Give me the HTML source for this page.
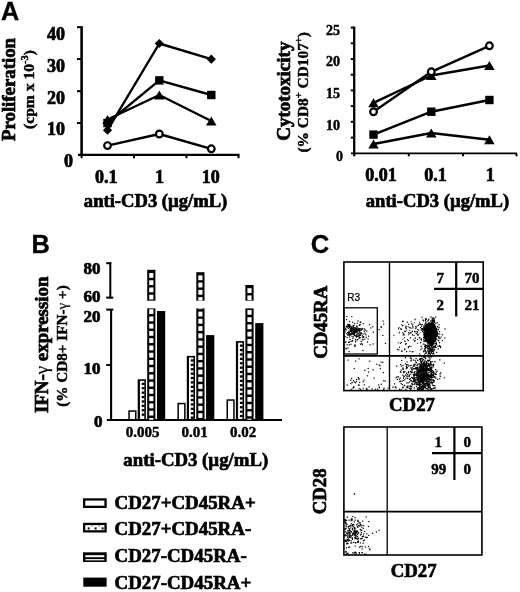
<!DOCTYPE html>
<html><head><meta charset="utf-8"><style>
html,body{margin:0;padding:0;background:#fff;}
body{width:520px;height:592px;overflow:hidden;}
svg{display:block;filter:grayscale(1);}
</style></head><body>
<svg width="520" height="592" viewBox="0 0 520 592">
<rect width="520" height="592" fill="#fff"/>
<text x="1.0" y="19.6" font-size="25.2" text-anchor="start" font-family="Liberation Sans" font-weight="bold" stroke="#000" stroke-width="0.3">A</text>
<text x="31.4" y="252.6" font-size="25.4" text-anchor="start" font-family="Liberation Sans" font-weight="bold" stroke="#000" stroke-width="0.3">B</text>
<text x="310.8" y="253.0" font-size="25.6" text-anchor="start" font-family="Liberation Sans" font-weight="bold" stroke="#000" stroke-width="0.3">C</text>
<line x1="81.6" y1="26.2" x2="81.6" y2="156" stroke="#000" stroke-width="2.6"/>
<line x1="78" y1="154.9" x2="239.5" y2="154.9" stroke="#000" stroke-width="2.1"/>
<line x1="77" y1="27.2" x2="81.6" y2="27.2" stroke="#000" stroke-width="2"/>
<line x1="77" y1="59.0" x2="81.6" y2="59.0" stroke="#000" stroke-width="2"/>
<line x1="77" y1="91.2" x2="81.6" y2="91.2" stroke="#000" stroke-width="2"/>
<line x1="77" y1="123.0" x2="81.6" y2="123.0" stroke="#000" stroke-width="2"/>
<line x1="81.6" y1="155" x2="81.6" y2="158.2" stroke="#000" stroke-width="2"/>
<line x1="134" y1="155" x2="134" y2="158.2" stroke="#000" stroke-width="2"/>
<line x1="186.5" y1="155" x2="186.5" y2="158.2" stroke="#000" stroke-width="2"/>
<line x1="238.5" y1="155" x2="238.5" y2="158.2" stroke="#000" stroke-width="2"/>
<text x="65" y="39.8" font-size="18" text-anchor="end" font-family="Liberation Serif" font-weight="bold" stroke="#000" stroke-width="0.7">40</text>
<text x="65" y="71.9" font-size="18" text-anchor="end" font-family="Liberation Serif" font-weight="bold" stroke="#000" stroke-width="0.7">30</text>
<text x="65" y="104.0" font-size="18" text-anchor="end" font-family="Liberation Serif" font-weight="bold" stroke="#000" stroke-width="0.7">20</text>
<text x="65" y="135.2" font-size="18" text-anchor="end" font-family="Liberation Serif" font-weight="bold" stroke="#000" stroke-width="0.7">10</text>
<text x="73" y="167.4" font-size="18" text-anchor="end" font-family="Liberation Serif" font-weight="bold" stroke="#000" stroke-width="0.7">0</text>
<text x="106.2" y="182.7" font-size="18" text-anchor="middle" font-family="Liberation Serif" font-weight="bold" stroke="#000" stroke-width="0.7">0.1</text>
<text x="159.4" y="182.7" font-size="18" text-anchor="middle" font-family="Liberation Serif" font-weight="bold" stroke="#000" stroke-width="0.7">1</text>
<text x="210.8" y="182.7" font-size="18" text-anchor="middle" font-family="Liberation Serif" font-weight="bold" stroke="#000" stroke-width="0.7">10</text>
<text x="155.6" y="206.7" font-size="18.6" text-anchor="middle" font-family="Liberation Serif" font-weight="bold" stroke="#000" stroke-width="0.7">anti-CD3 (µg/mL)</text>
<text transform="translate(15.3,89.5) rotate(-90)" font-size="18.8" text-anchor="middle" font-family="Liberation Serif" font-weight="bold" stroke="#000" stroke-width="0.7">Proliferation</text>
<text transform="translate(33.6,89.5) rotate(-90)" font-size="15.6" text-anchor="middle" font-family="Liberation Serif" font-weight="bold" stroke="#000" stroke-width="0.45">(cpm x 10<tspan font-size="10.5" dy="-6">-3</tspan><tspan dy="6">)</tspan></text>
<polyline points="107.5,130.2 159.3,43.5 211.3,59.2" fill="none" stroke="#000" stroke-width="2.4" stroke-linejoin="round"/>
<polyline points="107.5,123.0 159.3,80.4 211.3,95.0" fill="none" stroke="#000" stroke-width="2.4" stroke-linejoin="round"/>
<polyline points="107.5,119.5 159.3,95.0 211.3,121.0" fill="none" stroke="#000" stroke-width="2.4" stroke-linejoin="round"/>
<polyline points="107.5,145.6 159.3,134.0 211.3,148.8" fill="none" stroke="#000" stroke-width="2.4" stroke-linejoin="round"/>
<polygon points="107.5,125.6 112.1,130.2 107.5,134.79999999999998 102.9,130.2" fill="#000"/>
<polygon points="159.3,38.9 163.9,43.5 159.3,48.1 154.70000000000002,43.5" fill="#000"/>
<polygon points="211.3,54.6 215.9,59.2 211.3,63.800000000000004 206.70000000000002,59.2" fill="#000"/>
<rect x="103.3" y="118.8" width="8.4" height="8.4" fill="#000"/>
<rect x="155.10000000000002" y="76.2" width="8.4" height="8.4" fill="#000"/>
<rect x="207.10000000000002" y="90.8" width="8.4" height="8.4" fill="#000"/>
<polygon points="107.5,115.0 112.75,124.0 102.25,124.0" fill="#000"/>
<polygon points="159.3,90.5 164.55,99.5 154.05,99.5" fill="#000"/>
<polygon points="211.3,116.5 216.55,125.5 206.05,125.5" fill="#000"/>
<circle cx="107.5" cy="145.6" r="3.35" fill="#fff" stroke="#000" stroke-width="2.2"/>
<circle cx="159.3" cy="134.0" r="3.35" fill="#fff" stroke="#000" stroke-width="2.2"/>
<circle cx="211.3" cy="148.8" r="3.35" fill="#fff" stroke="#000" stroke-width="2.2"/>
<line x1="354.2" y1="26.6" x2="354.2" y2="154.5" stroke="#000" stroke-width="2.3"/>
<line x1="351" y1="153.4" x2="517" y2="153.4" stroke="#000" stroke-width="1.9"/>
<line x1="350.8" y1="27.6" x2="354.2" y2="27.6" stroke="#000" stroke-width="2"/>
<line x1="350.8" y1="43.3" x2="354.2" y2="43.3" stroke="#000" stroke-width="2"/>
<line x1="350.8" y1="59.0" x2="354.2" y2="59.0" stroke="#000" stroke-width="2"/>
<line x1="350.8" y1="74.7" x2="354.2" y2="74.7" stroke="#000" stroke-width="2"/>
<line x1="350.8" y1="90.4" x2="354.2" y2="90.4" stroke="#000" stroke-width="2"/>
<line x1="350.8" y1="106.1" x2="354.2" y2="106.1" stroke="#000" stroke-width="2"/>
<line x1="350.8" y1="121.8" x2="354.2" y2="121.8" stroke="#000" stroke-width="2"/>
<line x1="350.8" y1="137.6" x2="354.2" y2="137.6" stroke="#000" stroke-width="2"/>
<line x1="354.2" y1="153.4" x2="354.2" y2="156.3" stroke="#000" stroke-width="2"/>
<line x1="408.8" y1="153.4" x2="408.8" y2="156.3" stroke="#000" stroke-width="2"/>
<line x1="463" y1="153.4" x2="463" y2="156.3" stroke="#000" stroke-width="2"/>
<line x1="516.5" y1="153.4" x2="516.5" y2="156.3" stroke="#000" stroke-width="2"/>
<text x="340" y="34.6" font-size="14" text-anchor="end" font-family="Liberation Serif" font-weight="bold" stroke="#000" stroke-width="0.45">25</text>
<text x="340" y="66.3" font-size="14" text-anchor="end" font-family="Liberation Serif" font-weight="bold" stroke="#000" stroke-width="0.45">20</text>
<text x="340" y="98.0" font-size="14" text-anchor="end" font-family="Liberation Serif" font-weight="bold" stroke="#000" stroke-width="0.45">15</text>
<text x="340" y="129.8" font-size="14" text-anchor="end" font-family="Liberation Serif" font-weight="bold" stroke="#000" stroke-width="0.45">10</text>
<text x="343" y="160.7" font-size="14" text-anchor="end" font-family="Liberation Serif" font-weight="bold" stroke="#000" stroke-width="0.45">0</text>
<text x="381" y="180.7" font-size="18" text-anchor="middle" font-family="Liberation Serif" font-weight="bold" stroke="#000" stroke-width="0.7">0.01</text>
<text x="435.4" y="180.7" font-size="18" text-anchor="middle" font-family="Liberation Serif" font-weight="bold" stroke="#000" stroke-width="0.7">0.1</text>
<text x="490.2" y="180.7" font-size="18" text-anchor="middle" font-family="Liberation Serif" font-weight="bold" stroke="#000" stroke-width="0.7">1</text>
<text x="437.5" y="206.7" font-size="18.6" text-anchor="middle" font-family="Liberation Serif" font-weight="bold" stroke="#000" stroke-width="0.7">anti-CD3 (µg/mL)</text>
<text transform="translate(289.5,91.2) rotate(-90)" font-size="19" text-anchor="middle" font-family="Liberation Serif" font-weight="bold" stroke="#000" stroke-width="0.7">Cytotoxicity</text>
<text transform="translate(307.8,92.3) rotate(-90)" font-size="15.4" text-anchor="middle" font-family="Liberation Serif" font-weight="bold" stroke="#000" stroke-width="0.45">(% CD8<tspan font-size="10.5" dy="-6">+</tspan><tspan dy="6"> CD107</tspan><tspan font-size="10.5" dy="-6">+</tspan><tspan dy="6">)</tspan></text>
<polyline points="373.5,111.8 431.3,71.8 489.4,45.8" fill="none" stroke="#000" stroke-width="2.4" stroke-linejoin="round"/>
<polyline points="373.5,102.8 431.3,75.5 489.4,65.5" fill="none" stroke="#000" stroke-width="2.4" stroke-linejoin="round"/>
<polyline points="373.5,134.6 431.3,111.7 489.4,100.0" fill="none" stroke="#000" stroke-width="2.4" stroke-linejoin="round"/>
<polyline points="373.5,144.0 431.3,133.0 489.4,139.8" fill="none" stroke="#000" stroke-width="2.4" stroke-linejoin="round"/>
<polygon points="373.5,98.3 378.75,107.3 368.25,107.3" fill="#000"/>
<polygon points="431.3,71.0 436.55,80.0 426.05,80.0" fill="#000"/>
<polygon points="489.4,61.0 494.65,70.0 484.15,70.0" fill="#000"/>
<rect x="369.3" y="130.4" width="8.4" height="8.4" fill="#000"/>
<rect x="427.1" y="107.5" width="8.4" height="8.4" fill="#000"/>
<rect x="485.2" y="95.8" width="8.4" height="8.4" fill="#000"/>
<polygon points="373.5,139.5 378.75,148.5 368.25,148.5" fill="#000"/>
<polygon points="431.3,128.5 436.55,137.5 426.05,137.5" fill="#000"/>
<polygon points="489.4,135.3 494.65,144.3 484.15,144.3" fill="#000"/>
<circle cx="373.5" cy="111.8" r="3.35" fill="#fff" stroke="#000" stroke-width="2.2"/>
<circle cx="431.3" cy="71.8" r="3.35" fill="#fff" stroke="#000" stroke-width="2.2"/>
<circle cx="489.4" cy="45.8" r="3.35" fill="#fff" stroke="#000" stroke-width="2.2"/>
<line x1="110.3" y1="262.3" x2="110.3" y2="298.5" stroke="#000" stroke-width="2"/>
<line x1="106.2" y1="263.2" x2="111.3" y2="263.2" stroke="#000" stroke-width="2"/>
<line x1="106.2" y1="297.6" x2="113.3" y2="297.6" stroke="#000" stroke-width="2"/>
<line x1="106.2" y1="309.6" x2="113.3" y2="309.6" stroke="#000" stroke-width="2"/>
<line x1="111.1" y1="309.6" x2="111.1" y2="420.5" stroke="#000" stroke-width="2.1"/>
<line x1="106.3" y1="365" x2="111.1" y2="365" stroke="#000" stroke-width="2"/>
<line x1="106.8" y1="419.9" x2="282" y2="419.9" stroke="#000" stroke-width="2"/>
<text x="100.5" y="274" font-size="17" text-anchor="end" font-family="Liberation Serif" font-weight="bold" stroke="#000" stroke-width="0.7">80</text>
<text x="100.5" y="301.5" font-size="17" text-anchor="end" font-family="Liberation Serif" font-weight="bold" stroke="#000" stroke-width="0.7">60</text>
<text x="100.5" y="322" font-size="17" text-anchor="end" font-family="Liberation Serif" font-weight="bold" stroke="#000" stroke-width="0.7">20</text>
<text x="100.6" y="373.8" font-size="17" text-anchor="end" font-family="Liberation Serif" font-weight="bold" stroke="#000" stroke-width="0.7">10</text>
<text x="102.5" y="427.1" font-size="17" text-anchor="end" font-family="Liberation Serif" font-weight="bold" stroke="#000" stroke-width="0.7">0</text>
<text x="142.5" y="437.3" font-size="15" text-anchor="middle" font-family="Liberation Serif" font-weight="bold" stroke="#000" stroke-width="0.45">0.005</text>
<text x="194.5" y="437.3" font-size="15" text-anchor="middle" font-family="Liberation Serif" font-weight="bold" stroke="#000" stroke-width="0.45">0.01</text>
<text x="243.2" y="437.3" font-size="15" text-anchor="middle" font-family="Liberation Serif" font-weight="bold" stroke="#000" stroke-width="0.45">0.02</text>
<text x="195.8" y="465.7" font-size="18.8" text-anchor="middle" font-family="Liberation Serif" font-weight="bold" stroke="#000" stroke-width="0.7">anti-CD3 (µg/mL)</text>
<text transform="translate(47.8,344.8) rotate(-90)" font-size="18.9" text-anchor="middle" font-family="Liberation Serif" font-weight="bold" stroke="#000" stroke-width="0.7">IFN-<tspan font-weight="normal" stroke-width="0.2">γ</tspan> expression</text>
<text transform="translate(67.3,346.0) rotate(-90)" font-size="15.2" text-anchor="middle" font-family="Liberation Serif" font-weight="bold" stroke="#000" stroke-width="0.45">(% CD8+ IFN-<tspan font-weight="normal" stroke-width="0.2">γ</tspan> +)</text>
<rect x="129.05" y="411.05" width="6.699999999999999" height="8.75" fill="#fff" stroke="#000" stroke-width="1.5"/>
<rect x="138.50000000000003" y="380.1" width="6.6" height="39.7" fill="#fff" stroke="#000" stroke-width="1.6"/>
<rect x="138.9" y="380.5" width="1.0" height="39.3" fill="#000"/>
<rect x="141.70000000000002" y="382.70" width="2.8" height="2.3" fill="#000"/>
<rect x="141.70000000000002" y="387.10" width="2.8" height="2.3" fill="#000"/>
<rect x="141.70000000000002" y="391.50" width="2.8" height="2.3" fill="#000"/>
<rect x="141.70000000000002" y="395.90" width="2.8" height="2.3" fill="#000"/>
<rect x="141.70000000000002" y="400.30" width="2.8" height="2.3" fill="#000"/>
<rect x="141.70000000000002" y="404.70" width="2.8" height="2.3" fill="#000"/>
<rect x="141.70000000000002" y="409.10" width="2.8" height="2.3" fill="#000"/>
<rect x="141.70000000000002" y="413.50" width="2.8" height="2.3" fill="#000"/>
<rect x="147.20000000000002" y="269.8" width="8.2" height="30.899999999999977" fill="#000"/>
<rect x="149.20000000000002" y="273.00" width="4.199999999999999" height="4.80" fill="#fff"/>
<rect x="149.20000000000002" y="280.25" width="4.199999999999999" height="4.80" fill="#fff"/>
<rect x="149.20000000000002" y="287.50" width="4.199999999999999" height="4.80" fill="#fff"/>
<rect x="149.20000000000002" y="294.75" width="4.199999999999999" height="4.80" fill="#fff"/>
<rect x="147.20000000000002" y="308.4" width="8.2" height="111.40000000000003" fill="#000"/>
<rect x="149.20000000000002" y="309.25" width="4.199999999999999" height="4.80" fill="#fff"/>
<rect x="149.20000000000002" y="316.50" width="4.199999999999999" height="4.80" fill="#fff"/>
<rect x="149.20000000000002" y="323.75" width="4.199999999999999" height="4.80" fill="#fff"/>
<rect x="149.20000000000002" y="331.00" width="4.199999999999999" height="4.80" fill="#fff"/>
<rect x="149.20000000000002" y="338.25" width="4.199999999999999" height="4.80" fill="#fff"/>
<rect x="149.20000000000002" y="345.50" width="4.199999999999999" height="4.80" fill="#fff"/>
<rect x="149.20000000000002" y="352.75" width="4.199999999999999" height="4.80" fill="#fff"/>
<rect x="149.20000000000002" y="360.00" width="4.199999999999999" height="4.80" fill="#fff"/>
<rect x="149.20000000000002" y="367.25" width="4.199999999999999" height="4.80" fill="#fff"/>
<rect x="149.20000000000002" y="374.50" width="4.199999999999999" height="4.80" fill="#fff"/>
<rect x="149.20000000000002" y="381.75" width="4.199999999999999" height="4.80" fill="#fff"/>
<rect x="149.20000000000002" y="389.00" width="4.199999999999999" height="4.80" fill="#fff"/>
<rect x="149.20000000000002" y="396.25" width="4.199999999999999" height="4.80" fill="#fff"/>
<rect x="149.20000000000002" y="403.50" width="4.199999999999999" height="4.80" fill="#fff"/>
<rect x="149.20000000000002" y="410.75" width="4.199999999999999" height="4.80" fill="#fff"/>
<rect x="149.20000000000002" y="418.00" width="4.199999999999999" height="1.80" fill="#fff"/>
<rect x="157.0" y="311.0" width="8.2" height="108.80000000000001" fill="#000"/>
<rect x="178.15" y="403.55" width="6.699999999999999" height="16.25" fill="#fff" stroke="#000" stroke-width="1.5"/>
<rect x="187.60000000000002" y="356.7" width="6.6" height="63.10000000000004" fill="#fff" stroke="#000" stroke-width="1.6"/>
<rect x="188.0" y="357.09999999999997" width="1.0" height="62.70000000000003" fill="#000"/>
<rect x="190.8" y="359.30" width="2.8" height="2.3" fill="#000"/>
<rect x="190.8" y="363.70" width="2.8" height="2.3" fill="#000"/>
<rect x="190.8" y="368.10" width="2.8" height="2.3" fill="#000"/>
<rect x="190.8" y="372.50" width="2.8" height="2.3" fill="#000"/>
<rect x="190.8" y="376.90" width="2.8" height="2.3" fill="#000"/>
<rect x="190.8" y="381.30" width="2.8" height="2.3" fill="#000"/>
<rect x="190.8" y="385.70" width="2.8" height="2.3" fill="#000"/>
<rect x="190.8" y="390.10" width="2.8" height="2.3" fill="#000"/>
<rect x="190.8" y="394.50" width="2.8" height="2.3" fill="#000"/>
<rect x="190.8" y="398.90" width="2.8" height="2.3" fill="#000"/>
<rect x="190.8" y="403.30" width="2.8" height="2.3" fill="#000"/>
<rect x="190.8" y="407.70" width="2.8" height="2.3" fill="#000"/>
<rect x="190.8" y="412.10" width="2.8" height="2.3" fill="#000"/>
<rect x="190.8" y="416.50" width="2.8" height="2.3" fill="#000"/>
<rect x="196.3" y="272.2" width="8.2" height="28.5" fill="#000"/>
<rect x="198.3" y="275.40" width="4.199999999999999" height="4.80" fill="#fff"/>
<rect x="198.3" y="282.65" width="4.199999999999999" height="4.80" fill="#fff"/>
<rect x="198.3" y="289.90" width="4.199999999999999" height="4.80" fill="#fff"/>
<rect x="198.3" y="297.15" width="4.199999999999999" height="3.55" fill="#fff"/>
<rect x="196.3" y="308.4" width="8.2" height="111.40000000000003" fill="#000"/>
<rect x="198.3" y="308.40" width="4.199999999999999" height="0.80" fill="#fff"/>
<rect x="198.3" y="311.65" width="4.199999999999999" height="4.80" fill="#fff"/>
<rect x="198.3" y="318.90" width="4.199999999999999" height="4.80" fill="#fff"/>
<rect x="198.3" y="326.15" width="4.199999999999999" height="4.80" fill="#fff"/>
<rect x="198.3" y="333.40" width="4.199999999999999" height="4.80" fill="#fff"/>
<rect x="198.3" y="340.65" width="4.199999999999999" height="4.80" fill="#fff"/>
<rect x="198.3" y="347.90" width="4.199999999999999" height="4.80" fill="#fff"/>
<rect x="198.3" y="355.15" width="4.199999999999999" height="4.80" fill="#fff"/>
<rect x="198.3" y="362.40" width="4.199999999999999" height="4.80" fill="#fff"/>
<rect x="198.3" y="369.65" width="4.199999999999999" height="4.80" fill="#fff"/>
<rect x="198.3" y="376.90" width="4.199999999999999" height="4.80" fill="#fff"/>
<rect x="198.3" y="384.15" width="4.199999999999999" height="4.80" fill="#fff"/>
<rect x="198.3" y="391.40" width="4.199999999999999" height="4.80" fill="#fff"/>
<rect x="198.3" y="398.65" width="4.199999999999999" height="4.80" fill="#fff"/>
<rect x="198.3" y="405.90" width="4.199999999999999" height="4.80" fill="#fff"/>
<rect x="198.3" y="413.15" width="4.199999999999999" height="4.80" fill="#fff"/>
<rect x="206.1" y="335.1" width="8.2" height="84.69999999999999" fill="#000"/>
<rect x="227.25" y="400.05" width="6.699999999999999" height="19.75" fill="#fff" stroke="#000" stroke-width="1.5"/>
<rect x="236.70000000000002" y="341.90000000000003" width="6.6" height="77.89999999999999" fill="#fff" stroke="#000" stroke-width="1.6"/>
<rect x="237.1" y="342.3" width="1.0" height="77.49999999999999" fill="#000"/>
<rect x="239.9" y="344.50" width="2.8" height="2.3" fill="#000"/>
<rect x="239.9" y="348.90" width="2.8" height="2.3" fill="#000"/>
<rect x="239.9" y="353.30" width="2.8" height="2.3" fill="#000"/>
<rect x="239.9" y="357.70" width="2.8" height="2.3" fill="#000"/>
<rect x="239.9" y="362.10" width="2.8" height="2.3" fill="#000"/>
<rect x="239.9" y="366.50" width="2.8" height="2.3" fill="#000"/>
<rect x="239.9" y="370.90" width="2.8" height="2.3" fill="#000"/>
<rect x="239.9" y="375.30" width="2.8" height="2.3" fill="#000"/>
<rect x="239.9" y="379.70" width="2.8" height="2.3" fill="#000"/>
<rect x="239.9" y="384.10" width="2.8" height="2.3" fill="#000"/>
<rect x="239.9" y="388.50" width="2.8" height="2.3" fill="#000"/>
<rect x="239.9" y="392.90" width="2.8" height="2.3" fill="#000"/>
<rect x="239.9" y="397.30" width="2.8" height="2.3" fill="#000"/>
<rect x="239.9" y="401.70" width="2.8" height="2.3" fill="#000"/>
<rect x="239.9" y="406.10" width="2.8" height="2.3" fill="#000"/>
<rect x="239.9" y="410.50" width="2.8" height="2.3" fill="#000"/>
<rect x="239.9" y="414.90" width="2.8" height="2.3" fill="#000"/>
<rect x="245.4" y="285.0" width="8.2" height="15.699999999999989" fill="#000"/>
<rect x="247.4" y="288.20" width="4.199999999999999" height="4.80" fill="#fff"/>
<rect x="247.4" y="295.45" width="4.199999999999999" height="4.80" fill="#fff"/>
<rect x="245.4" y="308.4" width="8.2" height="111.40000000000003" fill="#000"/>
<rect x="247.4" y="309.95" width="4.199999999999999" height="4.80" fill="#fff"/>
<rect x="247.4" y="317.20" width="4.199999999999999" height="4.80" fill="#fff"/>
<rect x="247.4" y="324.45" width="4.199999999999999" height="4.80" fill="#fff"/>
<rect x="247.4" y="331.70" width="4.199999999999999" height="4.80" fill="#fff"/>
<rect x="247.4" y="338.95" width="4.199999999999999" height="4.80" fill="#fff"/>
<rect x="247.4" y="346.20" width="4.199999999999999" height="4.80" fill="#fff"/>
<rect x="247.4" y="353.45" width="4.199999999999999" height="4.80" fill="#fff"/>
<rect x="247.4" y="360.70" width="4.199999999999999" height="4.80" fill="#fff"/>
<rect x="247.4" y="367.95" width="4.199999999999999" height="4.80" fill="#fff"/>
<rect x="247.4" y="375.20" width="4.199999999999999" height="4.80" fill="#fff"/>
<rect x="247.4" y="382.45" width="4.199999999999999" height="4.80" fill="#fff"/>
<rect x="247.4" y="389.70" width="4.199999999999999" height="4.80" fill="#fff"/>
<rect x="247.4" y="396.95" width="4.199999999999999" height="4.80" fill="#fff"/>
<rect x="247.4" y="404.20" width="4.199999999999999" height="4.80" fill="#fff"/>
<rect x="247.4" y="411.45" width="4.199999999999999" height="4.80" fill="#fff"/>
<rect x="247.4" y="418.70" width="4.199999999999999" height="1.10" fill="#fff"/>
<rect x="255.2" y="323.1" width="8.2" height="96.69999999999999" fill="#000"/>
<rect x="84.15" y="499.45" width="21.4" height="7.3999999999999995" fill="#fff" stroke="#000" stroke-width="2.3"/>
<text x="114.5" y="508.5" font-size="18.9" text-anchor="start" font-family="Liberation Serif" font-weight="bold" stroke="#000" stroke-width="0.7">CD27+CD45RA+</text>
<rect x="84.15" y="523.9499999999999" width="21.4" height="7.3999999999999995" fill="#fff" stroke="#000" stroke-width="2.3"/>
<rect x="87.7" y="527.4" width="2.0" height="2.0" fill="#000"/>
<rect x="94.6" y="527.4" width="2.0" height="2.0" fill="#000"/>
<rect x="101.6" y="527.4" width="2.0" height="2.0" fill="#000"/>
<rect x="91.3" y="525.4" width="1.6" height="1.2" fill="#888"/>
<rect x="98.2" y="525.4" width="1.6" height="1.2" fill="#888"/>
<text x="114.5" y="535.0" font-size="18.9" text-anchor="start" font-family="Liberation Serif" font-weight="bold" stroke="#000" stroke-width="0.7">CD27+CD45RA-</text>
<rect x="83.0" y="552.3" width="23.7" height="9.7" fill="#000"/>
<rect x="85.4" y="555.1999999999999" width="18.9" height="2.0" fill="#fff"/>
<rect x="85.4" y="559.0" width="18.9" height="1.4" fill="#ddd"/>
<text x="114.5" y="562.0" font-size="18.9" text-anchor="start" font-family="Liberation Serif" font-weight="bold" stroke="#000" stroke-width="0.7">CD27-CD45RA-</text>
<rect x="83.3" y="577.6" width="23.3" height="9.1" fill="#000"/>
<text x="114.5" y="589.0" font-size="18.9" text-anchor="start" font-family="Liberation Serif" font-weight="bold" stroke="#000" stroke-width="0.7">CD27-CD45RA+</text>
<rect x="343.9" y="262" width="139.3" height="128.6" fill="none" stroke="#000" stroke-width="1.6"/>
<line x1="389.5" y1="262" x2="389.5" y2="390.6" stroke="#000" stroke-width="1.4"/>
<line x1="343.9" y1="355.9" x2="483.2" y2="355.9" stroke="#000" stroke-width="1.7"/>
<rect x="343.9" y="307.8" width="33.4" height="46.2" fill="none" stroke="#000" stroke-width="1.3"/>
<line x1="456.2" y1="262" x2="456.2" y2="316.5" stroke="#000" stroke-width="2.2"/>
<line x1="434" y1="288.8" x2="483.2" y2="288.8" stroke="#000" stroke-width="2.2"/>
<text x="444" y="282.5" font-size="15" text-anchor="end" font-family="Liberation Serif" font-weight="bold" stroke="#000" stroke-width="0.45">7</text>
<text x="479.5" y="282.5" font-size="15" text-anchor="end" font-family="Liberation Serif" font-weight="bold" stroke="#000" stroke-width="0.45">70</text>
<text x="444" y="309.5" font-size="15" text-anchor="end" font-family="Liberation Serif" font-weight="bold" stroke="#000" stroke-width="0.45">2</text>
<text x="479.5" y="309.5" font-size="15" text-anchor="end" font-family="Liberation Serif" font-weight="bold" stroke="#000" stroke-width="0.45">21</text>
<text x="347.2" y="300.6" font-size="10" text-anchor="start" font-family="Liberation Sans" stroke="#000" stroke-width="0.25">R3</text>
<text x="412.0" y="411.2" font-size="18.8" text-anchor="middle" font-family="Liberation Serif" font-weight="bold" stroke="#000" stroke-width="0.7">CD27</text>
<text transform="translate(326.5,322.3) rotate(-90)" font-size="18.8" text-anchor="middle" font-family="Liberation Serif" font-weight="bold" stroke="#000" stroke-width="0.7">CD45RA</text>
<rect x="343.9" y="427" width="138" height="128" fill="none" stroke="#000" stroke-width="1.6"/>
<line x1="387.2" y1="427" x2="387.2" y2="555" stroke="#000" stroke-width="1.3"/>
<line x1="343.9" y1="511.6" x2="481.9" y2="511.6" stroke="#000" stroke-width="1.6"/>
<line x1="454.4" y1="427" x2="454.4" y2="480" stroke="#000" stroke-width="2.2"/>
<line x1="432" y1="453.2" x2="481.9" y2="453.2" stroke="#000" stroke-width="2.2"/>
<text x="442" y="447.2" font-size="15" text-anchor="end" font-family="Liberation Serif" font-weight="bold" stroke="#000" stroke-width="0.45">1</text>
<text x="471" y="447.2" font-size="15" text-anchor="end" font-family="Liberation Serif" font-weight="bold" stroke="#000" stroke-width="0.45">0</text>
<text x="446.3" y="474.1" font-size="15" text-anchor="end" font-family="Liberation Serif" font-weight="bold" stroke="#000" stroke-width="0.45">99</text>
<text x="471" y="474.1" font-size="15" text-anchor="end" font-family="Liberation Serif" font-weight="bold" stroke="#000" stroke-width="0.45">0</text>
<text x="413.6" y="576.6" font-size="18.8" text-anchor="middle" font-family="Liberation Serif" font-weight="bold" stroke="#000" stroke-width="0.7">CD27</text>
<text transform="translate(326.3,491.4) rotate(-90)" font-size="18.8" text-anchor="middle" font-family="Liberation Serif" font-weight="bold" stroke="#000" stroke-width="0.7">CD28</text>
<rect x="432.0" y="337.4" width="1.3" height="1.3" fill="#000"/>
<rect x="434.6" y="336.3" width="1.3" height="1.3" fill="#000"/>
<rect x="426.6" y="338.3" width="1.3" height="1.3" fill="#000"/>
<rect x="428.3" y="332.4" width="1.3" height="1.3" fill="#000"/>
<rect x="428.7" y="333.4" width="1.3" height="1.3" fill="#000"/>
<rect x="431.3" y="334.1" width="1.3" height="1.3" fill="#000"/>
<rect x="431.8" y="326.4" width="1.3" height="1.3" fill="#000"/>
<rect x="430.2" y="336.2" width="1.3" height="1.3" fill="#000"/>
<rect x="434.8" y="329.8" width="1.3" height="1.3" fill="#000"/>
<rect x="425.9" y="337.4" width="1.3" height="1.3" fill="#000"/>
<rect x="436.1" y="335.6" width="1.3" height="1.3" fill="#000"/>
<rect x="428.3" y="342.1" width="1.3" height="1.3" fill="#000"/>
<rect x="431.7" y="335.3" width="1.3" height="1.3" fill="#000"/>
<rect x="431.3" y="327.2" width="1.3" height="1.3" fill="#000"/>
<rect x="427.4" y="330.3" width="1.3" height="1.3" fill="#000"/>
<rect x="426.2" y="338.6" width="1.3" height="1.3" fill="#000"/>
<rect x="434.4" y="335.6" width="1.3" height="1.3" fill="#000"/>
<rect x="430.3" y="335.0" width="1.3" height="1.3" fill="#000"/>
<rect x="425.0" y="336.4" width="1.3" height="1.3" fill="#000"/>
<rect x="426.7" y="329.5" width="1.3" height="1.3" fill="#000"/>
<rect x="428.5" y="339.3" width="1.3" height="1.3" fill="#000"/>
<rect x="428.0" y="323.6" width="1.3" height="1.3" fill="#000"/>
<rect x="426.9" y="330.2" width="1.3" height="1.3" fill="#000"/>
<rect x="433.2" y="327.1" width="1.3" height="1.3" fill="#000"/>
<rect x="428.5" y="341.3" width="1.3" height="1.3" fill="#000"/>
<rect x="434.7" y="339.6" width="1.3" height="1.3" fill="#000"/>
<rect x="430.0" y="325.7" width="1.3" height="1.3" fill="#000"/>
<rect x="427.3" y="332.8" width="1.3" height="1.3" fill="#000"/>
<rect x="429.2" y="330.7" width="1.3" height="1.3" fill="#000"/>
<rect x="424.7" y="328.4" width="1.3" height="1.3" fill="#000"/>
<rect x="427.4" y="341.7" width="1.3" height="1.3" fill="#000"/>
<rect x="425.3" y="327.6" width="1.3" height="1.3" fill="#000"/>
<rect x="425.0" y="334.7" width="1.3" height="1.3" fill="#000"/>
<rect x="435.5" y="329.2" width="1.3" height="1.3" fill="#000"/>
<rect x="427.5" y="326.3" width="1.3" height="1.3" fill="#000"/>
<rect x="429.4" y="330.1" width="1.3" height="1.3" fill="#000"/>
<rect x="435.2" y="332.2" width="1.3" height="1.3" fill="#000"/>
<rect x="428.6" y="341.9" width="1.3" height="1.3" fill="#000"/>
<rect x="427.8" y="326.8" width="1.3" height="1.3" fill="#000"/>
<rect x="428.9" y="332.9" width="1.3" height="1.3" fill="#000"/>
<rect x="431.9" y="335.5" width="1.3" height="1.3" fill="#000"/>
<rect x="430.0" y="330.0" width="1.3" height="1.3" fill="#000"/>
<rect x="429.9" y="336.4" width="1.3" height="1.3" fill="#000"/>
<rect x="432.7" y="327.8" width="1.3" height="1.3" fill="#000"/>
<rect x="428.1" y="333.5" width="1.3" height="1.3" fill="#000"/>
<rect x="433.5" y="327.3" width="1.3" height="1.3" fill="#000"/>
<rect x="433.8" y="325.3" width="1.3" height="1.3" fill="#000"/>
<rect x="426.8" y="335.4" width="1.3" height="1.3" fill="#000"/>
<rect x="432.8" y="328.3" width="1.3" height="1.3" fill="#000"/>
<rect x="433.6" y="341.0" width="1.3" height="1.3" fill="#000"/>
<rect x="430.2" y="337.0" width="1.3" height="1.3" fill="#000"/>
<rect x="426.7" y="333.0" width="1.3" height="1.3" fill="#000"/>
<rect x="429.4" y="340.7" width="1.3" height="1.3" fill="#000"/>
<rect x="429.5" y="332.9" width="1.3" height="1.3" fill="#000"/>
<rect x="426.2" y="329.9" width="1.3" height="1.3" fill="#000"/>
<rect x="427.5" y="322.9" width="1.3" height="1.3" fill="#000"/>
<rect x="426.3" y="327.4" width="1.3" height="1.3" fill="#000"/>
<rect x="435.0" y="335.5" width="1.3" height="1.3" fill="#000"/>
<rect x="431.0" y="322.7" width="1.3" height="1.3" fill="#000"/>
<rect x="431.7" y="323.1" width="1.3" height="1.3" fill="#000"/>
<rect x="426.5" y="336.5" width="1.3" height="1.3" fill="#000"/>
<rect x="428.4" y="330.0" width="1.3" height="1.3" fill="#000"/>
<rect x="431.4" y="333.6" width="1.3" height="1.3" fill="#000"/>
<rect x="431.4" y="336.7" width="1.3" height="1.3" fill="#000"/>
<rect x="433.5" y="334.6" width="1.3" height="1.3" fill="#000"/>
<rect x="429.9" y="332.7" width="1.3" height="1.3" fill="#000"/>
<rect x="428.5" y="335.1" width="1.3" height="1.3" fill="#000"/>
<rect x="430.6" y="331.3" width="1.3" height="1.3" fill="#000"/>
<rect x="432.9" y="339.2" width="1.3" height="1.3" fill="#000"/>
<rect x="427.9" y="336.9" width="1.3" height="1.3" fill="#000"/>
<rect x="432.7" y="337.0" width="1.3" height="1.3" fill="#000"/>
<rect x="435.9" y="332.1" width="1.3" height="1.3" fill="#000"/>
<rect x="425.4" y="333.3" width="1.3" height="1.3" fill="#000"/>
<rect x="431.4" y="334.4" width="1.3" height="1.3" fill="#000"/>
<rect x="429.5" y="338.7" width="1.3" height="1.3" fill="#000"/>
<rect x="433.0" y="340.7" width="1.3" height="1.3" fill="#000"/>
<rect x="430.8" y="332.1" width="1.3" height="1.3" fill="#000"/>
<rect x="432.8" y="338.7" width="1.3" height="1.3" fill="#000"/>
<rect x="434.6" y="333.9" width="1.3" height="1.3" fill="#000"/>
<rect x="434.6" y="331.5" width="1.3" height="1.3" fill="#000"/>
<rect x="427.8" y="323.3" width="1.3" height="1.3" fill="#000"/>
<rect x="427.6" y="336.6" width="1.3" height="1.3" fill="#000"/>
<rect x="430.2" y="328.3" width="1.3" height="1.3" fill="#000"/>
<rect x="430.7" y="324.9" width="1.3" height="1.3" fill="#000"/>
<rect x="430.5" y="338.5" width="1.3" height="1.3" fill="#000"/>
<rect x="435.8" y="331.6" width="1.3" height="1.3" fill="#000"/>
<rect x="432.0" y="323.4" width="1.3" height="1.3" fill="#000"/>
<rect x="429.5" y="323.0" width="1.3" height="1.3" fill="#000"/>
<rect x="426.7" y="332.0" width="1.3" height="1.3" fill="#000"/>
<rect x="433.7" y="333.7" width="1.3" height="1.3" fill="#000"/>
<rect x="429.6" y="334.3" width="1.3" height="1.3" fill="#000"/>
<rect x="428.7" y="327.5" width="1.3" height="1.3" fill="#000"/>
<rect x="423.7" y="335.9" width="1.3" height="1.3" fill="#000"/>
<rect x="436.2" y="331.8" width="1.3" height="1.3" fill="#000"/>
<rect x="425.6" y="340.3" width="1.3" height="1.3" fill="#000"/>
<rect x="430.3" y="337.5" width="1.3" height="1.3" fill="#000"/>
<rect x="430.7" y="337.1" width="1.3" height="1.3" fill="#000"/>
<rect x="434.1" y="327.6" width="1.3" height="1.3" fill="#000"/>
<rect x="423.8" y="333.8" width="1.3" height="1.3" fill="#000"/>
<rect x="431.5" y="324.4" width="1.3" height="1.3" fill="#000"/>
<rect x="428.8" y="329.9" width="1.3" height="1.3" fill="#000"/>
<rect x="431.1" y="322.6" width="1.3" height="1.3" fill="#000"/>
<rect x="424.2" y="333.8" width="1.3" height="1.3" fill="#000"/>
<rect x="430.5" y="328.2" width="1.3" height="1.3" fill="#000"/>
<rect x="431.0" y="326.7" width="1.3" height="1.3" fill="#000"/>
<rect x="424.7" y="338.9" width="1.3" height="1.3" fill="#000"/>
<rect x="433.8" y="330.3" width="1.3" height="1.3" fill="#000"/>
<rect x="432.6" y="340.5" width="1.3" height="1.3" fill="#000"/>
<rect x="431.2" y="335.6" width="1.3" height="1.3" fill="#000"/>
<rect x="432.0" y="323.1" width="1.3" height="1.3" fill="#000"/>
<rect x="431.0" y="329.0" width="1.3" height="1.3" fill="#000"/>
<rect x="426.3" y="323.8" width="1.3" height="1.3" fill="#000"/>
<rect x="426.1" y="330.7" width="1.3" height="1.3" fill="#000"/>
<rect x="432.2" y="332.9" width="1.3" height="1.3" fill="#000"/>
<rect x="426.0" y="324.1" width="1.3" height="1.3" fill="#000"/>
<rect x="434.2" y="329.4" width="1.3" height="1.3" fill="#000"/>
<rect x="432.9" y="327.5" width="1.3" height="1.3" fill="#000"/>
<rect x="431.3" y="341.9" width="1.3" height="1.3" fill="#000"/>
<rect x="429.0" y="337.7" width="1.3" height="1.3" fill="#000"/>
<rect x="427.1" y="329.9" width="1.3" height="1.3" fill="#000"/>
<rect x="426.9" y="335.2" width="1.3" height="1.3" fill="#000"/>
<rect x="431.9" y="330.5" width="1.3" height="1.3" fill="#000"/>
<rect x="426.1" y="334.2" width="1.3" height="1.3" fill="#000"/>
<rect x="434.0" y="328.0" width="1.3" height="1.3" fill="#000"/>
<rect x="433.6" y="329.2" width="1.3" height="1.3" fill="#000"/>
<rect x="425.3" y="331.1" width="1.3" height="1.3" fill="#000"/>
<rect x="434.6" y="333.4" width="1.3" height="1.3" fill="#000"/>
<rect x="431.6" y="339.0" width="1.3" height="1.3" fill="#000"/>
<rect x="430.0" y="331.9" width="1.3" height="1.3" fill="#000"/>
<rect x="427.1" y="333.3" width="1.3" height="1.3" fill="#000"/>
<rect x="424.6" y="329.4" width="1.3" height="1.3" fill="#000"/>
<rect x="426.1" y="331.9" width="1.3" height="1.3" fill="#000"/>
<rect x="430.9" y="324.8" width="1.3" height="1.3" fill="#000"/>
<rect x="427.9" y="331.3" width="1.3" height="1.3" fill="#000"/>
<rect x="429.3" y="337.8" width="1.3" height="1.3" fill="#000"/>
<rect x="424.1" y="332.1" width="1.3" height="1.3" fill="#000"/>
<rect x="430.2" y="324.6" width="1.3" height="1.3" fill="#000"/>
<rect x="423.9" y="336.1" width="1.3" height="1.3" fill="#000"/>
<rect x="424.7" y="332.3" width="1.3" height="1.3" fill="#000"/>
<rect x="428.2" y="325.4" width="1.3" height="1.3" fill="#000"/>
<rect x="425.5" y="331.1" width="1.3" height="1.3" fill="#000"/>
<rect x="434.1" y="329.9" width="1.3" height="1.3" fill="#000"/>
<rect x="433.8" y="326.3" width="1.3" height="1.3" fill="#000"/>
<rect x="429.5" y="342.8" width="1.3" height="1.3" fill="#000"/>
<rect x="434.5" y="329.8" width="1.3" height="1.3" fill="#000"/>
<rect x="433.8" y="339.9" width="1.3" height="1.3" fill="#000"/>
<rect x="427.7" y="333.9" width="1.3" height="1.3" fill="#000"/>
<rect x="430.0" y="335.4" width="1.3" height="1.3" fill="#000"/>
<rect x="429.0" y="330.0" width="1.3" height="1.3" fill="#000"/>
<rect x="434.5" y="326.9" width="1.3" height="1.3" fill="#000"/>
<rect x="429.3" y="328.5" width="1.3" height="1.3" fill="#000"/>
<rect x="433.2" y="339.3" width="1.3" height="1.3" fill="#000"/>
<rect x="435.9" y="330.5" width="1.3" height="1.3" fill="#000"/>
<rect x="432.8" y="331.1" width="1.3" height="1.3" fill="#000"/>
<rect x="425.7" y="333.1" width="1.3" height="1.3" fill="#000"/>
<rect x="433.1" y="323.4" width="1.3" height="1.3" fill="#000"/>
<rect x="427.4" y="334.3" width="1.3" height="1.3" fill="#000"/>
<rect x="427.3" y="339.0" width="1.3" height="1.3" fill="#000"/>
<rect x="428.6" y="336.8" width="1.3" height="1.3" fill="#000"/>
<rect x="435.4" y="333.6" width="1.3" height="1.3" fill="#000"/>
<rect x="425.3" y="335.4" width="1.3" height="1.3" fill="#000"/>
<rect x="429.4" y="333.8" width="1.3" height="1.3" fill="#000"/>
<rect x="424.7" y="331.9" width="1.3" height="1.3" fill="#000"/>
<rect x="431.5" y="332.3" width="1.3" height="1.3" fill="#000"/>
<rect x="435.6" y="330.9" width="1.3" height="1.3" fill="#000"/>
<rect x="429.6" y="336.0" width="1.3" height="1.3" fill="#000"/>
<rect x="430.1" y="330.5" width="1.3" height="1.3" fill="#000"/>
<rect x="432.2" y="336.6" width="1.3" height="1.3" fill="#000"/>
<rect x="433.5" y="328.9" width="1.3" height="1.3" fill="#000"/>
<rect x="429.5" y="342.1" width="1.3" height="1.3" fill="#000"/>
<rect x="432.1" y="330.6" width="1.3" height="1.3" fill="#000"/>
<rect x="428.3" y="324.9" width="1.3" height="1.3" fill="#000"/>
<rect x="431.7" y="333.7" width="1.3" height="1.3" fill="#000"/>
<rect x="425.0" y="336.5" width="1.3" height="1.3" fill="#000"/>
<rect x="431.5" y="331.5" width="1.3" height="1.3" fill="#000"/>
<rect x="431.5" y="324.5" width="1.3" height="1.3" fill="#000"/>
<rect x="431.0" y="330.1" width="1.3" height="1.3" fill="#000"/>
<rect x="431.0" y="330.5" width="1.3" height="1.3" fill="#000"/>
<rect x="427.5" y="338.6" width="1.3" height="1.3" fill="#000"/>
<rect x="434.2" y="329.0" width="1.3" height="1.3" fill="#000"/>
<rect x="432.2" y="336.5" width="1.3" height="1.3" fill="#000"/>
<rect x="430.2" y="340.2" width="1.3" height="1.3" fill="#000"/>
<rect x="431.0" y="335.5" width="1.3" height="1.3" fill="#000"/>
<rect x="430.3" y="334.8" width="1.3" height="1.3" fill="#000"/>
<rect x="428.6" y="338.1" width="1.3" height="1.3" fill="#000"/>
<rect x="428.4" y="341.5" width="1.3" height="1.3" fill="#000"/>
<rect x="431.9" y="339.3" width="1.3" height="1.3" fill="#000"/>
<rect x="433.7" y="333.3" width="1.3" height="1.3" fill="#000"/>
<rect x="433.1" y="333.1" width="1.3" height="1.3" fill="#000"/>
<rect x="424.5" y="329.7" width="1.3" height="1.3" fill="#000"/>
<rect x="427.0" y="333.3" width="1.3" height="1.3" fill="#000"/>
<rect x="434.9" y="338.9" width="1.3" height="1.3" fill="#000"/>
<rect x="424.4" y="336.5" width="1.3" height="1.3" fill="#000"/>
<rect x="432.2" y="326.1" width="1.3" height="1.3" fill="#000"/>
<rect x="425.7" y="332.3" width="1.3" height="1.3" fill="#000"/>
<rect x="435.3" y="331.6" width="1.3" height="1.3" fill="#000"/>
<rect x="431.8" y="327.2" width="1.3" height="1.3" fill="#000"/>
<rect x="426.2" y="325.8" width="1.3" height="1.3" fill="#000"/>
<rect x="427.4" y="338.1" width="1.3" height="1.3" fill="#000"/>
<rect x="430.9" y="334.4" width="1.3" height="1.3" fill="#000"/>
<rect x="429.7" y="329.7" width="1.3" height="1.3" fill="#000"/>
<rect x="431.6" y="337.1" width="1.3" height="1.3" fill="#000"/>
<rect x="430.9" y="330.0" width="1.3" height="1.3" fill="#000"/>
<rect x="426.9" y="323.9" width="1.3" height="1.3" fill="#000"/>
<rect x="430.0" y="338.2" width="1.3" height="1.3" fill="#000"/>
<rect x="426.4" y="334.0" width="1.3" height="1.3" fill="#000"/>
<rect x="427.4" y="334.0" width="1.3" height="1.3" fill="#000"/>
<rect x="433.1" y="331.3" width="1.3" height="1.3" fill="#000"/>
<rect x="423.6" y="329.5" width="1.3" height="1.3" fill="#000"/>
<rect x="433.0" y="331.4" width="1.3" height="1.3" fill="#000"/>
<rect x="427.6" y="337.2" width="1.3" height="1.3" fill="#000"/>
<rect x="429.7" y="332.8" width="1.3" height="1.3" fill="#000"/>
<rect x="425.3" y="332.4" width="1.3" height="1.3" fill="#000"/>
<rect x="426.9" y="332.4" width="1.3" height="1.3" fill="#000"/>
<rect x="429.8" y="333.3" width="1.3" height="1.3" fill="#000"/>
<rect x="428.3" y="334.4" width="1.3" height="1.3" fill="#000"/>
<rect x="431.2" y="332.9" width="1.3" height="1.3" fill="#000"/>
<rect x="430.2" y="338.4" width="1.3" height="1.3" fill="#000"/>
<rect x="424.9" y="331.1" width="1.3" height="1.3" fill="#000"/>
<rect x="426.7" y="324.9" width="1.3" height="1.3" fill="#000"/>
<rect x="433.9" y="326.4" width="1.3" height="1.3" fill="#000"/>
<rect x="428.0" y="338.4" width="1.3" height="1.3" fill="#000"/>
<rect x="433.7" y="341.0" width="1.3" height="1.3" fill="#000"/>
<rect x="426.4" y="325.5" width="1.3" height="1.3" fill="#000"/>
<rect x="430.6" y="330.6" width="1.3" height="1.3" fill="#000"/>
<rect x="425.5" y="325.4" width="1.3" height="1.3" fill="#000"/>
<rect x="432.0" y="324.2" width="1.3" height="1.3" fill="#000"/>
<rect x="427.4" y="332.0" width="1.3" height="1.3" fill="#000"/>
<rect x="432.2" y="326.1" width="1.3" height="1.3" fill="#000"/>
<rect x="432.6" y="324.1" width="1.3" height="1.3" fill="#000"/>
<rect x="433.8" y="327.5" width="1.3" height="1.3" fill="#000"/>
<rect x="427.9" y="324.3" width="1.3" height="1.3" fill="#000"/>
<rect x="433.0" y="333.5" width="1.3" height="1.3" fill="#000"/>
<rect x="428.3" y="335.5" width="1.3" height="1.3" fill="#000"/>
<rect x="430.9" y="329.6" width="1.3" height="1.3" fill="#000"/>
<rect x="426.4" y="326.9" width="1.3" height="1.3" fill="#000"/>
<rect x="427.6" y="324.9" width="1.3" height="1.3" fill="#000"/>
<rect x="434.5" y="332.7" width="1.3" height="1.3" fill="#000"/>
<rect x="429.8" y="323.1" width="1.3" height="1.3" fill="#000"/>
<rect x="425.3" y="330.9" width="1.3" height="1.3" fill="#000"/>
<rect x="434.8" y="336.0" width="1.3" height="1.3" fill="#000"/>
<rect x="429.8" y="341.6" width="1.3" height="1.3" fill="#000"/>
<rect x="429.7" y="335.4" width="1.3" height="1.3" fill="#000"/>
<rect x="431.4" y="341.2" width="1.3" height="1.3" fill="#000"/>
<rect x="435.5" y="331.2" width="1.3" height="1.3" fill="#000"/>
<rect x="426.4" y="337.6" width="1.3" height="1.3" fill="#000"/>
<rect x="428.0" y="325.8" width="1.3" height="1.3" fill="#000"/>
<rect x="425.6" y="326.3" width="1.3" height="1.3" fill="#000"/>
<rect x="434.5" y="336.5" width="1.3" height="1.3" fill="#000"/>
<rect x="429.8" y="336.6" width="1.3" height="1.3" fill="#000"/>
<rect x="427.9" y="341.2" width="1.3" height="1.3" fill="#000"/>
<rect x="434.8" y="333.2" width="1.3" height="1.3" fill="#000"/>
<rect x="429.7" y="335.1" width="1.3" height="1.3" fill="#000"/>
<rect x="427.9" y="324.4" width="1.3" height="1.3" fill="#000"/>
<rect x="428.5" y="341.0" width="1.3" height="1.3" fill="#000"/>
<rect x="425.2" y="334.2" width="1.3" height="1.3" fill="#000"/>
<rect x="433.2" y="337.5" width="1.3" height="1.3" fill="#000"/>
<rect x="431.8" y="342.1" width="1.3" height="1.3" fill="#000"/>
<rect x="435.9" y="328.5" width="1.3" height="1.3" fill="#000"/>
<rect x="429.0" y="332.9" width="1.3" height="1.3" fill="#000"/>
<rect x="435.7" y="330.6" width="1.3" height="1.3" fill="#000"/>
<rect x="429.3" y="339.6" width="1.3" height="1.3" fill="#000"/>
<rect x="432.7" y="330.9" width="1.3" height="1.3" fill="#000"/>
<rect x="427.2" y="330.2" width="1.3" height="1.3" fill="#000"/>
<rect x="427.4" y="331.9" width="1.3" height="1.3" fill="#000"/>
<rect x="434.2" y="340.2" width="1.3" height="1.3" fill="#000"/>
<rect x="423.9" y="332.0" width="1.3" height="1.3" fill="#000"/>
<rect x="428.1" y="323.0" width="1.3" height="1.3" fill="#000"/>
<rect x="432.4" y="329.5" width="1.3" height="1.3" fill="#000"/>
<rect x="434.4" y="333.7" width="1.3" height="1.3" fill="#000"/>
<rect x="429.5" y="332.6" width="1.3" height="1.3" fill="#000"/>
<rect x="428.4" y="339.3" width="1.3" height="1.3" fill="#000"/>
<rect x="428.5" y="335.9" width="1.3" height="1.3" fill="#000"/>
<rect x="431.8" y="327.5" width="1.3" height="1.3" fill="#000"/>
<rect x="429.9" y="332.1" width="1.3" height="1.3" fill="#000"/>
<rect x="434.3" y="339.2" width="1.3" height="1.3" fill="#000"/>
<rect x="428.4" y="322.6" width="1.3" height="1.3" fill="#000"/>
<rect x="428.3" y="342.3" width="1.3" height="1.3" fill="#000"/>
<rect x="426.7" y="336.6" width="1.3" height="1.3" fill="#000"/>
<rect x="424.3" y="326.9" width="1.3" height="1.3" fill="#000"/>
<rect x="426.3" y="335.3" width="1.3" height="1.3" fill="#000"/>
<rect x="433.2" y="334.2" width="1.3" height="1.3" fill="#000"/>
<rect x="430.9" y="329.6" width="1.3" height="1.3" fill="#000"/>
<rect x="433.1" y="330.3" width="1.3" height="1.3" fill="#000"/>
<rect x="429.5" y="337.8" width="1.3" height="1.3" fill="#000"/>
<rect x="431.6" y="339.6" width="1.3" height="1.3" fill="#000"/>
<rect x="433.7" y="330.8" width="1.3" height="1.3" fill="#000"/>
<rect x="432.2" y="323.3" width="1.3" height="1.3" fill="#000"/>
<rect x="434.3" y="328.2" width="1.3" height="1.3" fill="#000"/>
<rect x="423.8" y="329.4" width="1.3" height="1.3" fill="#000"/>
<rect x="435.2" y="335.3" width="1.3" height="1.3" fill="#000"/>
<rect x="424.5" y="335.3" width="1.3" height="1.3" fill="#000"/>
<rect x="426.3" y="325.3" width="1.3" height="1.3" fill="#000"/>
<rect x="433.2" y="334.3" width="1.3" height="1.3" fill="#000"/>
<rect x="434.3" y="339.9" width="1.3" height="1.3" fill="#000"/>
<rect x="427.3" y="338.6" width="1.3" height="1.3" fill="#000"/>
<rect x="429.6" y="326.8" width="1.3" height="1.3" fill="#000"/>
<rect x="429.4" y="343.0" width="1.3" height="1.3" fill="#000"/>
<rect x="428.2" y="340.7" width="1.3" height="1.3" fill="#000"/>
<rect x="426.0" y="337.4" width="1.3" height="1.3" fill="#000"/>
<rect x="431.3" y="336.2" width="1.3" height="1.3" fill="#000"/>
<rect x="432.3" y="329.9" width="1.3" height="1.3" fill="#000"/>
<rect x="430.7" y="339.9" width="1.3" height="1.3" fill="#000"/>
<rect x="436.1" y="332.3" width="1.3" height="1.3" fill="#000"/>
<rect x="432.7" y="338.0" width="1.3" height="1.3" fill="#000"/>
<rect x="432.3" y="335.1" width="1.3" height="1.3" fill="#000"/>
<rect x="433.1" y="335.9" width="1.3" height="1.3" fill="#000"/>
<rect x="429.7" y="337.7" width="1.3" height="1.3" fill="#000"/>
<rect x="433.6" y="327.3" width="1.3" height="1.3" fill="#000"/>
<rect x="425.0" y="337.3" width="1.3" height="1.3" fill="#000"/>
<rect x="425.7" y="331.5" width="1.3" height="1.3" fill="#000"/>
<rect x="427.7" y="338.1" width="1.3" height="1.3" fill="#000"/>
<rect x="429.6" y="335.2" width="1.3" height="1.3" fill="#000"/>
<rect x="434.4" y="340.0" width="1.3" height="1.3" fill="#000"/>
<rect x="426.6" y="327.1" width="1.3" height="1.3" fill="#000"/>
<rect x="431.2" y="342.2" width="1.3" height="1.3" fill="#000"/>
<rect x="429.9" y="338.1" width="1.3" height="1.3" fill="#000"/>
<rect x="425.9" y="334.8" width="1.3" height="1.3" fill="#000"/>
<rect x="433.6" y="324.1" width="1.3" height="1.3" fill="#000"/>
<rect x="436.0" y="333.9" width="1.3" height="1.3" fill="#000"/>
<rect x="429.6" y="330.7" width="1.3" height="1.3" fill="#000"/>
<rect x="423.7" y="334.2" width="1.3" height="1.3" fill="#000"/>
<rect x="434.9" y="332.6" width="1.3" height="1.3" fill="#000"/>
<rect x="433.6" y="329.6" width="1.3" height="1.3" fill="#000"/>
<rect x="433.5" y="325.0" width="1.3" height="1.3" fill="#000"/>
<rect x="429.9" y="343.0" width="1.3" height="1.3" fill="#000"/>
<rect x="431.1" y="335.4" width="1.3" height="1.3" fill="#000"/>
<rect x="427.9" y="325.6" width="1.3" height="1.3" fill="#000"/>
<rect x="428.7" y="322.4" width="1.3" height="1.3" fill="#000"/>
<rect x="430.3" y="324.1" width="1.3" height="1.3" fill="#000"/>
<rect x="425.6" y="330.3" width="1.3" height="1.3" fill="#000"/>
<rect x="430.1" y="330.5" width="1.3" height="1.3" fill="#000"/>
<rect x="432.6" y="330.1" width="1.3" height="1.3" fill="#000"/>
<rect x="428.1" y="340.6" width="1.3" height="1.3" fill="#000"/>
<rect x="429.8" y="336.3" width="1.3" height="1.3" fill="#000"/>
<rect x="428.2" y="324.5" width="1.3" height="1.3" fill="#000"/>
<rect x="431.8" y="334.1" width="1.3" height="1.3" fill="#000"/>
<rect x="425.7" y="328.7" width="1.3" height="1.3" fill="#000"/>
<rect x="430.5" y="339.1" width="1.3" height="1.3" fill="#000"/>
<rect x="435.0" y="333.1" width="1.3" height="1.3" fill="#000"/>
<rect x="426.3" y="334.0" width="1.3" height="1.3" fill="#000"/>
<rect x="425.9" y="324.4" width="1.3" height="1.3" fill="#000"/>
<rect x="423.7" y="334.1" width="1.3" height="1.3" fill="#000"/>
<rect x="429.9" y="337.7" width="1.3" height="1.3" fill="#000"/>
<rect x="428.0" y="322.6" width="1.3" height="1.3" fill="#000"/>
<rect x="433.5" y="333.4" width="1.3" height="1.3" fill="#000"/>
<rect x="427.7" y="325.9" width="1.3" height="1.3" fill="#000"/>
<rect x="429.7" y="339.4" width="1.3" height="1.3" fill="#000"/>
<rect x="434.7" y="328.6" width="1.3" height="1.3" fill="#000"/>
<rect x="432.9" y="333.6" width="1.3" height="1.3" fill="#000"/>
<rect x="426.5" y="335.5" width="1.3" height="1.3" fill="#000"/>
<rect x="431.6" y="340.8" width="1.3" height="1.3" fill="#000"/>
<rect x="429.4" y="323.1" width="1.3" height="1.3" fill="#000"/>
<rect x="431.2" y="339.8" width="1.3" height="1.3" fill="#000"/>
<rect x="427.4" y="342.2" width="1.3" height="1.3" fill="#000"/>
<rect x="430.6" y="342.1" width="1.3" height="1.3" fill="#000"/>
<rect x="430.1" y="327.6" width="1.3" height="1.3" fill="#000"/>
<rect x="433.3" y="330.8" width="1.3" height="1.3" fill="#000"/>
<rect x="431.6" y="339.4" width="1.3" height="1.3" fill="#000"/>
<rect x="427.1" y="335.0" width="1.3" height="1.3" fill="#000"/>
<rect x="435.0" y="329.8" width="1.3" height="1.3" fill="#000"/>
<rect x="427.9" y="335.1" width="1.3" height="1.3" fill="#000"/>
<rect x="432.9" y="331.8" width="1.3" height="1.3" fill="#000"/>
<rect x="432.2" y="333.8" width="1.3" height="1.3" fill="#000"/>
<rect x="428.6" y="334.2" width="1.3" height="1.3" fill="#000"/>
<rect x="434.5" y="325.8" width="1.3" height="1.3" fill="#000"/>
<rect x="435.5" y="332.4" width="1.3" height="1.3" fill="#000"/>
<rect x="426.8" y="341.5" width="1.3" height="1.3" fill="#000"/>
<rect x="432.5" y="330.8" width="1.3" height="1.3" fill="#000"/>
<rect x="435.4" y="334.4" width="1.3" height="1.3" fill="#000"/>
<rect x="426.0" y="338.5" width="1.3" height="1.3" fill="#000"/>
<rect x="427.9" y="338.2" width="1.3" height="1.3" fill="#000"/>
<rect x="432.6" y="332.6" width="1.3" height="1.3" fill="#000"/>
<rect x="427.8" y="337.1" width="1.3" height="1.3" fill="#000"/>
<rect x="434.4" y="339.8" width="1.3" height="1.3" fill="#000"/>
<rect x="431.6" y="342.6" width="1.3" height="1.3" fill="#000"/>
<rect x="431.6" y="326.8" width="1.3" height="1.3" fill="#000"/>
<rect x="424.4" y="336.5" width="1.3" height="1.3" fill="#000"/>
<rect x="428.4" y="332.9" width="1.3" height="1.3" fill="#000"/>
<rect x="433.4" y="329.4" width="1.3" height="1.3" fill="#000"/>
<rect x="427.9" y="336.1" width="1.3" height="1.3" fill="#000"/>
<rect x="436.0" y="334.4" width="1.3" height="1.3" fill="#000"/>
<rect x="431.5" y="326.3" width="1.3" height="1.3" fill="#000"/>
<rect x="435.4" y="334.9" width="1.3" height="1.3" fill="#000"/>
<rect x="431.0" y="333.3" width="1.3" height="1.3" fill="#000"/>
<rect x="429.6" y="342.7" width="1.3" height="1.3" fill="#000"/>
<rect x="434.4" y="327.1" width="1.3" height="1.3" fill="#000"/>
<rect x="429.3" y="338.7" width="1.3" height="1.3" fill="#000"/>
<rect x="425.1" y="325.6" width="1.3" height="1.3" fill="#000"/>
<rect x="429.1" y="327.2" width="1.3" height="1.3" fill="#000"/>
<rect x="429.3" y="338.4" width="1.3" height="1.3" fill="#000"/>
<rect x="429.9" y="331.9" width="1.3" height="1.3" fill="#000"/>
<rect x="425.6" y="325.0" width="1.3" height="1.3" fill="#000"/>
<rect x="436.2" y="334.1" width="1.3" height="1.3" fill="#000"/>
<rect x="426.7" y="333.3" width="1.3" height="1.3" fill="#000"/>
<rect x="436.0" y="329.6" width="1.3" height="1.3" fill="#000"/>
<rect x="429.8" y="339.1" width="1.3" height="1.3" fill="#000"/>
<rect x="425.5" y="332.8" width="1.3" height="1.3" fill="#000"/>
<rect x="432.5" y="341.9" width="1.3" height="1.3" fill="#000"/>
<rect x="429.4" y="323.1" width="1.3" height="1.3" fill="#000"/>
<rect x="430.7" y="323.0" width="1.3" height="1.3" fill="#000"/>
<rect x="427.4" y="339.8" width="1.3" height="1.3" fill="#000"/>
<rect x="427.4" y="337.1" width="1.3" height="1.3" fill="#000"/>
<rect x="435.0" y="337.0" width="1.3" height="1.3" fill="#000"/>
<rect x="429.9" y="327.8" width="1.3" height="1.3" fill="#000"/>
<rect x="432.9" y="334.6" width="1.3" height="1.3" fill="#000"/>
<rect x="428.7" y="331.9" width="1.3" height="1.3" fill="#000"/>
<rect x="433.6" y="331.8" width="1.3" height="1.3" fill="#000"/>
<rect x="436.0" y="331.8" width="1.3" height="1.3" fill="#000"/>
<rect x="432.8" y="335.3" width="1.3" height="1.3" fill="#000"/>
<rect x="427.8" y="332.6" width="1.3" height="1.3" fill="#000"/>
<rect x="424.6" y="335.5" width="1.3" height="1.3" fill="#000"/>
<rect x="427.1" y="335.1" width="1.3" height="1.3" fill="#000"/>
<rect x="427.5" y="325.1" width="1.3" height="1.3" fill="#000"/>
<rect x="433.1" y="325.0" width="1.3" height="1.3" fill="#000"/>
<rect x="433.7" y="338.5" width="1.3" height="1.3" fill="#000"/>
<rect x="428.2" y="341.9" width="1.3" height="1.3" fill="#000"/>
<rect x="426.4" y="338.3" width="1.3" height="1.3" fill="#000"/>
<rect x="431.6" y="341.2" width="1.3" height="1.3" fill="#000"/>
<rect x="429.9" y="337.8" width="1.3" height="1.3" fill="#000"/>
<rect x="431.8" y="329.8" width="1.3" height="1.3" fill="#000"/>
<rect x="427.5" y="339.7" width="1.3" height="1.3" fill="#000"/>
<rect x="434.0" y="332.2" width="1.3" height="1.3" fill="#000"/>
<rect x="430.4" y="340.0" width="1.3" height="1.3" fill="#000"/>
<rect x="426.5" y="324.7" width="1.3" height="1.3" fill="#000"/>
<rect x="435.1" y="338.9" width="1.3" height="1.3" fill="#000"/>
<rect x="431.8" y="325.9" width="1.3" height="1.3" fill="#000"/>
<rect x="435.0" y="327.6" width="1.3" height="1.3" fill="#000"/>
<rect x="429.5" y="334.6" width="1.3" height="1.3" fill="#000"/>
<rect x="430.7" y="335.9" width="1.3" height="1.3" fill="#000"/>
<rect x="424.2" y="327.3" width="1.3" height="1.3" fill="#000"/>
<rect x="425.4" y="339.9" width="1.3" height="1.3" fill="#000"/>
<rect x="424.0" y="335.7" width="1.3" height="1.3" fill="#000"/>
<rect x="430.4" y="327.2" width="1.3" height="1.3" fill="#000"/>
<rect x="434.9" y="338.9" width="1.3" height="1.3" fill="#000"/>
<rect x="426.1" y="326.9" width="1.3" height="1.3" fill="#000"/>
<rect x="427.8" y="336.2" width="1.3" height="1.3" fill="#000"/>
<rect x="430.6" y="336.4" width="1.3" height="1.3" fill="#000"/>
<rect x="427.1" y="329.4" width="1.3" height="1.3" fill="#000"/>
<rect x="431.4" y="340.7" width="1.3" height="1.3" fill="#000"/>
<rect x="429.5" y="333.6" width="1.3" height="1.3" fill="#000"/>
<rect x="432.0" y="340.6" width="1.3" height="1.3" fill="#000"/>
<rect x="430.9" y="338.2" width="1.3" height="1.3" fill="#000"/>
<rect x="424.2" y="329.7" width="1.3" height="1.3" fill="#000"/>
<rect x="431.2" y="334.1" width="1.3" height="1.3" fill="#000"/>
<rect x="425.9" y="330.5" width="1.3" height="1.3" fill="#000"/>
<rect x="434.3" y="337.1" width="1.3" height="1.3" fill="#000"/>
<rect x="429.0" y="328.5" width="1.3" height="1.3" fill="#000"/>
<rect x="429.0" y="339.2" width="1.3" height="1.3" fill="#000"/>
<rect x="433.4" y="330.8" width="1.3" height="1.3" fill="#000"/>
<rect x="426.5" y="330.1" width="1.3" height="1.3" fill="#000"/>
<rect x="426.4" y="335.7" width="1.3" height="1.3" fill="#000"/>
<rect x="436.0" y="332.3" width="1.3" height="1.3" fill="#000"/>
<rect x="431.1" y="338.6" width="1.3" height="1.3" fill="#000"/>
<rect x="431.5" y="341.2" width="1.3" height="1.3" fill="#000"/>
<rect x="430.3" y="332.1" width="1.3" height="1.3" fill="#000"/>
<rect x="431.7" y="326.3" width="1.3" height="1.3" fill="#000"/>
<rect x="433.0" y="328.0" width="1.3" height="1.3" fill="#000"/>
<rect x="432.2" y="338.7" width="1.3" height="1.3" fill="#000"/>
<rect x="429.1" y="332.1" width="1.3" height="1.3" fill="#000"/>
<rect x="434.3" y="328.0" width="1.3" height="1.3" fill="#000"/>
<rect x="428.4" y="330.4" width="1.3" height="1.3" fill="#000"/>
<rect x="425.8" y="332.4" width="1.3" height="1.3" fill="#000"/>
<rect x="429.3" y="336.5" width="1.3" height="1.3" fill="#000"/>
<rect x="434.1" y="329.1" width="1.3" height="1.3" fill="#000"/>
<rect x="427.7" y="332.8" width="1.3" height="1.3" fill="#000"/>
<rect x="435.6" y="330.6" width="1.3" height="1.3" fill="#000"/>
<rect x="431.9" y="335.9" width="1.3" height="1.3" fill="#000"/>
<rect x="436.2" y="331.0" width="1.3" height="1.3" fill="#000"/>
<rect x="434.2" y="335.0" width="1.3" height="1.3" fill="#000"/>
<rect x="425.0" y="339.2" width="1.3" height="1.3" fill="#000"/>
<rect x="425.3" y="325.6" width="1.3" height="1.3" fill="#000"/>
<rect x="433.1" y="340.7" width="1.3" height="1.3" fill="#000"/>
<rect x="430.9" y="341.8" width="1.3" height="1.3" fill="#000"/>
<rect x="432.2" y="327.0" width="1.3" height="1.3" fill="#000"/>
<rect x="432.3" y="341.4" width="1.3" height="1.3" fill="#000"/>
<rect x="427.4" y="335.5" width="1.3" height="1.3" fill="#000"/>
<rect x="426.3" y="337.6" width="1.3" height="1.3" fill="#000"/>
<rect x="429.9" y="336.3" width="1.3" height="1.3" fill="#000"/>
<rect x="434.3" y="327.1" width="1.3" height="1.3" fill="#000"/>
<rect x="428.6" y="331.7" width="1.3" height="1.3" fill="#000"/>
<rect x="435.4" y="334.7" width="1.3" height="1.3" fill="#000"/>
<rect x="434.3" y="339.1" width="1.3" height="1.3" fill="#000"/>
<rect x="425.0" y="330.0" width="1.3" height="1.3" fill="#000"/>
<rect x="428.0" y="340.4" width="1.3" height="1.3" fill="#000"/>
<rect x="426.1" y="329.1" width="1.3" height="1.3" fill="#000"/>
<rect x="427.5" y="326.7" width="1.3" height="1.3" fill="#000"/>
<rect x="425.8" y="335.2" width="1.3" height="1.3" fill="#000"/>
<rect x="429.1" y="331.4" width="1.3" height="1.3" fill="#000"/>
<rect x="430.3" y="339.9" width="1.3" height="1.3" fill="#000"/>
<rect x="430.9" y="323.5" width="1.3" height="1.3" fill="#000"/>
<rect x="431.8" y="339.0" width="1.3" height="1.3" fill="#000"/>
<rect x="433.4" y="337.1" width="1.3" height="1.3" fill="#000"/>
<rect x="427.7" y="334.2" width="1.3" height="1.3" fill="#000"/>
<rect x="428.0" y="333.7" width="1.3" height="1.3" fill="#000"/>
<rect x="434.4" y="334.5" width="1.3" height="1.3" fill="#000"/>
<rect x="434.4" y="336.7" width="1.3" height="1.3" fill="#000"/>
<rect x="430.8" y="323.6" width="1.3" height="1.3" fill="#000"/>
<rect x="434.3" y="335.1" width="1.3" height="1.3" fill="#000"/>
<rect x="426.5" y="337.8" width="1.3" height="1.3" fill="#000"/>
<rect x="434.1" y="340.4" width="1.3" height="1.3" fill="#000"/>
<rect x="436.0" y="332.3" width="1.3" height="1.3" fill="#000"/>
<rect x="432.1" y="324.2" width="1.3" height="1.3" fill="#000"/>
<rect x="432.7" y="332.0" width="1.3" height="1.3" fill="#000"/>
<rect x="434.3" y="330.5" width="1.3" height="1.3" fill="#000"/>
<rect x="433.1" y="341.3" width="1.3" height="1.3" fill="#000"/>
<rect x="435.2" y="328.6" width="1.3" height="1.3" fill="#000"/>
<rect x="428.8" y="334.7" width="1.3" height="1.3" fill="#000"/>
<rect x="433.0" y="340.3" width="1.3" height="1.3" fill="#000"/>
<rect x="428.9" y="342.5" width="1.3" height="1.3" fill="#000"/>
<rect x="433.5" y="340.1" width="1.3" height="1.3" fill="#000"/>
<rect x="433.9" y="328.9" width="1.3" height="1.3" fill="#000"/>
<rect x="429.6" y="337.4" width="1.3" height="1.3" fill="#000"/>
<rect x="427.9" y="339.4" width="1.3" height="1.3" fill="#000"/>
<rect x="430.4" y="334.4" width="1.3" height="1.3" fill="#000"/>
<rect x="432.3" y="330.9" width="1.3" height="1.3" fill="#000"/>
<rect x="434.2" y="327.2" width="1.3" height="1.3" fill="#000"/>
<rect x="430.4" y="328.3" width="1.3" height="1.3" fill="#000"/>
<rect x="427.7" y="331.9" width="1.3" height="1.3" fill="#000"/>
<rect x="426.5" y="339.1" width="1.3" height="1.3" fill="#000"/>
<rect x="424.1" y="329.2" width="1.3" height="1.3" fill="#000"/>
<rect x="433.6" y="327.1" width="1.3" height="1.3" fill="#000"/>
<rect x="432.0" y="332.4" width="1.3" height="1.3" fill="#000"/>
<rect x="425.7" y="337.7" width="1.3" height="1.3" fill="#000"/>
<rect x="429.3" y="342.0" width="1.3" height="1.3" fill="#000"/>
<rect x="424.0" y="327.6" width="1.3" height="1.3" fill="#000"/>
<rect x="430.2" y="326.2" width="1.3" height="1.3" fill="#000"/>
<rect x="431.8" y="338.9" width="1.3" height="1.3" fill="#000"/>
<rect x="435.3" y="335.3" width="1.3" height="1.3" fill="#000"/>
<rect x="429.7" y="342.1" width="1.3" height="1.3" fill="#000"/>
<rect x="435.1" y="331.7" width="1.3" height="1.3" fill="#000"/>
<rect x="427.2" y="325.6" width="1.3" height="1.3" fill="#000"/>
<rect x="433.5" y="332.6" width="1.3" height="1.3" fill="#000"/>
<rect x="430.6" y="334.1" width="1.3" height="1.3" fill="#000"/>
<rect x="425.1" y="336.0" width="1.3" height="1.3" fill="#000"/>
<rect x="433.6" y="327.9" width="1.3" height="1.3" fill="#000"/>
<rect x="430.2" y="336.4" width="1.3" height="1.3" fill="#000"/>
<rect x="435.1" y="333.7" width="1.3" height="1.3" fill="#000"/>
<rect x="429.6" y="333.0" width="1.3" height="1.3" fill="#000"/>
<rect x="428.5" y="335.3" width="1.3" height="1.3" fill="#000"/>
<rect x="427.1" y="330.0" width="1.3" height="1.3" fill="#000"/>
<rect x="431.3" y="340.4" width="1.3" height="1.3" fill="#000"/>
<rect x="424.7" y="333.9" width="1.3" height="1.3" fill="#000"/>
<rect x="432.1" y="331.0" width="1.3" height="1.3" fill="#000"/>
<rect x="431.8" y="336.8" width="1.3" height="1.3" fill="#000"/>
<rect x="428.5" y="330.0" width="1.3" height="1.3" fill="#000"/>
<rect x="431.1" y="322.9" width="1.3" height="1.3" fill="#000"/>
<rect x="429.5" y="339.2" width="1.3" height="1.3" fill="#000"/>
<rect x="429.4" y="331.7" width="1.3" height="1.3" fill="#000"/>
<rect x="426.9" y="339.0" width="1.3" height="1.3" fill="#000"/>
<rect x="424.9" y="335.5" width="1.3" height="1.3" fill="#000"/>
<rect x="429.2" y="322.3" width="1.3" height="1.3" fill="#000"/>
<rect x="432.6" y="329.5" width="1.3" height="1.3" fill="#000"/>
<rect x="428.5" y="332.1" width="1.3" height="1.3" fill="#000"/>
<rect x="430.2" y="339.3" width="1.3" height="1.3" fill="#000"/>
<rect x="430.1" y="330.0" width="1.3" height="1.3" fill="#000"/>
<rect x="429.2" y="332.2" width="1.3" height="1.3" fill="#000"/>
<rect x="433.9" y="340.6" width="1.3" height="1.3" fill="#000"/>
<rect x="427.6" y="329.6" width="1.3" height="1.3" fill="#000"/>
<rect x="426.9" y="326.7" width="1.3" height="1.3" fill="#000"/>
<rect x="432.6" y="341.1" width="1.3" height="1.3" fill="#000"/>
<rect x="428.7" y="338.2" width="1.3" height="1.3" fill="#000"/>
<rect x="431.0" y="331.1" width="1.3" height="1.3" fill="#000"/>
<rect x="428.6" y="323.4" width="1.3" height="1.3" fill="#000"/>
<rect x="430.1" y="331.8" width="1.3" height="1.3" fill="#000"/>
<rect x="424.3" y="334.5" width="1.3" height="1.3" fill="#000"/>
<rect x="424.4" y="335.2" width="1.3" height="1.3" fill="#000"/>
<rect x="432.3" y="335.6" width="1.3" height="1.3" fill="#000"/>
<rect x="432.9" y="333.8" width="1.3" height="1.3" fill="#000"/>
<rect x="429.8" y="326.4" width="1.3" height="1.3" fill="#000"/>
<rect x="433.0" y="325.3" width="1.3" height="1.3" fill="#000"/>
<rect x="429.3" y="341.4" width="1.3" height="1.3" fill="#000"/>
<rect x="425.3" y="335.6" width="1.3" height="1.3" fill="#000"/>
<rect x="424.1" y="331.2" width="1.3" height="1.3" fill="#000"/>
<rect x="427.7" y="328.3" width="1.3" height="1.3" fill="#000"/>
<rect x="431.2" y="342.7" width="1.3" height="1.3" fill="#000"/>
<rect x="436.0" y="333.5" width="1.3" height="1.3" fill="#000"/>
<rect x="430.1" y="337.9" width="1.3" height="1.3" fill="#000"/>
<rect x="435.2" y="329.4" width="1.3" height="1.3" fill="#000"/>
<rect x="427.2" y="340.7" width="1.3" height="1.3" fill="#000"/>
<rect x="426.9" y="341.3" width="1.3" height="1.3" fill="#000"/>
<rect x="432.5" y="329.7" width="1.3" height="1.3" fill="#000"/>
<rect x="428.0" y="324.7" width="1.3" height="1.3" fill="#000"/>
<rect x="435.2" y="331.4" width="1.3" height="1.3" fill="#000"/>
<rect x="432.3" y="326.4" width="1.3" height="1.3" fill="#000"/>
<rect x="433.3" y="325.6" width="1.3" height="1.3" fill="#000"/>
<rect x="429.2" y="325.6" width="1.3" height="1.3" fill="#000"/>
<rect x="428.1" y="340.0" width="1.3" height="1.3" fill="#000"/>
<rect x="427.7" y="329.2" width="1.3" height="1.3" fill="#000"/>
<rect x="431.4" y="331.0" width="1.3" height="1.3" fill="#000"/>
<rect x="432.3" y="333.2" width="1.3" height="1.3" fill="#000"/>
<rect x="431.8" y="331.1" width="1.3" height="1.3" fill="#000"/>
<rect x="432.3" y="337.4" width="1.3" height="1.3" fill="#000"/>
<rect x="430.9" y="333.0" width="1.3" height="1.3" fill="#000"/>
<rect x="426.2" y="326.0" width="1.3" height="1.3" fill="#000"/>
<rect x="429.4" y="323.7" width="1.3" height="1.3" fill="#000"/>
<rect x="428.4" y="331.1" width="1.3" height="1.3" fill="#000"/>
<rect x="431.5" y="326.7" width="1.3" height="1.3" fill="#000"/>
<rect x="434.5" y="326.5" width="1.3" height="1.3" fill="#000"/>
<rect x="431.0" y="330.5" width="1.3" height="1.3" fill="#000"/>
<rect x="435.8" y="329.1" width="1.3" height="1.3" fill="#000"/>
<rect x="430.4" y="335.9" width="1.3" height="1.3" fill="#000"/>
<rect x="432.0" y="333.3" width="1.3" height="1.3" fill="#000"/>
<rect x="432.2" y="323.5" width="1.3" height="1.3" fill="#000"/>
<rect x="432.2" y="325.0" width="1.3" height="1.3" fill="#000"/>
<rect x="428.6" y="340.7" width="1.3" height="1.3" fill="#000"/>
<rect x="431.6" y="334.5" width="1.3" height="1.3" fill="#000"/>
<rect x="431.5" y="341.4" width="1.3" height="1.3" fill="#000"/>
<rect x="426.5" y="335.3" width="1.3" height="1.3" fill="#000"/>
<rect x="429.8" y="334.1" width="1.3" height="1.3" fill="#000"/>
<rect x="429.1" y="327.0" width="1.3" height="1.3" fill="#000"/>
<rect x="428.1" y="338.4" width="1.3" height="1.3" fill="#000"/>
<rect x="423.4" y="332.3" width="1.3" height="1.3" fill="#000"/>
<rect x="425.4" y="325.9" width="1.3" height="1.3" fill="#000"/>
<rect x="428.9" y="333.5" width="1.3" height="1.3" fill="#000"/>
<rect x="430.5" y="325.6" width="1.3" height="1.3" fill="#000"/>
<rect x="428.8" y="326.6" width="1.3" height="1.3" fill="#000"/>
<rect x="430.9" y="340.2" width="1.3" height="1.3" fill="#000"/>
<rect x="435.0" y="337.9" width="1.3" height="1.3" fill="#000"/>
<rect x="432.7" y="341.0" width="1.3" height="1.3" fill="#000"/>
<rect x="429.9" y="332.9" width="1.3" height="1.3" fill="#000"/>
<rect x="435.6" y="331.3" width="1.3" height="1.3" fill="#000"/>
<rect x="429.4" y="332.6" width="1.3" height="1.3" fill="#000"/>
<rect x="431.2" y="325.4" width="1.3" height="1.3" fill="#000"/>
<rect x="427.0" y="332.7" width="1.3" height="1.3" fill="#000"/>
<rect x="431.8" y="327.1" width="1.3" height="1.3" fill="#000"/>
<rect x="433.0" y="330.7" width="1.3" height="1.3" fill="#000"/>
<rect x="430.6" y="338.1" width="1.3" height="1.3" fill="#000"/>
<rect x="424.3" y="332.6" width="1.3" height="1.3" fill="#000"/>
<rect x="428.4" y="329.9" width="1.3" height="1.3" fill="#000"/>
<rect x="430.3" y="329.6" width="1.3" height="1.3" fill="#000"/>
<rect x="431.1" y="323.9" width="1.3" height="1.3" fill="#000"/>
<rect x="426.6" y="339.2" width="1.3" height="1.3" fill="#000"/>
<rect x="426.6" y="336.7" width="1.3" height="1.3" fill="#000"/>
<rect x="435.2" y="337.7" width="1.3" height="1.3" fill="#000"/>
<rect x="436.0" y="334.1" width="1.3" height="1.3" fill="#000"/>
<rect x="429.6" y="337.3" width="1.3" height="1.3" fill="#000"/>
<rect x="423.6" y="332.5" width="1.3" height="1.3" fill="#000"/>
<rect x="432.9" y="328.2" width="1.3" height="1.3" fill="#000"/>
<rect x="426.8" y="333.8" width="1.3" height="1.3" fill="#000"/>
<rect x="430.0" y="324.8" width="1.3" height="1.3" fill="#000"/>
<rect x="426.4" y="325.2" width="1.3" height="1.3" fill="#000"/>
<rect x="428.0" y="338.1" width="1.3" height="1.3" fill="#000"/>
<rect x="431.3" y="329.1" width="1.3" height="1.3" fill="#000"/>
<rect x="429.6" y="323.9" width="1.3" height="1.3" fill="#000"/>
<rect x="427.3" y="334.2" width="1.3" height="1.3" fill="#000"/>
<rect x="424.7" y="328.1" width="1.3" height="1.3" fill="#000"/>
<rect x="427.6" y="333.4" width="1.3" height="1.3" fill="#000"/>
<rect x="430.3" y="342.5" width="1.3" height="1.3" fill="#000"/>
<rect x="428.9" y="336.9" width="1.3" height="1.3" fill="#000"/>
<rect x="433.6" y="318.2" width="1.2" height="1.2" fill="#000"/>
<rect x="432.9" y="320.7" width="1.2" height="1.2" fill="#000"/>
<rect x="431.8" y="321.0" width="1.2" height="1.2" fill="#000"/>
<rect x="433.4" y="321.4" width="1.2" height="1.2" fill="#000"/>
<rect x="432.9" y="321.2" width="1.2" height="1.2" fill="#000"/>
<rect x="432.1" y="317.5" width="1.2" height="1.2" fill="#000"/>
<rect x="433.2" y="319.7" width="1.2" height="1.2" fill="#000"/>
<rect x="431.8" y="320.4" width="1.2" height="1.2" fill="#000"/>
<rect x="433.1" y="317.5" width="1.2" height="1.2" fill="#000"/>
<rect x="430.4" y="320.8" width="1.2" height="1.2" fill="#000"/>
<rect x="431.7" y="319.1" width="1.2" height="1.2" fill="#000"/>
<rect x="432.6" y="320.7" width="1.2" height="1.2" fill="#000"/>
<rect x="433.9" y="320.2" width="1.2" height="1.2" fill="#000"/>
<rect x="432.8" y="318.4" width="1.2" height="1.2" fill="#000"/>
<rect x="430.3" y="319.9" width="1.2" height="1.2" fill="#000"/>
<rect x="426.3" y="327.1" width="1.2" height="1.2" fill="#000"/>
<rect x="434.0" y="340.3" width="1.2" height="1.2" fill="#000"/>
<rect x="423.4" y="339.4" width="1.2" height="1.2" fill="#000"/>
<rect x="434.2" y="328.8" width="1.2" height="1.2" fill="#000"/>
<rect x="422.8" y="327.7" width="1.2" height="1.2" fill="#000"/>
<rect x="426.9" y="335.3" width="1.2" height="1.2" fill="#000"/>
<rect x="428.2" y="318.7" width="1.2" height="1.2" fill="#000"/>
<rect x="431.0" y="322.2" width="1.2" height="1.2" fill="#000"/>
<rect x="434.2" y="324.5" width="1.2" height="1.2" fill="#000"/>
<rect x="426.6" y="326.9" width="1.2" height="1.2" fill="#000"/>
<rect x="427.3" y="342.0" width="1.2" height="1.2" fill="#000"/>
<rect x="434.0" y="337.1" width="1.2" height="1.2" fill="#000"/>
<rect x="431.4" y="322.1" width="1.2" height="1.2" fill="#000"/>
<rect x="427.4" y="329.0" width="1.2" height="1.2" fill="#000"/>
<rect x="425.2" y="336.5" width="1.2" height="1.2" fill="#000"/>
<rect x="426.3" y="327.9" width="1.2" height="1.2" fill="#000"/>
<rect x="424.9" y="318.5" width="1.2" height="1.2" fill="#000"/>
<rect x="432.8" y="342.2" width="1.2" height="1.2" fill="#000"/>
<rect x="430.7" y="326.1" width="1.2" height="1.2" fill="#000"/>
<rect x="416.9" y="334.1" width="1.2" height="1.2" fill="#000"/>
<rect x="435.7" y="335.0" width="1.2" height="1.2" fill="#000"/>
<rect x="434.4" y="343.2" width="1.2" height="1.2" fill="#000"/>
<rect x="435.3" y="329.8" width="1.2" height="1.2" fill="#000"/>
<rect x="435.0" y="338.3" width="1.2" height="1.2" fill="#000"/>
<rect x="422.5" y="330.1" width="1.2" height="1.2" fill="#000"/>
<rect x="423.1" y="332.1" width="1.2" height="1.2" fill="#000"/>
<rect x="432.7" y="325.4" width="1.2" height="1.2" fill="#000"/>
<rect x="420.0" y="342.0" width="1.2" height="1.2" fill="#000"/>
<rect x="431.7" y="343.2" width="1.2" height="1.2" fill="#000"/>
<rect x="423.5" y="340.3" width="1.2" height="1.2" fill="#000"/>
<rect x="439.9" y="346.9" width="1.2" height="1.2" fill="#000"/>
<rect x="428.9" y="334.8" width="1.2" height="1.2" fill="#000"/>
<rect x="429.2" y="339.9" width="1.2" height="1.2" fill="#000"/>
<rect x="434.9" y="333.5" width="1.2" height="1.2" fill="#000"/>
<rect x="423.4" y="338.1" width="1.2" height="1.2" fill="#000"/>
<rect x="427.6" y="337.3" width="1.2" height="1.2" fill="#000"/>
<rect x="431.2" y="344.3" width="1.2" height="1.2" fill="#000"/>
<rect x="435.4" y="329.7" width="1.2" height="1.2" fill="#000"/>
<rect x="431.6" y="345.2" width="1.2" height="1.2" fill="#000"/>
<rect x="427.3" y="335.9" width="1.2" height="1.2" fill="#000"/>
<rect x="435.6" y="341.7" width="1.2" height="1.2" fill="#000"/>
<rect x="432.4" y="323.7" width="1.2" height="1.2" fill="#000"/>
<rect x="423.8" y="334.6" width="1.2" height="1.2" fill="#000"/>
<rect x="431.8" y="350.7" width="1.2" height="1.2" fill="#000"/>
<rect x="425.8" y="340.9" width="1.2" height="1.2" fill="#000"/>
<rect x="433.6" y="321.2" width="1.2" height="1.2" fill="#000"/>
<rect x="426.0" y="334.1" width="1.2" height="1.2" fill="#000"/>
<rect x="427.5" y="331.8" width="1.2" height="1.2" fill="#000"/>
<rect x="432.2" y="327.2" width="1.2" height="1.2" fill="#000"/>
<rect x="432.1" y="328.4" width="1.2" height="1.2" fill="#000"/>
<rect x="427.3" y="336.7" width="1.2" height="1.2" fill="#000"/>
<rect x="427.1" y="334.9" width="1.2" height="1.2" fill="#000"/>
<rect x="437.6" y="333.1" width="1.2" height="1.2" fill="#000"/>
<rect x="429.2" y="338.0" width="1.2" height="1.2" fill="#000"/>
<rect x="428.1" y="340.5" width="1.2" height="1.2" fill="#000"/>
<rect x="423.7" y="337.2" width="1.2" height="1.2" fill="#000"/>
<rect x="427.4" y="327.3" width="1.2" height="1.2" fill="#000"/>
<rect x="438.4" y="326.9" width="1.2" height="1.2" fill="#000"/>
<rect x="438.3" y="337.5" width="1.2" height="1.2" fill="#000"/>
<rect x="436.9" y="326.1" width="1.2" height="1.2" fill="#000"/>
<rect x="435.7" y="343.1" width="1.2" height="1.2" fill="#000"/>
<rect x="429.3" y="332.0" width="1.2" height="1.2" fill="#000"/>
<rect x="441.7" y="334.1" width="1.2" height="1.2" fill="#000"/>
<rect x="427.9" y="328.5" width="1.2" height="1.2" fill="#000"/>
<rect x="432.0" y="335.2" width="1.2" height="1.2" fill="#000"/>
<rect x="430.8" y="345.0" width="1.2" height="1.2" fill="#000"/>
<rect x="428.3" y="336.2" width="1.2" height="1.2" fill="#000"/>
<rect x="436.9" y="325.9" width="1.2" height="1.2" fill="#000"/>
<rect x="434.9" y="345.7" width="1.2" height="1.2" fill="#000"/>
<rect x="423.4" y="325.2" width="1.2" height="1.2" fill="#000"/>
<rect x="424.9" y="320.0" width="1.2" height="1.2" fill="#000"/>
<rect x="432.1" y="319.9" width="1.2" height="1.2" fill="#000"/>
<rect x="432.3" y="343.1" width="1.2" height="1.2" fill="#000"/>
<rect x="422.1" y="330.7" width="1.2" height="1.2" fill="#000"/>
<rect x="420.7" y="338.4" width="1.2" height="1.2" fill="#000"/>
<rect x="426.4" y="331.0" width="1.2" height="1.2" fill="#000"/>
<rect x="430.2" y="336.7" width="1.2" height="1.2" fill="#000"/>
<rect x="428.2" y="333.0" width="1.2" height="1.2" fill="#000"/>
<rect x="427.3" y="333.7" width="1.2" height="1.2" fill="#000"/>
<rect x="424.3" y="333.3" width="1.2" height="1.2" fill="#000"/>
<rect x="420.6" y="329.5" width="1.2" height="1.2" fill="#000"/>
<rect x="439.1" y="333.5" width="1.2" height="1.2" fill="#000"/>
<rect x="423.9" y="334.7" width="1.2" height="1.2" fill="#000"/>
<rect x="425.2" y="321.3" width="1.2" height="1.2" fill="#000"/>
<rect x="426.4" y="338.1" width="1.2" height="1.2" fill="#000"/>
<rect x="431.7" y="332.2" width="1.2" height="1.2" fill="#000"/>
<rect x="425.5" y="325.3" width="1.2" height="1.2" fill="#000"/>
<rect x="436.4" y="334.6" width="1.2" height="1.2" fill="#000"/>
<rect x="425.3" y="318.1" width="1.2" height="1.2" fill="#000"/>
<rect x="423.3" y="350.2" width="1.2" height="1.2" fill="#000"/>
<rect x="424.4" y="332.4" width="1.2" height="1.2" fill="#000"/>
<rect x="430.9" y="331.8" width="1.2" height="1.2" fill="#000"/>
<rect x="428.6" y="323.3" width="1.2" height="1.2" fill="#000"/>
<rect x="424.9" y="344.7" width="1.2" height="1.2" fill="#000"/>
<rect x="426.3" y="338.8" width="1.2" height="1.2" fill="#000"/>
<rect x="421.8" y="331.0" width="1.2" height="1.2" fill="#000"/>
<rect x="431.2" y="340.2" width="1.2" height="1.2" fill="#000"/>
<rect x="424.5" y="337.1" width="1.2" height="1.2" fill="#000"/>
<rect x="431.8" y="327.7" width="1.2" height="1.2" fill="#000"/>
<rect x="432.2" y="326.6" width="1.2" height="1.2" fill="#000"/>
<rect x="426.1" y="332.8" width="1.2" height="1.2" fill="#000"/>
<rect x="416.9" y="332.1" width="1.2" height="1.2" fill="#000"/>
<rect x="425.1" y="322.7" width="1.2" height="1.2" fill="#000"/>
<rect x="427.9" y="338.2" width="1.2" height="1.2" fill="#000"/>
<rect x="428.0" y="341.8" width="1.2" height="1.2" fill="#000"/>
<rect x="424.3" y="323.7" width="1.2" height="1.2" fill="#000"/>
<rect x="437.3" y="335.7" width="1.2" height="1.2" fill="#000"/>
<rect x="434.4" y="327.1" width="1.2" height="1.2" fill="#000"/>
<rect x="433.8" y="334.7" width="1.2" height="1.2" fill="#000"/>
<rect x="433.0" y="333.1" width="1.2" height="1.2" fill="#000"/>
<rect x="435.7" y="328.4" width="1.2" height="1.2" fill="#000"/>
<rect x="425.3" y="322.6" width="1.2" height="1.2" fill="#000"/>
<rect x="435.5" y="327.7" width="1.2" height="1.2" fill="#000"/>
<rect x="424.9" y="326.3" width="1.2" height="1.2" fill="#000"/>
<rect x="427.8" y="324.0" width="1.2" height="1.2" fill="#000"/>
<rect x="428.5" y="328.5" width="1.2" height="1.2" fill="#000"/>
<rect x="427.3" y="326.2" width="1.2" height="1.2" fill="#000"/>
<rect x="430.1" y="329.7" width="1.2" height="1.2" fill="#000"/>
<rect x="430.5" y="334.6" width="1.2" height="1.2" fill="#000"/>
<rect x="431.5" y="317.6" width="1.2" height="1.2" fill="#000"/>
<rect x="427.3" y="327.3" width="1.2" height="1.2" fill="#000"/>
<rect x="433.6" y="321.9" width="1.2" height="1.2" fill="#000"/>
<rect x="426.5" y="330.8" width="1.2" height="1.2" fill="#000"/>
<rect x="428.3" y="339.8" width="1.2" height="1.2" fill="#000"/>
<rect x="427.8" y="339.7" width="1.2" height="1.2" fill="#000"/>
<rect x="422.9" y="320.2" width="1.2" height="1.2" fill="#000"/>
<rect x="435.8" y="335.9" width="1.2" height="1.2" fill="#000"/>
<rect x="432.2" y="333.8" width="1.2" height="1.2" fill="#000"/>
<rect x="432.2" y="324.4" width="1.2" height="1.2" fill="#000"/>
<rect x="434.5" y="329.2" width="1.2" height="1.2" fill="#000"/>
<rect x="434.6" y="333.5" width="1.2" height="1.2" fill="#000"/>
<rect x="420.4" y="323.9" width="1.2" height="1.2" fill="#000"/>
<rect x="435.3" y="331.9" width="1.2" height="1.2" fill="#000"/>
<rect x="428.0" y="334.6" width="1.2" height="1.2" fill="#000"/>
<rect x="427.9" y="329.1" width="1.2" height="1.2" fill="#000"/>
<rect x="430.4" y="333.9" width="1.2" height="1.2" fill="#000"/>
<rect x="437.2" y="333.2" width="1.2" height="1.2" fill="#000"/>
<rect x="438.9" y="345.5" width="1.2" height="1.2" fill="#000"/>
<rect x="438.1" y="340.3" width="1.2" height="1.2" fill="#000"/>
<rect x="430.5" y="333.9" width="1.2" height="1.2" fill="#000"/>
<rect x="429.2" y="327.8" width="1.2" height="1.2" fill="#000"/>
<rect x="429.6" y="328.4" width="1.2" height="1.2" fill="#000"/>
<rect x="437.8" y="336.6" width="1.2" height="1.2" fill="#000"/>
<rect x="427.8" y="319.5" width="1.2" height="1.2" fill="#000"/>
<rect x="429.6" y="330.0" width="1.2" height="1.2" fill="#000"/>
<rect x="424.7" y="324.9" width="1.2" height="1.2" fill="#000"/>
<rect x="419.1" y="336.9" width="1.2" height="1.2" fill="#000"/>
<rect x="429.6" y="351.0" width="1.2" height="1.2" fill="#000"/>
<rect x="429.8" y="331.9" width="1.2" height="1.2" fill="#000"/>
<rect x="436.8" y="333.8" width="1.2" height="1.2" fill="#000"/>
<rect x="430.7" y="330.3" width="1.2" height="1.2" fill="#000"/>
<rect x="427.0" y="343.4" width="1.2" height="1.2" fill="#000"/>
<rect x="434.7" y="344.9" width="1.2" height="1.2" fill="#000"/>
<rect x="428.2" y="333.1" width="1.2" height="1.2" fill="#000"/>
<rect x="425.7" y="339.7" width="1.2" height="1.2" fill="#000"/>
<rect x="423.2" y="336.9" width="1.2" height="1.2" fill="#000"/>
<rect x="435.2" y="342.8" width="1.2" height="1.2" fill="#000"/>
<rect x="425.4" y="340.5" width="1.2" height="1.2" fill="#000"/>
<rect x="426.5" y="327.6" width="1.2" height="1.2" fill="#000"/>
<rect x="423.5" y="341.0" width="1.2" height="1.2" fill="#000"/>
<rect x="437.8" y="328.7" width="1.2" height="1.2" fill="#000"/>
<rect x="426.3" y="330.5" width="1.2" height="1.2" fill="#000"/>
<rect x="441.9" y="339.9" width="1.2" height="1.2" fill="#000"/>
<rect x="427.3" y="320.3" width="1.2" height="1.2" fill="#000"/>
<rect x="426.7" y="341.2" width="1.2" height="1.2" fill="#000"/>
<rect x="438.9" y="331.0" width="1.2" height="1.2" fill="#000"/>
<rect x="426.6" y="329.3" width="1.2" height="1.2" fill="#000"/>
<rect x="420.8" y="339.3" width="1.2" height="1.2" fill="#000"/>
<rect x="424.7" y="340.3" width="1.2" height="1.2" fill="#000"/>
<rect x="421.7" y="324.0" width="1.2" height="1.2" fill="#000"/>
<rect x="431.3" y="327.6" width="1.2" height="1.2" fill="#000"/>
<rect x="433.7" y="333.0" width="1.2" height="1.2" fill="#000"/>
<rect x="424.3" y="337.3" width="1.2" height="1.2" fill="#000"/>
<rect x="433.9" y="319.5" width="1.2" height="1.2" fill="#000"/>
<rect x="438.7" y="336.4" width="1.2" height="1.2" fill="#000"/>
<rect x="433.5" y="319.9" width="1.2" height="1.2" fill="#000"/>
<rect x="426.4" y="330.5" width="1.2" height="1.2" fill="#000"/>
<rect x="435.1" y="322.7" width="1.2" height="1.2" fill="#000"/>
<rect x="425.7" y="318.7" width="1.2" height="1.2" fill="#000"/>
<rect x="428.7" y="335.3" width="1.2" height="1.2" fill="#000"/>
<rect x="421.8" y="328.8" width="1.2" height="1.2" fill="#000"/>
<rect x="432.3" y="344.0" width="1.2" height="1.2" fill="#000"/>
<rect x="433.1" y="330.8" width="1.2" height="1.2" fill="#000"/>
<rect x="424.2" y="326.3" width="1.2" height="1.2" fill="#000"/>
<rect x="426.7" y="333.9" width="1.2" height="1.2" fill="#000"/>
<rect x="429.7" y="344.6" width="1.2" height="1.2" fill="#000"/>
<rect x="431.3" y="325.4" width="1.2" height="1.2" fill="#000"/>
<rect x="437.3" y="339.5" width="1.2" height="1.2" fill="#000"/>
<rect x="430.4" y="327.9" width="1.2" height="1.2" fill="#000"/>
<rect x="420.9" y="325.7" width="1.2" height="1.2" fill="#000"/>
<rect x="434.3" y="327.3" width="1.2" height="1.2" fill="#000"/>
<rect x="423.6" y="334.3" width="1.2" height="1.2" fill="#000"/>
<rect x="431.1" y="337.1" width="1.2" height="1.2" fill="#000"/>
<rect x="433.0" y="342.8" width="1.2" height="1.2" fill="#000"/>
<rect x="425.9" y="339.8" width="1.2" height="1.2" fill="#000"/>
<rect x="425.2" y="337.8" width="1.2" height="1.2" fill="#000"/>
<rect x="430.8" y="334.6" width="1.2" height="1.2" fill="#000"/>
<rect x="434.5" y="332.8" width="1.2" height="1.2" fill="#000"/>
<rect x="435.2" y="339.0" width="1.2" height="1.2" fill="#000"/>
<rect x="430.6" y="328.9" width="1.2" height="1.2" fill="#000"/>
<rect x="426.3" y="329.2" width="1.2" height="1.2" fill="#000"/>
<rect x="428.9" y="332.7" width="1.2" height="1.2" fill="#000"/>
<rect x="444.2" y="337.4" width="1.2" height="1.2" fill="#000"/>
<rect x="433.6" y="326.9" width="1.2" height="1.2" fill="#000"/>
<rect x="426.5" y="330.7" width="1.2" height="1.2" fill="#000"/>
<rect x="430.8" y="325.6" width="1.2" height="1.2" fill="#000"/>
<rect x="437.6" y="329.0" width="1.2" height="1.2" fill="#000"/>
<rect x="435.1" y="316.5" width="1.2" height="1.2" fill="#000"/>
<rect x="429.9" y="334.8" width="1.2" height="1.2" fill="#000"/>
<rect x="430.8" y="337.1" width="1.2" height="1.2" fill="#000"/>
<rect x="431.2" y="334.0" width="1.2" height="1.2" fill="#000"/>
<rect x="420.8" y="327.9" width="1.2" height="1.2" fill="#000"/>
<rect x="418.7" y="337.3" width="1.2" height="1.2" fill="#000"/>
<rect x="431.4" y="331.5" width="1.2" height="1.2" fill="#000"/>
<rect x="426.0" y="328.8" width="1.2" height="1.2" fill="#000"/>
<rect x="438.8" y="345.0" width="1.2" height="1.2" fill="#000"/>
<rect x="429.6" y="341.9" width="1.2" height="1.2" fill="#000"/>
<rect x="422.3" y="319.4" width="1.2" height="1.2" fill="#000"/>
<rect x="427.6" y="326.8" width="1.2" height="1.2" fill="#000"/>
<rect x="427.2" y="334.2" width="1.2" height="1.2" fill="#000"/>
<rect x="444.4" y="328.3" width="1.2" height="1.2" fill="#000"/>
<rect x="430.1" y="334.8" width="1.2" height="1.2" fill="#000"/>
<rect x="429.7" y="339.4" width="1.2" height="1.2" fill="#000"/>
<rect x="438.4" y="324.2" width="1.2" height="1.2" fill="#000"/>
<rect x="430.7" y="331.0" width="1.2" height="1.2" fill="#000"/>
<rect x="431.6" y="322.2" width="1.2" height="1.2" fill="#000"/>
<rect x="421.5" y="316.7" width="1.2" height="1.2" fill="#000"/>
<rect x="432.4" y="334.2" width="1.2" height="1.2" fill="#000"/>
<rect x="430.3" y="316.3" width="1.2" height="1.2" fill="#000"/>
<rect x="428.1" y="327.6" width="1.2" height="1.2" fill="#000"/>
<rect x="423.1" y="326.5" width="1.2" height="1.2" fill="#000"/>
<rect x="433.2" y="336.7" width="1.2" height="1.2" fill="#000"/>
<rect x="429.8" y="336.5" width="1.2" height="1.2" fill="#000"/>
<rect x="427.0" y="333.4" width="1.2" height="1.2" fill="#000"/>
<rect x="430.1" y="336.8" width="1.2" height="1.2" fill="#000"/>
<rect x="429.6" y="331.9" width="1.2" height="1.2" fill="#000"/>
<rect x="429.3" y="328.4" width="1.2" height="1.2" fill="#000"/>
<rect x="440.6" y="336.5" width="1.2" height="1.2" fill="#000"/>
<rect x="432.0" y="348.9" width="1.2" height="1.2" fill="#000"/>
<rect x="436.6" y="322.0" width="1.2" height="1.2" fill="#000"/>
<rect x="433.2" y="338.8" width="1.2" height="1.2" fill="#000"/>
<rect x="438.9" y="342.1" width="1.2" height="1.2" fill="#000"/>
<rect x="433.6" y="324.7" width="1.2" height="1.2" fill="#000"/>
<rect x="425.7" y="334.8" width="1.2" height="1.2" fill="#000"/>
<rect x="432.3" y="325.7" width="1.2" height="1.2" fill="#000"/>
<rect x="428.1" y="330.1" width="1.2" height="1.2" fill="#000"/>
<rect x="430.2" y="335.3" width="1.2" height="1.2" fill="#000"/>
<rect x="428.5" y="324.2" width="1.2" height="1.2" fill="#000"/>
<rect x="435.9" y="344.1" width="1.2" height="1.2" fill="#000"/>
<rect x="429.4" y="340.1" width="1.2" height="1.2" fill="#000"/>
<rect x="432.0" y="337.5" width="1.2" height="1.2" fill="#000"/>
<rect x="432.2" y="327.6" width="1.2" height="1.2" fill="#000"/>
<rect x="432.7" y="340.0" width="1.2" height="1.2" fill="#000"/>
<rect x="425.6" y="346.7" width="1.2" height="1.2" fill="#000"/>
<rect x="439.9" y="345.7" width="1.2" height="1.2" fill="#000"/>
<rect x="439.4" y="338.1" width="1.2" height="1.2" fill="#000"/>
<rect x="428.3" y="328.7" width="1.2" height="1.2" fill="#000"/>
<rect x="426.0" y="333.7" width="1.2" height="1.2" fill="#000"/>
<rect x="429.7" y="337.6" width="1.2" height="1.2" fill="#000"/>
<rect x="420.2" y="349.1" width="1.2" height="1.2" fill="#000"/>
<rect x="437.6" y="348.3" width="1.2" height="1.2" fill="#000"/>
<rect x="431.5" y="350.5" width="1.2" height="1.2" fill="#000"/>
<rect x="429.9" y="347.5" width="1.2" height="1.2" fill="#000"/>
<rect x="428.4" y="344.7" width="1.2" height="1.2" fill="#000"/>
<rect x="429.6" y="348.3" width="1.2" height="1.2" fill="#000"/>
<rect x="430.1" y="344.6" width="1.2" height="1.2" fill="#000"/>
<rect x="429.1" y="348.6" width="1.2" height="1.2" fill="#000"/>
<rect x="431.2" y="343.6" width="1.2" height="1.2" fill="#000"/>
<rect x="430.5" y="352.8" width="1.2" height="1.2" fill="#000"/>
<rect x="431.2" y="346.7" width="1.2" height="1.2" fill="#000"/>
<rect x="427.0" y="347.3" width="1.2" height="1.2" fill="#000"/>
<rect x="428.3" y="345.5" width="1.2" height="1.2" fill="#000"/>
<rect x="430.3" y="349.3" width="1.2" height="1.2" fill="#000"/>
<rect x="425.4" y="345.1" width="1.2" height="1.2" fill="#000"/>
<rect x="428.5" y="351.4" width="1.2" height="1.2" fill="#000"/>
<rect x="424.4" y="343.8" width="1.2" height="1.2" fill="#000"/>
<rect x="430.8" y="342.9" width="1.2" height="1.2" fill="#000"/>
<rect x="429.3" y="350.0" width="1.2" height="1.2" fill="#000"/>
<rect x="428.5" y="343.8" width="1.2" height="1.2" fill="#000"/>
<rect x="428.7" y="346.9" width="1.2" height="1.2" fill="#000"/>
<rect x="430.2" y="344.6" width="1.2" height="1.2" fill="#000"/>
<rect x="433.0" y="340.9" width="1.2" height="1.2" fill="#000"/>
<rect x="428.2" y="348.4" width="1.2" height="1.2" fill="#000"/>
<rect x="432.6" y="345.7" width="1.2" height="1.2" fill="#000"/>
<rect x="431.0" y="345.8" width="1.2" height="1.2" fill="#000"/>
<rect x="427.4" y="350.4" width="1.2" height="1.2" fill="#000"/>
<rect x="425.4" y="352.8" width="1.2" height="1.2" fill="#000"/>
<rect x="433.5" y="348.6" width="1.2" height="1.2" fill="#000"/>
<rect x="424.6" y="350.2" width="1.2" height="1.2" fill="#000"/>
<rect x="433.3" y="353.3" width="1.2" height="1.2" fill="#000"/>
<rect x="432.0" y="340.2" width="1.2" height="1.2" fill="#000"/>
<rect x="424.2" y="353.5" width="1.2" height="1.2" fill="#000"/>
<rect x="436.1" y="351.8" width="1.2" height="1.2" fill="#000"/>
<rect x="433.2" y="346.9" width="1.2" height="1.2" fill="#000"/>
<rect x="424.2" y="347.9" width="1.2" height="1.2" fill="#000"/>
<rect x="428.1" y="348.2" width="1.2" height="1.2" fill="#000"/>
<rect x="431.5" y="347.7" width="1.2" height="1.2" fill="#000"/>
<rect x="429.6" y="350.3" width="1.2" height="1.2" fill="#000"/>
<rect x="430.6" y="348.8" width="1.2" height="1.2" fill="#000"/>
<rect x="428.1" y="345.6" width="1.2" height="1.2" fill="#000"/>
<rect x="434.0" y="349.1" width="1.2" height="1.2" fill="#000"/>
<rect x="424.8" y="345.9" width="1.2" height="1.2" fill="#000"/>
<rect x="428.4" y="346.4" width="1.2" height="1.2" fill="#000"/>
<rect x="433.0" y="343.2" width="1.2" height="1.2" fill="#000"/>
<rect x="430.8" y="349.0" width="1.2" height="1.2" fill="#000"/>
<rect x="424.4" y="348.6" width="1.2" height="1.2" fill="#000"/>
<rect x="428.5" y="350.7" width="1.2" height="1.2" fill="#000"/>
<rect x="427.2" y="349.8" width="1.2" height="1.2" fill="#000"/>
<rect x="422.6" y="343.5" width="1.2" height="1.2" fill="#000"/>
<rect x="431.9" y="353.1" width="1.2" height="1.2" fill="#000"/>
<rect x="428.9" y="345.7" width="1.2" height="1.2" fill="#000"/>
<rect x="433.0" y="339.0" width="1.2" height="1.2" fill="#000"/>
<rect x="425.9" y="351.4" width="1.2" height="1.2" fill="#000"/>
<rect x="431.4" y="343.8" width="1.2" height="1.2" fill="#000"/>
<rect x="429.5" y="344.4" width="1.2" height="1.2" fill="#000"/>
<rect x="429.1" y="352.5" width="1.2" height="1.2" fill="#000"/>
<rect x="419.1" y="353.4" width="1.2" height="1.2" fill="#000"/>
<rect x="431.7" y="339.0" width="1.2" height="1.2" fill="#000"/>
<rect x="431.8" y="340.4" width="1.2" height="1.2" fill="#000"/>
<rect x="433.2" y="350.2" width="1.2" height="1.2" fill="#000"/>
<rect x="437.5" y="345.7" width="1.2" height="1.2" fill="#000"/>
<rect x="428.9" y="353.1" width="1.2" height="1.2" fill="#000"/>
<rect x="426.5" y="345.2" width="1.2" height="1.2" fill="#000"/>
<rect x="427.5" y="348.1" width="1.2" height="1.2" fill="#000"/>
<rect x="424.8" y="350.6" width="1.2" height="1.2" fill="#000"/>
<rect x="431.0" y="348.7" width="1.2" height="1.2" fill="#000"/>
<rect x="435.4" y="346.9" width="1.2" height="1.2" fill="#000"/>
<rect x="433.9" y="345.9" width="1.2" height="1.2" fill="#000"/>
<rect x="431.8" y="339.7" width="1.2" height="1.2" fill="#000"/>
<rect x="429.7" y="347.6" width="1.2" height="1.2" fill="#000"/>
<rect x="427.0" y="345.7" width="1.2" height="1.2" fill="#000"/>
<rect x="427.6" y="345.2" width="1.2" height="1.2" fill="#000"/>
<rect x="420.6" y="345.7" width="1.2" height="1.2" fill="#000"/>
<rect x="426.8" y="346.0" width="1.2" height="1.2" fill="#000"/>
<rect x="424.9" y="347.8" width="1.2" height="1.2" fill="#000"/>
<rect x="431.9" y="347.3" width="1.2" height="1.2" fill="#000"/>
<rect x="427.0" y="354.5" width="1.2" height="1.2" fill="#000"/>
<rect x="432.6" y="352.5" width="1.2" height="1.2" fill="#000"/>
<rect x="433.3" y="346.9" width="1.2" height="1.2" fill="#000"/>
<rect x="428.4" y="353.4" width="1.2" height="1.2" fill="#000"/>
<rect x="426.8" y="347.9" width="1.2" height="1.2" fill="#000"/>
<rect x="430.3" y="350.1" width="1.2" height="1.2" fill="#000"/>
<rect x="427.8" y="352.8" width="1.2" height="1.2" fill="#000"/>
<rect x="428.2" y="351.7" width="1.2" height="1.2" fill="#000"/>
<rect x="433.0" y="351.4" width="1.2" height="1.2" fill="#000"/>
<rect x="431.7" y="343.2" width="1.2" height="1.2" fill="#000"/>
<rect x="423.9" y="345.6" width="1.2" height="1.2" fill="#000"/>
<rect x="424.3" y="349.8" width="1.2" height="1.2" fill="#000"/>
<rect x="425.7" y="345.1" width="1.2" height="1.2" fill="#000"/>
<rect x="427.8" y="351.5" width="1.2" height="1.2" fill="#000"/>
<rect x="429.7" y="353.7" width="1.2" height="1.2" fill="#000"/>
<rect x="425.2" y="352.4" width="1.2" height="1.2" fill="#000"/>
<rect x="432.4" y="348.7" width="1.2" height="1.2" fill="#000"/>
<rect x="430.7" y="345.9" width="1.2" height="1.2" fill="#000"/>
<rect x="424.8" y="346.6" width="1.2" height="1.2" fill="#000"/>
<rect x="429.7" y="349.8" width="1.2" height="1.2" fill="#000"/>
<rect x="431.7" y="344.9" width="1.2" height="1.2" fill="#000"/>
<rect x="432.4" y="350.1" width="1.2" height="1.2" fill="#000"/>
<rect x="423.1" y="351.1" width="1.2" height="1.2" fill="#000"/>
<rect x="431.0" y="350.4" width="1.2" height="1.2" fill="#000"/>
<rect x="434.9" y="346.5" width="1.2" height="1.2" fill="#000"/>
<rect x="430.8" y="351.8" width="1.2" height="1.2" fill="#000"/>
<rect x="405.2" y="344.1" width="1.0" height="1.0" fill="#000"/>
<rect x="401.3" y="324.1" width="1.0" height="1.0" fill="#000"/>
<rect x="415.2" y="325.8" width="1.0" height="1.0" fill="#000"/>
<rect x="410.7" y="321.3" width="1.0" height="1.0" fill="#000"/>
<rect x="412.0" y="325.4" width="1.0" height="1.0" fill="#000"/>
<rect x="413.9" y="322.2" width="1.0" height="1.0" fill="#000"/>
<rect x="414.6" y="332.4" width="1.0" height="1.0" fill="#000"/>
<rect x="411.9" y="334.0" width="1.0" height="1.0" fill="#000"/>
<rect x="412.4" y="323.9" width="1.0" height="1.0" fill="#000"/>
<rect x="393.5" y="334.8" width="1.0" height="1.0" fill="#000"/>
<rect x="404.9" y="330.9" width="1.0" height="1.0" fill="#000"/>
<rect x="414.5" y="318.6" width="1.0" height="1.0" fill="#000"/>
<rect x="406.2" y="329.6" width="1.0" height="1.0" fill="#000"/>
<rect x="404.1" y="337.1" width="1.0" height="1.0" fill="#000"/>
<rect x="410.5" y="327.9" width="1.0" height="1.0" fill="#000"/>
<rect x="404.6" y="341.0" width="1.0" height="1.0" fill="#000"/>
<rect x="406.9" y="339.2" width="1.0" height="1.0" fill="#000"/>
<rect x="414.6" y="319.3" width="1.0" height="1.0" fill="#000"/>
<rect x="403.9" y="334.5" width="1.0" height="1.0" fill="#000"/>
<rect x="413.9" y="340.7" width="1.0" height="1.0" fill="#000"/>
<rect x="417.1" y="342.8" width="1.0" height="1.0" fill="#000"/>
<rect x="408.9" y="332.8" width="1.0" height="1.0" fill="#000"/>
<rect x="416.9" y="331.1" width="1.0" height="1.0" fill="#000"/>
<rect x="418.9" y="321.8" width="1.0" height="1.0" fill="#000"/>
<rect x="416.1" y="333.1" width="1.0" height="1.0" fill="#000"/>
<rect x="397.7" y="342.3" width="1.0" height="1.0" fill="#000"/>
<rect x="413.7" y="334.7" width="1.0" height="1.0" fill="#000"/>
<rect x="404.0" y="330.8" width="1.0" height="1.0" fill="#000"/>
<rect x="422.1" y="327.9" width="1.0" height="1.0" fill="#000"/>
<rect x="403.1" y="333.4" width="1.0" height="1.0" fill="#000"/>
<rect x="408.7" y="327.2" width="1.0" height="1.0" fill="#000"/>
<rect x="405.6" y="342.9" width="1.0" height="1.0" fill="#000"/>
<rect x="401.4" y="350.2" width="1.0" height="1.0" fill="#000"/>
<rect x="407.7" y="325.8" width="1.0" height="1.0" fill="#000"/>
<rect x="417.0" y="339.0" width="1.0" height="1.0" fill="#000"/>
<rect x="404.2" y="340.5" width="1.0" height="1.0" fill="#000"/>
<rect x="398.6" y="327.1" width="1.0" height="1.0" fill="#000"/>
<rect x="419.4" y="332.5" width="1.0" height="1.0" fill="#000"/>
<rect x="402.4" y="338.6" width="1.0" height="1.0" fill="#000"/>
<rect x="417.9" y="334.3" width="1.0" height="1.0" fill="#000"/>
<rect x="398.9" y="331.7" width="1.0" height="1.0" fill="#000"/>
<rect x="414.4" y="340.6" width="1.0" height="1.0" fill="#000"/>
<rect x="424.5" y="332.5" width="1.0" height="1.0" fill="#000"/>
<rect x="408.1" y="334.2" width="1.0" height="1.0" fill="#000"/>
<rect x="419.9" y="327.0" width="1.0" height="1.0" fill="#000"/>
<rect x="417.1" y="329.1" width="1.0" height="1.0" fill="#000"/>
<rect x="414.7" y="340.0" width="1.0" height="1.0" fill="#000"/>
<rect x="403.2" y="333.8" width="1.0" height="1.0" fill="#000"/>
<rect x="413.2" y="339.2" width="1.0" height="1.0" fill="#000"/>
<rect x="405.0" y="326.6" width="1.0" height="1.0" fill="#000"/>
<rect x="410.2" y="332.7" width="1.0" height="1.0" fill="#000"/>
<rect x="401.0" y="341.9" width="1.0" height="1.0" fill="#000"/>
<rect x="407.8" y="346.0" width="1.0" height="1.0" fill="#000"/>
<rect x="417.5" y="334.7" width="1.0" height="1.0" fill="#000"/>
<rect x="416.6" y="325.6" width="1.0" height="1.0" fill="#000"/>
<rect x="409.2" y="329.9" width="1.0" height="1.0" fill="#000"/>
<rect x="402.6" y="334.6" width="1.0" height="1.0" fill="#000"/>
<rect x="410.5" y="346.0" width="1.0" height="1.0" fill="#000"/>
<rect x="405.1" y="330.8" width="1.0" height="1.0" fill="#000"/>
<rect x="414.5" y="337.7" width="1.0" height="1.0" fill="#000"/>
<rect x="411.7" y="330.7" width="1.0" height="1.0" fill="#000"/>
<rect x="415.0" y="337.4" width="1.0" height="1.0" fill="#000"/>
<rect x="398.6" y="332.4" width="1.0" height="1.0" fill="#000"/>
<rect x="401.9" y="325.0" width="1.0" height="1.0" fill="#000"/>
<rect x="412.5" y="335.0" width="1.0" height="1.0" fill="#000"/>
<rect x="412.3" y="327.5" width="1.0" height="1.0" fill="#000"/>
<rect x="415.4" y="331.1" width="1.2" height="1.2" fill="#000"/>
<rect x="400.1" y="328.2" width="1.2" height="1.2" fill="#000"/>
<rect x="398.2" y="349.2" width="1.2" height="1.2" fill="#000"/>
<rect x="411.7" y="330.9" width="1.2" height="1.2" fill="#000"/>
<rect x="408.0" y="332.1" width="1.2" height="1.2" fill="#000"/>
<rect x="396.9" y="348.8" width="1.2" height="1.2" fill="#000"/>
<rect x="411.7" y="351.1" width="1.2" height="1.2" fill="#000"/>
<rect x="407.7" y="339.9" width="1.2" height="1.2" fill="#000"/>
<rect x="402.4" y="320.9" width="1.2" height="1.2" fill="#000"/>
<rect x="421.5" y="347.6" width="1.2" height="1.2" fill="#000"/>
<rect x="404.2" y="349.1" width="1.2" height="1.2" fill="#000"/>
<rect x="418.2" y="329.4" width="1.2" height="1.2" fill="#000"/>
<rect x="412.3" y="351.1" width="1.2" height="1.2" fill="#000"/>
<rect x="409.3" y="350.7" width="1.2" height="1.2" fill="#000"/>
<rect x="402.2" y="332.3" width="1.2" height="1.2" fill="#000"/>
<rect x="415.5" y="326.7" width="1.2" height="1.2" fill="#000"/>
<rect x="404.1" y="348.3" width="1.2" height="1.2" fill="#000"/>
<rect x="409.0" y="345.6" width="1.2" height="1.2" fill="#000"/>
<rect x="402.2" y="325.1" width="1.2" height="1.2" fill="#000"/>
<rect x="405.4" y="325.6" width="1.2" height="1.2" fill="#000"/>
<rect x="422.6" y="329.0" width="1.2" height="1.2" fill="#000"/>
<rect x="411.1" y="323.2" width="1.2" height="1.2" fill="#000"/>
<rect x="410.3" y="332.1" width="1.2" height="1.2" fill="#000"/>
<rect x="406.7" y="321.6" width="1.2" height="1.2" fill="#000"/>
<rect x="398.9" y="346.7" width="1.2" height="1.2" fill="#000"/>
<rect x="405.2" y="327.5" width="1.2" height="1.2" fill="#000"/>
<rect x="400.8" y="328.8" width="1.2" height="1.2" fill="#000"/>
<rect x="402.0" y="320.6" width="1.2" height="1.2" fill="#000"/>
<rect x="414.0" y="330.7" width="1.2" height="1.2" fill="#000"/>
<rect x="399.8" y="342.7" width="1.2" height="1.2" fill="#000"/>
<rect x="398.0" y="328.3" width="1.2" height="1.2" fill="#000"/>
<rect x="418.8" y="323.6" width="1.2" height="1.2" fill="#000"/>
<rect x="407.8" y="347.0" width="1.2" height="1.2" fill="#000"/>
<rect x="417.9" y="324.7" width="1.2" height="1.2" fill="#000"/>
<rect x="405.3" y="343.2" width="1.2" height="1.2" fill="#000"/>
<rect x="406.0" y="351.0" width="1.2" height="1.2" fill="#000"/>
<rect x="401.2" y="350.8" width="1.2" height="1.2" fill="#000"/>
<rect x="409.5" y="326.9" width="1.2" height="1.2" fill="#000"/>
<rect x="408.1" y="323.7" width="1.2" height="1.2" fill="#000"/>
<rect x="415.2" y="328.0" width="1.2" height="1.2" fill="#000"/>
<rect x="420.6" y="338.8" width="1.2" height="1.2" fill="#000"/>
<rect x="405.7" y="327.5" width="1.2" height="1.2" fill="#000"/>
<rect x="412.4" y="326.4" width="1.2" height="1.2" fill="#000"/>
<rect x="419.8" y="323.5" width="1.2" height="1.2" fill="#000"/>
<rect x="409.8" y="337.3" width="1.2" height="1.2" fill="#000"/>
<rect x="422.7" y="386.8" width="1.3" height="1.3" fill="#000"/>
<rect x="418.1" y="380.6" width="1.3" height="1.3" fill="#000"/>
<rect x="419.8" y="369.3" width="1.3" height="1.3" fill="#000"/>
<rect x="422.2" y="374.6" width="1.3" height="1.3" fill="#000"/>
<rect x="428.3" y="387.2" width="1.3" height="1.3" fill="#000"/>
<rect x="420.5" y="383.7" width="1.3" height="1.3" fill="#000"/>
<rect x="429.0" y="379.3" width="1.3" height="1.3" fill="#000"/>
<rect x="419.9" y="380.0" width="1.3" height="1.3" fill="#000"/>
<rect x="423.3" y="375.4" width="1.3" height="1.3" fill="#000"/>
<rect x="422.5" y="378.0" width="1.3" height="1.3" fill="#000"/>
<rect x="429.6" y="382.0" width="1.3" height="1.3" fill="#000"/>
<rect x="422.8" y="380.8" width="1.3" height="1.3" fill="#000"/>
<rect x="431.4" y="364.4" width="1.3" height="1.3" fill="#000"/>
<rect x="431.5" y="361.0" width="1.3" height="1.3" fill="#000"/>
<rect x="426.7" y="377.4" width="1.3" height="1.3" fill="#000"/>
<rect x="431.6" y="374.7" width="1.3" height="1.3" fill="#000"/>
<rect x="421.4" y="365.6" width="1.3" height="1.3" fill="#000"/>
<rect x="417.3" y="378.9" width="1.3" height="1.3" fill="#000"/>
<rect x="422.6" y="366.2" width="1.3" height="1.3" fill="#000"/>
<rect x="426.6" y="365.8" width="1.3" height="1.3" fill="#000"/>
<rect x="421.6" y="368.5" width="1.3" height="1.3" fill="#000"/>
<rect x="432.5" y="384.8" width="1.3" height="1.3" fill="#000"/>
<rect x="423.0" y="359.0" width="1.3" height="1.3" fill="#000"/>
<rect x="425.3" y="373.0" width="1.3" height="1.3" fill="#000"/>
<rect x="425.7" y="377.2" width="1.3" height="1.3" fill="#000"/>
<rect x="422.2" y="380.2" width="1.3" height="1.3" fill="#000"/>
<rect x="428.2" y="374.1" width="1.3" height="1.3" fill="#000"/>
<rect x="421.7" y="368.3" width="1.3" height="1.3" fill="#000"/>
<rect x="427.5" y="363.0" width="1.3" height="1.3" fill="#000"/>
<rect x="423.0" y="366.0" width="1.3" height="1.3" fill="#000"/>
<rect x="416.6" y="377.5" width="1.3" height="1.3" fill="#000"/>
<rect x="423.7" y="372.7" width="1.3" height="1.3" fill="#000"/>
<rect x="428.4" y="359.7" width="1.3" height="1.3" fill="#000"/>
<rect x="423.5" y="374.8" width="1.3" height="1.3" fill="#000"/>
<rect x="428.2" y="363.1" width="1.3" height="1.3" fill="#000"/>
<rect x="427.6" y="374.2" width="1.3" height="1.3" fill="#000"/>
<rect x="430.9" y="382.0" width="1.3" height="1.3" fill="#000"/>
<rect x="423.8" y="368.7" width="1.3" height="1.3" fill="#000"/>
<rect x="422.1" y="364.4" width="1.3" height="1.3" fill="#000"/>
<rect x="423.7" y="356.4" width="1.3" height="1.3" fill="#000"/>
<rect x="423.4" y="376.0" width="1.3" height="1.3" fill="#000"/>
<rect x="429.0" y="369.4" width="1.3" height="1.3" fill="#000"/>
<rect x="431.1" y="366.8" width="1.3" height="1.3" fill="#000"/>
<rect x="423.2" y="356.4" width="1.3" height="1.3" fill="#000"/>
<rect x="419.9" y="365.6" width="1.3" height="1.3" fill="#000"/>
<rect x="431.4" y="376.8" width="1.3" height="1.3" fill="#000"/>
<rect x="418.2" y="376.8" width="1.3" height="1.3" fill="#000"/>
<rect x="426.3" y="370.4" width="1.3" height="1.3" fill="#000"/>
<rect x="424.0" y="369.8" width="1.3" height="1.3" fill="#000"/>
<rect x="421.1" y="357.6" width="1.3" height="1.3" fill="#000"/>
<rect x="423.4" y="383.0" width="1.3" height="1.3" fill="#000"/>
<rect x="431.1" y="370.0" width="1.3" height="1.3" fill="#000"/>
<rect x="420.1" y="370.6" width="1.3" height="1.3" fill="#000"/>
<rect x="428.4" y="375.3" width="1.3" height="1.3" fill="#000"/>
<rect x="420.9" y="375.4" width="1.3" height="1.3" fill="#000"/>
<rect x="422.8" y="376.6" width="1.3" height="1.3" fill="#000"/>
<rect x="421.8" y="360.1" width="1.3" height="1.3" fill="#000"/>
<rect x="424.1" y="378.7" width="1.3" height="1.3" fill="#000"/>
<rect x="418.2" y="371.5" width="1.3" height="1.3" fill="#000"/>
<rect x="428.3" y="369.2" width="1.3" height="1.3" fill="#000"/>
<rect x="420.6" y="389.2" width="1.3" height="1.3" fill="#000"/>
<rect x="428.1" y="380.9" width="1.3" height="1.3" fill="#000"/>
<rect x="419.1" y="385.9" width="1.3" height="1.3" fill="#000"/>
<rect x="415.5" y="368.1" width="1.3" height="1.3" fill="#000"/>
<rect x="427.6" y="383.4" width="1.3" height="1.3" fill="#000"/>
<rect x="419.1" y="366.9" width="1.3" height="1.3" fill="#000"/>
<rect x="424.8" y="356.4" width="1.3" height="1.3" fill="#000"/>
<rect x="427.1" y="377.0" width="1.3" height="1.3" fill="#000"/>
<rect x="421.6" y="376.8" width="1.3" height="1.3" fill="#000"/>
<rect x="427.8" y="374.9" width="1.3" height="1.3" fill="#000"/>
<rect x="426.5" y="384.8" width="1.3" height="1.3" fill="#000"/>
<rect x="421.4" y="373.7" width="1.3" height="1.3" fill="#000"/>
<rect x="421.2" y="380.9" width="1.3" height="1.3" fill="#000"/>
<rect x="421.8" y="376.3" width="1.3" height="1.3" fill="#000"/>
<rect x="424.5" y="372.9" width="1.3" height="1.3" fill="#000"/>
<rect x="432.5" y="371.6" width="1.3" height="1.3" fill="#000"/>
<rect x="431.0" y="379.2" width="1.3" height="1.3" fill="#000"/>
<rect x="430.5" y="371.0" width="1.3" height="1.3" fill="#000"/>
<rect x="428.5" y="378.6" width="1.3" height="1.3" fill="#000"/>
<rect x="420.8" y="374.6" width="1.3" height="1.3" fill="#000"/>
<rect x="423.2" y="372.1" width="1.3" height="1.3" fill="#000"/>
<rect x="430.4" y="366.4" width="1.3" height="1.3" fill="#000"/>
<rect x="415.4" y="358.0" width="1.3" height="1.3" fill="#000"/>
<rect x="421.6" y="367.1" width="1.3" height="1.3" fill="#000"/>
<rect x="423.9" y="377.0" width="1.3" height="1.3" fill="#000"/>
<rect x="432.7" y="374.9" width="1.3" height="1.3" fill="#000"/>
<rect x="426.2" y="366.3" width="1.3" height="1.3" fill="#000"/>
<rect x="426.8" y="383.5" width="1.3" height="1.3" fill="#000"/>
<rect x="430.6" y="356.3" width="1.3" height="1.3" fill="#000"/>
<rect x="428.3" y="385.3" width="1.3" height="1.3" fill="#000"/>
<rect x="428.0" y="360.1" width="1.3" height="1.3" fill="#000"/>
<rect x="422.3" y="377.2" width="1.3" height="1.3" fill="#000"/>
<rect x="425.9" y="365.7" width="1.3" height="1.3" fill="#000"/>
<rect x="419.4" y="380.3" width="1.3" height="1.3" fill="#000"/>
<rect x="417.2" y="384.1" width="1.3" height="1.3" fill="#000"/>
<rect x="424.0" y="374.8" width="1.3" height="1.3" fill="#000"/>
<rect x="417.2" y="367.5" width="1.3" height="1.3" fill="#000"/>
<rect x="427.3" y="360.3" width="1.3" height="1.3" fill="#000"/>
<rect x="434.2" y="360.9" width="1.3" height="1.3" fill="#000"/>
<rect x="417.7" y="372.7" width="1.3" height="1.3" fill="#000"/>
<rect x="426.3" y="378.3" width="1.3" height="1.3" fill="#000"/>
<rect x="422.0" y="370.7" width="1.3" height="1.3" fill="#000"/>
<rect x="422.7" y="367.6" width="1.3" height="1.3" fill="#000"/>
<rect x="411.0" y="380.2" width="1.3" height="1.3" fill="#000"/>
<rect x="425.1" y="373.6" width="1.3" height="1.3" fill="#000"/>
<rect x="420.7" y="374.4" width="1.3" height="1.3" fill="#000"/>
<rect x="423.8" y="371.7" width="1.3" height="1.3" fill="#000"/>
<rect x="429.4" y="358.3" width="1.3" height="1.3" fill="#000"/>
<rect x="425.1" y="363.6" width="1.3" height="1.3" fill="#000"/>
<rect x="422.3" y="384.6" width="1.3" height="1.3" fill="#000"/>
<rect x="418.4" y="371.5" width="1.3" height="1.3" fill="#000"/>
<rect x="420.9" y="380.1" width="1.3" height="1.3" fill="#000"/>
<rect x="419.0" y="358.6" width="1.3" height="1.3" fill="#000"/>
<rect x="426.4" y="369.5" width="1.3" height="1.3" fill="#000"/>
<rect x="422.3" y="381.2" width="1.3" height="1.3" fill="#000"/>
<rect x="419.4" y="369.3" width="1.3" height="1.3" fill="#000"/>
<rect x="424.6" y="375.7" width="1.3" height="1.3" fill="#000"/>
<rect x="421.3" y="380.8" width="1.3" height="1.3" fill="#000"/>
<rect x="435.0" y="369.0" width="1.3" height="1.3" fill="#000"/>
<rect x="430.9" y="369.5" width="1.3" height="1.3" fill="#000"/>
<rect x="424.5" y="369.6" width="1.3" height="1.3" fill="#000"/>
<rect x="420.7" y="361.9" width="1.3" height="1.3" fill="#000"/>
<rect x="421.9" y="382.9" width="1.3" height="1.3" fill="#000"/>
<rect x="429.5" y="369.5" width="1.3" height="1.3" fill="#000"/>
<rect x="421.2" y="366.6" width="1.3" height="1.3" fill="#000"/>
<rect x="417.9" y="387.1" width="1.3" height="1.3" fill="#000"/>
<rect x="427.2" y="373.3" width="1.3" height="1.3" fill="#000"/>
<rect x="421.4" y="364.0" width="1.3" height="1.3" fill="#000"/>
<rect x="430.4" y="378.7" width="1.3" height="1.3" fill="#000"/>
<rect x="419.1" y="380.4" width="1.3" height="1.3" fill="#000"/>
<rect x="418.3" y="377.6" width="1.3" height="1.3" fill="#000"/>
<rect x="419.1" y="369.0" width="1.3" height="1.3" fill="#000"/>
<rect x="426.3" y="375.9" width="1.3" height="1.3" fill="#000"/>
<rect x="428.9" y="365.5" width="1.3" height="1.3" fill="#000"/>
<rect x="431.7" y="383.3" width="1.3" height="1.3" fill="#000"/>
<rect x="423.8" y="376.1" width="1.3" height="1.3" fill="#000"/>
<rect x="420.0" y="371.1" width="1.3" height="1.3" fill="#000"/>
<rect x="417.3" y="373.1" width="1.3" height="1.3" fill="#000"/>
<rect x="424.8" y="383.3" width="1.3" height="1.3" fill="#000"/>
<rect x="428.6" y="379.0" width="1.3" height="1.3" fill="#000"/>
<rect x="422.0" y="370.5" width="1.3" height="1.3" fill="#000"/>
<rect x="422.1" y="374.2" width="1.3" height="1.3" fill="#000"/>
<rect x="414.2" y="378.6" width="1.3" height="1.3" fill="#000"/>
<rect x="416.0" y="368.1" width="1.3" height="1.3" fill="#000"/>
<rect x="424.0" y="368.2" width="1.3" height="1.3" fill="#000"/>
<rect x="432.2" y="371.6" width="1.3" height="1.3" fill="#000"/>
<rect x="431.7" y="381.9" width="1.3" height="1.3" fill="#000"/>
<rect x="421.4" y="375.6" width="1.3" height="1.3" fill="#000"/>
<rect x="430.3" y="369.6" width="1.3" height="1.3" fill="#000"/>
<rect x="424.3" y="367.8" width="1.3" height="1.3" fill="#000"/>
<rect x="424.1" y="369.5" width="1.3" height="1.3" fill="#000"/>
<rect x="424.3" y="380.5" width="1.3" height="1.3" fill="#000"/>
<rect x="430.8" y="373.4" width="1.3" height="1.3" fill="#000"/>
<rect x="424.9" y="379.3" width="1.3" height="1.3" fill="#000"/>
<rect x="422.4" y="363.7" width="1.3" height="1.3" fill="#000"/>
<rect x="429.4" y="364.7" width="1.3" height="1.3" fill="#000"/>
<rect x="428.5" y="364.5" width="1.3" height="1.3" fill="#000"/>
<rect x="433.0" y="363.8" width="1.3" height="1.3" fill="#000"/>
<rect x="428.1" y="384.6" width="1.3" height="1.3" fill="#000"/>
<rect x="419.1" y="384.5" width="1.3" height="1.3" fill="#000"/>
<rect x="419.7" y="358.0" width="1.3" height="1.3" fill="#000"/>
<rect x="427.5" y="378.1" width="1.3" height="1.3" fill="#000"/>
<rect x="423.6" y="369.9" width="1.3" height="1.3" fill="#000"/>
<rect x="422.0" y="370.0" width="1.3" height="1.3" fill="#000"/>
<rect x="414.9" y="367.7" width="1.3" height="1.3" fill="#000"/>
<rect x="432.8" y="385.0" width="1.3" height="1.3" fill="#000"/>
<rect x="422.0" y="366.5" width="1.3" height="1.3" fill="#000"/>
<rect x="425.8" y="381.0" width="1.3" height="1.3" fill="#000"/>
<rect x="427.5" y="362.8" width="1.3" height="1.3" fill="#000"/>
<rect x="424.7" y="373.5" width="1.3" height="1.3" fill="#000"/>
<rect x="431.0" y="382.1" width="1.3" height="1.3" fill="#000"/>
<rect x="426.5" y="382.3" width="1.3" height="1.3" fill="#000"/>
<rect x="421.9" y="384.9" width="1.3" height="1.3" fill="#000"/>
<rect x="421.7" y="375.6" width="1.3" height="1.3" fill="#000"/>
<rect x="428.4" y="364.9" width="1.3" height="1.3" fill="#000"/>
<rect x="420.3" y="358.0" width="1.3" height="1.3" fill="#000"/>
<rect x="424.7" y="371.9" width="1.3" height="1.3" fill="#000"/>
<rect x="422.2" y="376.4" width="1.3" height="1.3" fill="#000"/>
<rect x="413.3" y="372.2" width="1.3" height="1.3" fill="#000"/>
<rect x="424.3" y="370.2" width="1.3" height="1.3" fill="#000"/>
<rect x="427.8" y="386.6" width="1.3" height="1.3" fill="#000"/>
<rect x="421.6" y="364.7" width="1.3" height="1.3" fill="#000"/>
<rect x="420.8" y="373.1" width="1.3" height="1.3" fill="#000"/>
<rect x="426.8" y="365.3" width="1.3" height="1.3" fill="#000"/>
<rect x="428.8" y="364.0" width="1.3" height="1.3" fill="#000"/>
<rect x="428.0" y="375.8" width="1.3" height="1.3" fill="#000"/>
<rect x="422.5" y="371.0" width="1.3" height="1.3" fill="#000"/>
<rect x="426.2" y="379.4" width="1.3" height="1.3" fill="#000"/>
<rect x="417.2" y="374.6" width="1.3" height="1.3" fill="#000"/>
<rect x="420.1" y="377.5" width="1.3" height="1.3" fill="#000"/>
<rect x="430.7" y="372.8" width="1.3" height="1.3" fill="#000"/>
<rect x="423.3" y="373.8" width="1.3" height="1.3" fill="#000"/>
<rect x="409.1" y="378.6" width="1.3" height="1.3" fill="#000"/>
<rect x="426.7" y="373.7" width="1.3" height="1.3" fill="#000"/>
<rect x="421.9" y="366.4" width="1.3" height="1.3" fill="#000"/>
<rect x="423.0" y="382.3" width="1.3" height="1.3" fill="#000"/>
<rect x="423.3" y="383.3" width="1.3" height="1.3" fill="#000"/>
<rect x="411.0" y="368.6" width="1.3" height="1.3" fill="#000"/>
<rect x="425.2" y="372.2" width="1.3" height="1.3" fill="#000"/>
<rect x="415.6" y="366.9" width="1.3" height="1.3" fill="#000"/>
<rect x="430.1" y="361.8" width="1.3" height="1.3" fill="#000"/>
<rect x="418.9" y="363.4" width="1.3" height="1.3" fill="#000"/>
<rect x="421.1" y="377.6" width="1.3" height="1.3" fill="#000"/>
<rect x="431.1" y="367.5" width="1.3" height="1.3" fill="#000"/>
<rect x="420.9" y="386.0" width="1.3" height="1.3" fill="#000"/>
<rect x="423.4" y="362.2" width="1.3" height="1.3" fill="#000"/>
<rect x="420.7" y="366.4" width="1.3" height="1.3" fill="#000"/>
<rect x="418.8" y="369.6" width="1.3" height="1.3" fill="#000"/>
<rect x="428.2" y="375.2" width="1.3" height="1.3" fill="#000"/>
<rect x="418.9" y="373.3" width="1.3" height="1.3" fill="#000"/>
<rect x="424.0" y="378.6" width="1.3" height="1.3" fill="#000"/>
<rect x="422.2" y="376.1" width="1.3" height="1.3" fill="#000"/>
<rect x="434.4" y="373.1" width="1.3" height="1.3" fill="#000"/>
<rect x="418.4" y="375.0" width="1.3" height="1.3" fill="#000"/>
<rect x="419.8" y="369.3" width="1.3" height="1.3" fill="#000"/>
<rect x="424.8" y="375.1" width="1.3" height="1.3" fill="#000"/>
<rect x="422.4" y="379.3" width="1.3" height="1.3" fill="#000"/>
<rect x="422.9" y="361.7" width="1.3" height="1.3" fill="#000"/>
<rect x="428.2" y="369.4" width="1.3" height="1.3" fill="#000"/>
<rect x="429.9" y="367.0" width="1.3" height="1.3" fill="#000"/>
<rect x="426.7" y="374.9" width="1.3" height="1.3" fill="#000"/>
<rect x="410.4" y="360.2" width="1.3" height="1.3" fill="#000"/>
<rect x="418.3" y="383.8" width="1.3" height="1.3" fill="#000"/>
<rect x="414.4" y="379.8" width="1.3" height="1.3" fill="#000"/>
<rect x="429.3" y="376.4" width="1.3" height="1.3" fill="#000"/>
<rect x="427.2" y="368.3" width="1.3" height="1.3" fill="#000"/>
<rect x="423.8" y="374.2" width="1.3" height="1.3" fill="#000"/>
<rect x="426.0" y="378.1" width="1.3" height="1.3" fill="#000"/>
<rect x="422.8" y="366.6" width="1.3" height="1.3" fill="#000"/>
<rect x="421.0" y="375.7" width="1.3" height="1.3" fill="#000"/>
<rect x="415.6" y="362.1" width="1.3" height="1.3" fill="#000"/>
<rect x="421.8" y="367.8" width="1.3" height="1.3" fill="#000"/>
<rect x="422.1" y="370.3" width="1.3" height="1.3" fill="#000"/>
<rect x="427.7" y="356.2" width="1.3" height="1.3" fill="#000"/>
<rect x="422.3" y="376.2" width="1.3" height="1.3" fill="#000"/>
<rect x="426.3" y="382.1" width="1.3" height="1.3" fill="#000"/>
<rect x="429.1" y="363.8" width="1.3" height="1.3" fill="#000"/>
<rect x="427.0" y="369.6" width="1.3" height="1.3" fill="#000"/>
<rect x="419.8" y="384.9" width="1.3" height="1.3" fill="#000"/>
<rect x="420.7" y="365.4" width="1.3" height="1.3" fill="#000"/>
<rect x="421.8" y="365.4" width="1.3" height="1.3" fill="#000"/>
<rect x="428.9" y="375.5" width="1.3" height="1.3" fill="#000"/>
<rect x="430.9" y="375.7" width="1.3" height="1.3" fill="#000"/>
<rect x="420.8" y="380.9" width="1.3" height="1.3" fill="#000"/>
<rect x="420.6" y="368.6" width="1.3" height="1.3" fill="#000"/>
<rect x="423.0" y="372.7" width="1.3" height="1.3" fill="#000"/>
<rect x="429.8" y="367.4" width="1.3" height="1.3" fill="#000"/>
<rect x="425.6" y="372.1" width="1.3" height="1.3" fill="#000"/>
<rect x="417.6" y="363.4" width="1.3" height="1.3" fill="#000"/>
<rect x="422.8" y="375.7" width="1.3" height="1.3" fill="#000"/>
<rect x="425.5" y="376.3" width="1.3" height="1.3" fill="#000"/>
<rect x="424.1" y="368.7" width="1.3" height="1.3" fill="#000"/>
<rect x="426.0" y="364.1" width="1.3" height="1.3" fill="#000"/>
<rect x="417.1" y="369.6" width="1.3" height="1.3" fill="#000"/>
<rect x="416.7" y="368.1" width="1.3" height="1.3" fill="#000"/>
<rect x="420.1" y="367.8" width="1.3" height="1.3" fill="#000"/>
<rect x="423.6" y="365.8" width="1.3" height="1.3" fill="#000"/>
<rect x="421.7" y="358.3" width="1.3" height="1.3" fill="#000"/>
<rect x="424.6" y="365.1" width="1.3" height="1.3" fill="#000"/>
<rect x="419.8" y="374.3" width="1.3" height="1.3" fill="#000"/>
<rect x="411.6" y="369.4" width="1.3" height="1.3" fill="#000"/>
<rect x="424.3" y="373.2" width="1.3" height="1.3" fill="#000"/>
<rect x="416.3" y="374.2" width="1.3" height="1.3" fill="#000"/>
<rect x="424.6" y="364.4" width="1.3" height="1.3" fill="#000"/>
<rect x="427.6" y="371.9" width="1.3" height="1.3" fill="#000"/>
<rect x="423.9" y="368.7" width="1.3" height="1.3" fill="#000"/>
<rect x="426.6" y="373.1" width="1.3" height="1.3" fill="#000"/>
<rect x="429.6" y="376.1" width="1.3" height="1.3" fill="#000"/>
<rect x="420.8" y="370.5" width="1.3" height="1.3" fill="#000"/>
<rect x="428.5" y="369.4" width="1.3" height="1.3" fill="#000"/>
<rect x="425.8" y="376.6" width="1.3" height="1.3" fill="#000"/>
<rect x="424.5" y="374.1" width="1.3" height="1.3" fill="#000"/>
<rect x="424.5" y="366.1" width="1.3" height="1.3" fill="#000"/>
<rect x="429.9" y="371.2" width="1.3" height="1.3" fill="#000"/>
<rect x="420.7" y="366.5" width="1.3" height="1.3" fill="#000"/>
<rect x="425.7" y="363.4" width="1.3" height="1.3" fill="#000"/>
<rect x="418.8" y="388.8" width="1.3" height="1.3" fill="#000"/>
<rect x="430.4" y="381.0" width="1.3" height="1.3" fill="#000"/>
<rect x="430.7" y="377.2" width="1.3" height="1.3" fill="#000"/>
<rect x="415.4" y="382.2" width="1.3" height="1.3" fill="#000"/>
<rect x="430.1" y="376.4" width="1.3" height="1.3" fill="#000"/>
<rect x="414.0" y="382.6" width="1.3" height="1.3" fill="#000"/>
<rect x="430.7" y="368.3" width="1.3" height="1.3" fill="#000"/>
<rect x="424.5" y="378.7" width="1.3" height="1.3" fill="#000"/>
<rect x="423.4" y="381.4" width="1.3" height="1.3" fill="#000"/>
<rect x="424.3" y="378.0" width="1.3" height="1.3" fill="#000"/>
<rect x="424.3" y="360.2" width="1.3" height="1.3" fill="#000"/>
<rect x="425.3" y="383.1" width="1.3" height="1.3" fill="#000"/>
<rect x="429.6" y="386.5" width="1.3" height="1.3" fill="#000"/>
<rect x="426.6" y="367.4" width="1.3" height="1.3" fill="#000"/>
<rect x="423.9" y="356.5" width="1.3" height="1.3" fill="#000"/>
<rect x="422.9" y="379.8" width="1.3" height="1.3" fill="#000"/>
<rect x="412.9" y="374.0" width="1.3" height="1.3" fill="#000"/>
<rect x="428.0" y="383.3" width="1.3" height="1.3" fill="#000"/>
<rect x="419.2" y="367.0" width="1.3" height="1.3" fill="#000"/>
<rect x="414.4" y="363.9" width="1.3" height="1.3" fill="#000"/>
<rect x="418.1" y="383.7" width="1.3" height="1.3" fill="#000"/>
<rect x="426.0" y="368.3" width="1.3" height="1.3" fill="#000"/>
<rect x="423.5" y="374.2" width="1.3" height="1.3" fill="#000"/>
<rect x="434.6" y="387.2" width="1.3" height="1.3" fill="#000"/>
<rect x="435.3" y="373.5" width="1.3" height="1.3" fill="#000"/>
<rect x="428.8" y="383.6" width="1.3" height="1.3" fill="#000"/>
<rect x="426.4" y="375.3" width="1.3" height="1.3" fill="#000"/>
<rect x="422.9" y="369.0" width="1.3" height="1.3" fill="#000"/>
<rect x="417.6" y="388.5" width="1.3" height="1.3" fill="#000"/>
<rect x="425.2" y="372.1" width="1.3" height="1.3" fill="#000"/>
<rect x="424.7" y="387.3" width="1.3" height="1.3" fill="#000"/>
<rect x="423.3" y="370.2" width="1.3" height="1.3" fill="#000"/>
<rect x="420.1" y="372.2" width="1.3" height="1.3" fill="#000"/>
<rect x="421.6" y="374.0" width="1.3" height="1.3" fill="#000"/>
<rect x="439.6" y="375.6" width="1.3" height="1.3" fill="#000"/>
<rect x="419.5" y="388.3" width="1.3" height="1.3" fill="#000"/>
<rect x="428.2" y="379.1" width="1.3" height="1.3" fill="#000"/>
<rect x="427.5" y="379.1" width="1.3" height="1.3" fill="#000"/>
<rect x="427.3" y="384.0" width="1.3" height="1.3" fill="#000"/>
<rect x="428.9" y="383.5" width="1.3" height="1.3" fill="#000"/>
<rect x="421.3" y="372.3" width="1.3" height="1.3" fill="#000"/>
<rect x="420.2" y="380.3" width="1.3" height="1.3" fill="#000"/>
<rect x="428.1" y="368.5" width="1.3" height="1.3" fill="#000"/>
<rect x="430.1" y="363.1" width="1.3" height="1.3" fill="#000"/>
<rect x="423.4" y="377.6" width="1.3" height="1.3" fill="#000"/>
<rect x="423.7" y="375.5" width="1.3" height="1.3" fill="#000"/>
<rect x="429.8" y="375.1" width="1.3" height="1.3" fill="#000"/>
<rect x="418.3" y="378.3" width="1.3" height="1.3" fill="#000"/>
<rect x="423.4" y="373.3" width="1.3" height="1.3" fill="#000"/>
<rect x="421.0" y="360.9" width="1.3" height="1.3" fill="#000"/>
<rect x="417.5" y="369.4" width="1.3" height="1.3" fill="#000"/>
<rect x="429.7" y="362.7" width="1.3" height="1.3" fill="#000"/>
<rect x="420.2" y="376.8" width="1.3" height="1.3" fill="#000"/>
<rect x="411.6" y="383.5" width="1.3" height="1.3" fill="#000"/>
<rect x="420.0" y="377.8" width="1.3" height="1.3" fill="#000"/>
<rect x="421.4" y="374.9" width="1.3" height="1.3" fill="#000"/>
<rect x="424.4" y="372.3" width="1.3" height="1.3" fill="#000"/>
<rect x="414.6" y="360.2" width="1.3" height="1.3" fill="#000"/>
<rect x="423.6" y="384.0" width="1.3" height="1.3" fill="#000"/>
<rect x="421.1" y="376.8" width="1.3" height="1.3" fill="#000"/>
<rect x="424.7" y="376.4" width="1.3" height="1.3" fill="#000"/>
<rect x="428.9" y="359.9" width="1.3" height="1.3" fill="#000"/>
<rect x="425.2" y="370.9" width="1.3" height="1.3" fill="#000"/>
<rect x="422.3" y="365.3" width="1.3" height="1.3" fill="#000"/>
<rect x="419.9" y="363.8" width="1.3" height="1.3" fill="#000"/>
<rect x="432.5" y="372.4" width="1.3" height="1.3" fill="#000"/>
<rect x="427.6" y="364.3" width="1.3" height="1.3" fill="#000"/>
<rect x="409.8" y="357.3" width="1.3" height="1.3" fill="#000"/>
<rect x="424.6" y="384.3" width="1.3" height="1.3" fill="#000"/>
<rect x="423.6" y="364.1" width="1.3" height="1.3" fill="#000"/>
<rect x="422.6" y="364.1" width="1.3" height="1.3" fill="#000"/>
<rect x="416.8" y="370.4" width="1.3" height="1.3" fill="#000"/>
<rect x="421.8" y="365.6" width="1.3" height="1.3" fill="#000"/>
<rect x="419.4" y="364.6" width="1.3" height="1.3" fill="#000"/>
<rect x="425.0" y="383.9" width="1.3" height="1.3" fill="#000"/>
<rect x="415.7" y="374.6" width="1.3" height="1.3" fill="#000"/>
<rect x="418.0" y="371.0" width="1.3" height="1.3" fill="#000"/>
<rect x="424.4" y="377.0" width="1.3" height="1.3" fill="#000"/>
<rect x="429.6" y="367.8" width="1.3" height="1.3" fill="#000"/>
<rect x="417.6" y="370.8" width="1.3" height="1.3" fill="#000"/>
<rect x="425.3" y="366.6" width="1.3" height="1.3" fill="#000"/>
<rect x="428.4" y="386.3" width="1.3" height="1.3" fill="#000"/>
<rect x="416.6" y="375.4" width="1.3" height="1.3" fill="#000"/>
<rect x="429.0" y="356.4" width="1.3" height="1.3" fill="#000"/>
<rect x="424.9" y="370.5" width="1.3" height="1.3" fill="#000"/>
<rect x="416.6" y="383.2" width="1.3" height="1.3" fill="#000"/>
<rect x="425.0" y="368.4" width="1.3" height="1.3" fill="#000"/>
<rect x="426.1" y="377.7" width="1.3" height="1.3" fill="#000"/>
<rect x="427.7" y="377.2" width="1.3" height="1.3" fill="#000"/>
<rect x="425.9" y="362.6" width="1.3" height="1.3" fill="#000"/>
<rect x="421.7" y="373.4" width="1.3" height="1.3" fill="#000"/>
<rect x="421.9" y="363.6" width="1.3" height="1.3" fill="#000"/>
<rect x="414.6" y="374.4" width="1.3" height="1.3" fill="#000"/>
<rect x="424.0" y="367.5" width="1.3" height="1.3" fill="#000"/>
<rect x="421.7" y="365.0" width="1.3" height="1.3" fill="#000"/>
<rect x="420.1" y="371.5" width="1.3" height="1.3" fill="#000"/>
<rect x="420.6" y="378.0" width="1.3" height="1.3" fill="#000"/>
<rect x="423.1" y="373.4" width="1.3" height="1.3" fill="#000"/>
<rect x="425.9" y="382.9" width="1.3" height="1.3" fill="#000"/>
<rect x="426.9" y="374.2" width="1.3" height="1.3" fill="#000"/>
<rect x="423.0" y="365.7" width="1.3" height="1.3" fill="#000"/>
<rect x="422.1" y="378.0" width="1.3" height="1.3" fill="#000"/>
<rect x="425.0" y="369.1" width="1.3" height="1.3" fill="#000"/>
<rect x="417.1" y="359.7" width="1.3" height="1.3" fill="#000"/>
<rect x="425.5" y="380.9" width="1.3" height="1.3" fill="#000"/>
<rect x="425.7" y="361.0" width="1.3" height="1.3" fill="#000"/>
<rect x="422.8" y="374.2" width="1.3" height="1.3" fill="#000"/>
<rect x="419.2" y="375.2" width="1.3" height="1.3" fill="#000"/>
<rect x="422.8" y="365.4" width="1.3" height="1.3" fill="#000"/>
<rect x="417.6" y="379.1" width="1.3" height="1.3" fill="#000"/>
<rect x="425.7" y="365.0" width="1.3" height="1.3" fill="#000"/>
<rect x="418.7" y="379.7" width="1.3" height="1.3" fill="#000"/>
<rect x="426.9" y="369.8" width="1.3" height="1.3" fill="#000"/>
<rect x="431.9" y="370.0" width="1.3" height="1.3" fill="#000"/>
<rect x="418.5" y="381.4" width="1.3" height="1.3" fill="#000"/>
<rect x="422.9" y="375.2" width="1.3" height="1.3" fill="#000"/>
<rect x="424.0" y="364.1" width="1.3" height="1.3" fill="#000"/>
<rect x="417.8" y="370.7" width="1.3" height="1.3" fill="#000"/>
<rect x="431.0" y="364.0" width="1.3" height="1.3" fill="#000"/>
<rect x="430.7" y="374.2" width="1.3" height="1.3" fill="#000"/>
<rect x="418.2" y="374.6" width="1.3" height="1.3" fill="#000"/>
<rect x="426.7" y="364.9" width="1.3" height="1.3" fill="#000"/>
<rect x="413.1" y="375.3" width="1.3" height="1.3" fill="#000"/>
<rect x="418.2" y="376.0" width="1.3" height="1.3" fill="#000"/>
<rect x="414.2" y="371.2" width="1.3" height="1.3" fill="#000"/>
<rect x="419.8" y="360.1" width="1.3" height="1.3" fill="#000"/>
<rect x="422.6" y="373.8" width="1.3" height="1.3" fill="#000"/>
<rect x="421.0" y="362.6" width="1.3" height="1.3" fill="#000"/>
<rect x="424.9" y="357.9" width="1.3" height="1.3" fill="#000"/>
<rect x="426.6" y="376.4" width="1.3" height="1.3" fill="#000"/>
<rect x="432.3" y="379.7" width="1.3" height="1.3" fill="#000"/>
<rect x="425.6" y="374.5" width="1.3" height="1.3" fill="#000"/>
<rect x="424.0" y="361.4" width="1.3" height="1.3" fill="#000"/>
<rect x="431.2" y="376.7" width="1.3" height="1.3" fill="#000"/>
<rect x="422.4" y="362.9" width="1.3" height="1.3" fill="#000"/>
<rect x="431.4" y="376.7" width="1.3" height="1.3" fill="#000"/>
<rect x="417.9" y="377.9" width="1.3" height="1.3" fill="#000"/>
<rect x="433.4" y="372.2" width="1.3" height="1.3" fill="#000"/>
<rect x="425.9" y="368.9" width="1.3" height="1.3" fill="#000"/>
<rect x="420.7" y="381.2" width="1.3" height="1.3" fill="#000"/>
<rect x="439.4" y="373.3" width="1.3" height="1.3" fill="#000"/>
<rect x="423.2" y="378.9" width="1.3" height="1.3" fill="#000"/>
<rect x="422.3" y="378.4" width="1.3" height="1.3" fill="#000"/>
<rect x="428.0" y="364.0" width="1.3" height="1.3" fill="#000"/>
<rect x="418.4" y="371.7" width="1.3" height="1.3" fill="#000"/>
<rect x="428.1" y="374.6" width="1.3" height="1.3" fill="#000"/>
<rect x="430.1" y="361.0" width="1.3" height="1.3" fill="#000"/>
<rect x="426.3" y="367.2" width="1.3" height="1.3" fill="#000"/>
<rect x="424.4" y="375.0" width="1.3" height="1.3" fill="#000"/>
<rect x="419.0" y="370.5" width="1.3" height="1.3" fill="#000"/>
<rect x="418.0" y="374.5" width="1.3" height="1.3" fill="#000"/>
<rect x="419.6" y="368.3" width="1.3" height="1.3" fill="#000"/>
<rect x="425.0" y="367.0" width="1.3" height="1.3" fill="#000"/>
<rect x="429.6" y="367.1" width="1.3" height="1.3" fill="#000"/>
<rect x="428.1" y="374.7" width="1.3" height="1.3" fill="#000"/>
<rect x="418.6" y="370.6" width="1.3" height="1.3" fill="#000"/>
<rect x="419.6" y="369.4" width="1.3" height="1.3" fill="#000"/>
<rect x="422.5" y="387.3" width="1.3" height="1.3" fill="#000"/>
<rect x="421.7" y="385.3" width="1.3" height="1.3" fill="#000"/>
<rect x="426.1" y="361.6" width="1.3" height="1.3" fill="#000"/>
<rect x="412.2" y="377.9" width="1.3" height="1.3" fill="#000"/>
<rect x="413.8" y="378.3" width="1.3" height="1.3" fill="#000"/>
<rect x="429.0" y="375.6" width="1.3" height="1.3" fill="#000"/>
<rect x="422.8" y="370.3" width="1.3" height="1.3" fill="#000"/>
<rect x="425.2" y="369.9" width="1.3" height="1.3" fill="#000"/>
<rect x="421.2" y="369.3" width="1.3" height="1.3" fill="#000"/>
<rect x="429.7" y="367.2" width="1.3" height="1.3" fill="#000"/>
<rect x="425.8" y="362.9" width="1.3" height="1.3" fill="#000"/>
<rect x="420.3" y="361.0" width="1.3" height="1.3" fill="#000"/>
<rect x="422.9" y="378.0" width="1.3" height="1.3" fill="#000"/>
<rect x="425.4" y="368.3" width="1.3" height="1.3" fill="#000"/>
<rect x="426.9" y="369.5" width="1.3" height="1.3" fill="#000"/>
<rect x="425.7" y="374.6" width="1.3" height="1.3" fill="#000"/>
<rect x="417.3" y="378.7" width="1.3" height="1.3" fill="#000"/>
<rect x="422.7" y="367.8" width="1.3" height="1.3" fill="#000"/>
<rect x="431.4" y="376.9" width="1.3" height="1.3" fill="#000"/>
<rect x="433.4" y="376.5" width="1.3" height="1.3" fill="#000"/>
<rect x="422.8" y="378.3" width="1.3" height="1.3" fill="#000"/>
<rect x="419.9" y="368.7" width="1.3" height="1.3" fill="#000"/>
<rect x="421.1" y="370.5" width="1.3" height="1.3" fill="#000"/>
<rect x="427.8" y="368.4" width="1.3" height="1.3" fill="#000"/>
<rect x="425.5" y="368.3" width="1.3" height="1.3" fill="#000"/>
<rect x="422.8" y="373.7" width="1.3" height="1.3" fill="#000"/>
<rect x="418.4" y="380.7" width="1.3" height="1.3" fill="#000"/>
<rect x="424.9" y="382.9" width="1.3" height="1.3" fill="#000"/>
<rect x="428.7" y="377.6" width="1.3" height="1.3" fill="#000"/>
<rect x="423.1" y="363.4" width="1.3" height="1.3" fill="#000"/>
<rect x="422.7" y="368.6" width="1.3" height="1.3" fill="#000"/>
<rect x="425.1" y="368.5" width="1.3" height="1.3" fill="#000"/>
<rect x="439.2" y="359.2" width="1.3" height="1.3" fill="#000"/>
<rect x="429.8" y="368.5" width="1.3" height="1.3" fill="#000"/>
<rect x="422.6" y="380.0" width="1.3" height="1.3" fill="#000"/>
<rect x="423.9" y="362.4" width="1.3" height="1.3" fill="#000"/>
<rect x="425.9" y="370.7" width="1.3" height="1.3" fill="#000"/>
<rect x="413.5" y="374.0" width="1.3" height="1.3" fill="#000"/>
<rect x="418.5" y="366.2" width="1.3" height="1.3" fill="#000"/>
<rect x="426.3" y="374.8" width="1.3" height="1.3" fill="#000"/>
<rect x="426.0" y="367.3" width="1.3" height="1.3" fill="#000"/>
<rect x="425.0" y="371.4" width="1.3" height="1.3" fill="#000"/>
<rect x="412.8" y="359.4" width="1.3" height="1.3" fill="#000"/>
<rect x="416.9" y="389.3" width="1.3" height="1.3" fill="#000"/>
<rect x="422.9" y="370.1" width="1.3" height="1.3" fill="#000"/>
<rect x="421.0" y="380.4" width="1.3" height="1.3" fill="#000"/>
<rect x="424.0" y="386.3" width="1.3" height="1.3" fill="#000"/>
<rect x="427.8" y="385.8" width="1.3" height="1.3" fill="#000"/>
<rect x="423.3" y="375.4" width="1.3" height="1.3" fill="#000"/>
<rect x="421.7" y="371.0" width="1.3" height="1.3" fill="#000"/>
<rect x="415.2" y="367.6" width="1.3" height="1.3" fill="#000"/>
<rect x="419.1" y="367.0" width="1.3" height="1.3" fill="#000"/>
<rect x="430.0" y="374.5" width="1.3" height="1.3" fill="#000"/>
<rect x="430.0" y="379.4" width="1.3" height="1.3" fill="#000"/>
<rect x="428.5" y="380.6" width="1.3" height="1.3" fill="#000"/>
<rect x="420.8" y="378.9" width="1.3" height="1.3" fill="#000"/>
<rect x="422.2" y="368.0" width="1.3" height="1.3" fill="#000"/>
<rect x="418.9" y="386.6" width="1.3" height="1.3" fill="#000"/>
<rect x="428.0" y="365.4" width="1.3" height="1.3" fill="#000"/>
<rect x="425.2" y="375.4" width="1.3" height="1.3" fill="#000"/>
<rect x="425.7" y="369.4" width="1.3" height="1.3" fill="#000"/>
<rect x="417.4" y="372.6" width="1.3" height="1.3" fill="#000"/>
<rect x="428.2" y="378.8" width="1.3" height="1.3" fill="#000"/>
<rect x="427.2" y="381.4" width="1.3" height="1.3" fill="#000"/>
<rect x="407.3" y="376.1" width="1.2" height="1.2" fill="#000"/>
<rect x="419.5" y="384.1" width="1.2" height="1.2" fill="#000"/>
<rect x="417.8" y="380.4" width="1.2" height="1.2" fill="#000"/>
<rect x="396.4" y="376.2" width="1.2" height="1.2" fill="#000"/>
<rect x="439.1" y="378.2" width="1.2" height="1.2" fill="#000"/>
<rect x="399.6" y="377.4" width="1.2" height="1.2" fill="#000"/>
<rect x="403.3" y="371.2" width="1.2" height="1.2" fill="#000"/>
<rect x="420.6" y="381.6" width="1.2" height="1.2" fill="#000"/>
<rect x="425.7" y="377.9" width="1.2" height="1.2" fill="#000"/>
<rect x="408.6" y="375.6" width="1.2" height="1.2" fill="#000"/>
<rect x="419.5" y="374.3" width="1.2" height="1.2" fill="#000"/>
<rect x="410.3" y="373.6" width="1.2" height="1.2" fill="#000"/>
<rect x="402.7" y="368.5" width="1.2" height="1.2" fill="#000"/>
<rect x="415.6" y="373.6" width="1.2" height="1.2" fill="#000"/>
<rect x="416.7" y="387.2" width="1.2" height="1.2" fill="#000"/>
<rect x="419.1" y="376.2" width="1.2" height="1.2" fill="#000"/>
<rect x="405.7" y="368.1" width="1.2" height="1.2" fill="#000"/>
<rect x="419.8" y="369.7" width="1.2" height="1.2" fill="#000"/>
<rect x="420.3" y="368.1" width="1.2" height="1.2" fill="#000"/>
<rect x="417.6" y="375.8" width="1.2" height="1.2" fill="#000"/>
<rect x="425.5" y="373.4" width="1.2" height="1.2" fill="#000"/>
<rect x="413.0" y="378.3" width="1.2" height="1.2" fill="#000"/>
<rect x="414.0" y="372.3" width="1.2" height="1.2" fill="#000"/>
<rect x="413.5" y="380.0" width="1.2" height="1.2" fill="#000"/>
<rect x="418.5" y="381.7" width="1.2" height="1.2" fill="#000"/>
<rect x="433.2" y="376.2" width="1.2" height="1.2" fill="#000"/>
<rect x="405.3" y="377.6" width="1.2" height="1.2" fill="#000"/>
<rect x="420.2" y="359.2" width="1.2" height="1.2" fill="#000"/>
<rect x="416.5" y="365.0" width="1.2" height="1.2" fill="#000"/>
<rect x="420.6" y="387.0" width="1.2" height="1.2" fill="#000"/>
<rect x="425.8" y="364.8" width="1.2" height="1.2" fill="#000"/>
<rect x="429.0" y="383.4" width="1.2" height="1.2" fill="#000"/>
<rect x="413.1" y="380.3" width="1.2" height="1.2" fill="#000"/>
<rect x="430.3" y="373.8" width="1.2" height="1.2" fill="#000"/>
<rect x="416.3" y="372.1" width="1.2" height="1.2" fill="#000"/>
<rect x="427.0" y="359.8" width="1.2" height="1.2" fill="#000"/>
<rect x="429.4" y="369.0" width="1.2" height="1.2" fill="#000"/>
<rect x="424.9" y="363.9" width="1.2" height="1.2" fill="#000"/>
<rect x="407.8" y="371.8" width="1.2" height="1.2" fill="#000"/>
<rect x="424.0" y="363.9" width="1.2" height="1.2" fill="#000"/>
<rect x="421.9" y="371.5" width="1.2" height="1.2" fill="#000"/>
<rect x="427.8" y="374.0" width="1.2" height="1.2" fill="#000"/>
<rect x="420.8" y="375.1" width="1.2" height="1.2" fill="#000"/>
<rect x="432.8" y="373.6" width="1.2" height="1.2" fill="#000"/>
<rect x="417.1" y="381.7" width="1.2" height="1.2" fill="#000"/>
<rect x="409.7" y="377.9" width="1.2" height="1.2" fill="#000"/>
<rect x="395.7" y="377.2" width="1.2" height="1.2" fill="#000"/>
<rect x="410.5" y="364.8" width="1.2" height="1.2" fill="#000"/>
<rect x="403.5" y="385.2" width="1.2" height="1.2" fill="#000"/>
<rect x="420.3" y="364.7" width="1.2" height="1.2" fill="#000"/>
<rect x="433.0" y="371.0" width="1.2" height="1.2" fill="#000"/>
<rect x="413.0" y="378.3" width="1.2" height="1.2" fill="#000"/>
<rect x="406.0" y="364.0" width="1.2" height="1.2" fill="#000"/>
<rect x="409.6" y="385.5" width="1.2" height="1.2" fill="#000"/>
<rect x="425.1" y="364.2" width="1.2" height="1.2" fill="#000"/>
<rect x="427.4" y="376.7" width="1.2" height="1.2" fill="#000"/>
<rect x="421.0" y="376.8" width="1.2" height="1.2" fill="#000"/>
<rect x="420.2" y="368.7" width="1.2" height="1.2" fill="#000"/>
<rect x="408.1" y="371.0" width="1.2" height="1.2" fill="#000"/>
<rect x="413.0" y="381.2" width="1.2" height="1.2" fill="#000"/>
<rect x="405.3" y="388.7" width="1.2" height="1.2" fill="#000"/>
<rect x="410.6" y="371.9" width="1.2" height="1.2" fill="#000"/>
<rect x="422.8" y="379.7" width="1.2" height="1.2" fill="#000"/>
<rect x="413.3" y="368.2" width="1.2" height="1.2" fill="#000"/>
<rect x="407.3" y="364.1" width="1.2" height="1.2" fill="#000"/>
<rect x="426.9" y="384.7" width="1.2" height="1.2" fill="#000"/>
<rect x="433.5" y="380.2" width="1.2" height="1.2" fill="#000"/>
<rect x="419.4" y="382.2" width="1.2" height="1.2" fill="#000"/>
<rect x="425.1" y="374.4" width="1.2" height="1.2" fill="#000"/>
<rect x="400.9" y="365.6" width="1.2" height="1.2" fill="#000"/>
<rect x="407.6" y="382.2" width="1.2" height="1.2" fill="#000"/>
<rect x="427.3" y="373.8" width="1.2" height="1.2" fill="#000"/>
<rect x="422.5" y="376.0" width="1.2" height="1.2" fill="#000"/>
<rect x="419.1" y="372.2" width="1.2" height="1.2" fill="#000"/>
<rect x="416.2" y="376.4" width="1.2" height="1.2" fill="#000"/>
<rect x="399.8" y="380.5" width="1.2" height="1.2" fill="#000"/>
<rect x="416.4" y="383.9" width="1.2" height="1.2" fill="#000"/>
<rect x="426.1" y="382.4" width="1.2" height="1.2" fill="#000"/>
<rect x="423.8" y="369.1" width="1.2" height="1.2" fill="#000"/>
<rect x="400.8" y="389.3" width="1.2" height="1.2" fill="#000"/>
<rect x="427.5" y="369.1" width="1.2" height="1.2" fill="#000"/>
<rect x="428.2" y="381.5" width="1.2" height="1.2" fill="#000"/>
<rect x="394.0" y="383.3" width="1.2" height="1.2" fill="#000"/>
<rect x="407.4" y="385.4" width="1.2" height="1.2" fill="#000"/>
<rect x="410.2" y="370.7" width="1.2" height="1.2" fill="#000"/>
<rect x="402.3" y="374.7" width="1.2" height="1.2" fill="#000"/>
<rect x="425.7" y="371.2" width="1.2" height="1.2" fill="#000"/>
<rect x="433.3" y="381.7" width="1.2" height="1.2" fill="#000"/>
<rect x="411.5" y="367.1" width="1.2" height="1.2" fill="#000"/>
<rect x="401.4" y="380.7" width="1.2" height="1.2" fill="#000"/>
<rect x="428.3" y="368.2" width="1.2" height="1.2" fill="#000"/>
<rect x="416.4" y="374.3" width="1.2" height="1.2" fill="#000"/>
<rect x="414.1" y="380.3" width="1.2" height="1.2" fill="#000"/>
<rect x="435.6" y="371.5" width="1.2" height="1.2" fill="#000"/>
<rect x="424.2" y="384.8" width="1.2" height="1.2" fill="#000"/>
<rect x="413.8" y="375.3" width="1.2" height="1.2" fill="#000"/>
<rect x="404.1" y="384.7" width="1.2" height="1.2" fill="#000"/>
<rect x="411.5" y="371.4" width="1.2" height="1.2" fill="#000"/>
<rect x="417.0" y="369.8" width="1.2" height="1.2" fill="#000"/>
<rect x="406.9" y="374.1" width="1.2" height="1.2" fill="#000"/>
<rect x="430.0" y="374.8" width="1.2" height="1.2" fill="#000"/>
<rect x="421.2" y="365.1" width="1.2" height="1.2" fill="#000"/>
<rect x="412.8" y="364.5" width="1.2" height="1.2" fill="#000"/>
<rect x="415.4" y="381.1" width="1.2" height="1.2" fill="#000"/>
<rect x="400.6" y="369.6" width="1.2" height="1.2" fill="#000"/>
<rect x="418.8" y="369.3" width="1.2" height="1.2" fill="#000"/>
<rect x="423.7" y="383.8" width="1.2" height="1.2" fill="#000"/>
<rect x="420.5" y="373.1" width="1.2" height="1.2" fill="#000"/>
<rect x="416.0" y="371.5" width="1.2" height="1.2" fill="#000"/>
<rect x="415.2" y="378.9" width="1.2" height="1.2" fill="#000"/>
<rect x="413.6" y="383.9" width="1.2" height="1.2" fill="#000"/>
<rect x="440.2" y="372.2" width="1.2" height="1.2" fill="#000"/>
<rect x="419.5" y="382.8" width="1.2" height="1.2" fill="#000"/>
<rect x="422.3" y="374.6" width="1.2" height="1.2" fill="#000"/>
<rect x="412.0" y="384.2" width="1.2" height="1.2" fill="#000"/>
<rect x="422.1" y="380.3" width="1.2" height="1.2" fill="#000"/>
<rect x="409.0" y="381.3" width="1.2" height="1.2" fill="#000"/>
<rect x="423.7" y="375.0" width="1.2" height="1.2" fill="#000"/>
<rect x="399.2" y="381.1" width="1.2" height="1.2" fill="#000"/>
<rect x="405.7" y="365.9" width="1.2" height="1.2" fill="#000"/>
<rect x="414.2" y="380.6" width="1.2" height="1.2" fill="#000"/>
<rect x="416.9" y="367.4" width="1.2" height="1.2" fill="#000"/>
<rect x="403.2" y="372.1" width="1.2" height="1.2" fill="#000"/>
<rect x="416.5" y="370.0" width="1.2" height="1.2" fill="#000"/>
<rect x="408.7" y="375.2" width="1.2" height="1.2" fill="#000"/>
<rect x="411.4" y="371.9" width="1.2" height="1.2" fill="#000"/>
<rect x="416.8" y="374.1" width="1.2" height="1.2" fill="#000"/>
<rect x="422.1" y="367.2" width="1.2" height="1.2" fill="#000"/>
<rect x="415.7" y="382.3" width="1.2" height="1.2" fill="#000"/>
<rect x="427.2" y="380.7" width="1.2" height="1.2" fill="#000"/>
<rect x="416.7" y="364.4" width="1.2" height="1.2" fill="#000"/>
<rect x="401.7" y="384.0" width="1.2" height="1.2" fill="#000"/>
<rect x="422.6" y="380.8" width="1.2" height="1.2" fill="#000"/>
<rect x="401.1" y="359.9" width="1.2" height="1.2" fill="#000"/>
<rect x="406.7" y="367.2" width="1.2" height="1.2" fill="#000"/>
<rect x="417.9" y="368.5" width="1.2" height="1.2" fill="#000"/>
<rect x="431.0" y="371.6" width="1.2" height="1.2" fill="#000"/>
<rect x="411.2" y="383.1" width="1.2" height="1.2" fill="#000"/>
<rect x="419.4" y="369.4" width="1.2" height="1.2" fill="#000"/>
<rect x="405.1" y="374.5" width="1.2" height="1.2" fill="#000"/>
<rect x="406.5" y="361.3" width="1.2" height="1.2" fill="#000"/>
<rect x="422.2" y="381.8" width="1.2" height="1.2" fill="#000"/>
<rect x="425.4" y="379.7" width="1.2" height="1.2" fill="#000"/>
<rect x="397.8" y="376.2" width="1.2" height="1.2" fill="#000"/>
<rect x="410.2" y="367.3" width="1.2" height="1.2" fill="#000"/>
<rect x="406.2" y="382.3" width="1.2" height="1.2" fill="#000"/>
<rect x="420.7" y="361.6" width="1.2" height="1.2" fill="#000"/>
<rect x="424.6" y="386.1" width="1.2" height="1.2" fill="#000"/>
<rect x="416.7" y="367.0" width="1.2" height="1.2" fill="#000"/>
<rect x="432.7" y="366.2" width="1.2" height="1.2" fill="#000"/>
<rect x="415.6" y="361.6" width="1.2" height="1.2" fill="#000"/>
<rect x="404.8" y="363.2" width="1.2" height="1.2" fill="#000"/>
<rect x="426.5" y="385.6" width="1.2" height="1.2" fill="#000"/>
<rect x="412.7" y="365.8" width="1.2" height="1.2" fill="#000"/>
<rect x="415.8" y="379.3" width="1.2" height="1.2" fill="#000"/>
<rect x="402.3" y="367.4" width="1.2" height="1.2" fill="#000"/>
<rect x="415.5" y="381.9" width="1.2" height="1.2" fill="#000"/>
<rect x="417.1" y="379.9" width="1.2" height="1.2" fill="#000"/>
<rect x="404.8" y="357.0" width="1.2" height="1.2" fill="#000"/>
<rect x="419.3" y="369.2" width="1.2" height="1.2" fill="#000"/>
<rect x="415.3" y="373.5" width="1.2" height="1.2" fill="#000"/>
<rect x="420.9" y="370.4" width="1.2" height="1.2" fill="#000"/>
<rect x="429.8" y="376.6" width="1.2" height="1.2" fill="#000"/>
<rect x="421.3" y="381.3" width="1.2" height="1.2" fill="#000"/>
<rect x="426.0" y="379.6" width="1.2" height="1.2" fill="#000"/>
<rect x="400.2" y="371.5" width="1.2" height="1.2" fill="#000"/>
<rect x="433.7" y="380.1" width="1.2" height="1.2" fill="#000"/>
<rect x="421.6" y="380.1" width="1.2" height="1.2" fill="#000"/>
<rect x="410.4" y="371.1" width="1.2" height="1.2" fill="#000"/>
<rect x="410.4" y="385.5" width="1.2" height="1.2" fill="#000"/>
<rect x="420.7" y="367.1" width="1.2" height="1.2" fill="#000"/>
<rect x="432.6" y="379.0" width="1.2" height="1.2" fill="#000"/>
<rect x="427.5" y="378.1" width="1.2" height="1.2" fill="#000"/>
<rect x="413.4" y="377.7" width="1.2" height="1.2" fill="#000"/>
<rect x="406.0" y="367.0" width="1.2" height="1.2" fill="#000"/>
<rect x="408.1" y="372.3" width="1.2" height="1.2" fill="#000"/>
<rect x="403.8" y="375.6" width="1.2" height="1.2" fill="#000"/>
<rect x="433.5" y="376.0" width="1.2" height="1.2" fill="#000"/>
<rect x="424.6" y="374.7" width="1.2" height="1.2" fill="#000"/>
<rect x="420.0" y="376.1" width="1.2" height="1.2" fill="#000"/>
<rect x="411.4" y="377.0" width="1.2" height="1.2" fill="#000"/>
<rect x="402.6" y="379.9" width="1.2" height="1.2" fill="#000"/>
<rect x="413.7" y="367.9" width="1.2" height="1.2" fill="#000"/>
<rect x="413.0" y="380.8" width="1.2" height="1.2" fill="#000"/>
<rect x="410.1" y="380.1" width="1.2" height="1.2" fill="#000"/>
<rect x="421.7" y="388.7" width="1.2" height="1.2" fill="#000"/>
<rect x="406.2" y="375.5" width="1.2" height="1.2" fill="#000"/>
<rect x="421.2" y="388.2" width="1.2" height="1.2" fill="#000"/>
<rect x="418.9" y="382.3" width="1.2" height="1.2" fill="#000"/>
<rect x="402.7" y="371.8" width="1.2" height="1.2" fill="#000"/>
<rect x="431.9" y="374.2" width="1.2" height="1.2" fill="#000"/>
<rect x="436.6" y="370.7" width="1.2" height="1.2" fill="#000"/>
<rect x="413.8" y="363.8" width="1.2" height="1.2" fill="#000"/>
<rect x="422.4" y="378.5" width="1.2" height="1.2" fill="#000"/>
<rect x="435.3" y="377.7" width="1.2" height="1.2" fill="#000"/>
<rect x="414.1" y="365.3" width="1.2" height="1.2" fill="#000"/>
<rect x="415.6" y="383.9" width="1.2" height="1.2" fill="#000"/>
<rect x="423.3" y="386.1" width="1.2" height="1.2" fill="#000"/>
<rect x="424.5" y="376.0" width="1.2" height="1.2" fill="#000"/>
<rect x="422.1" y="377.8" width="1.2" height="1.2" fill="#000"/>
<rect x="419.9" y="368.1" width="1.2" height="1.2" fill="#000"/>
<rect x="420.0" y="378.7" width="1.2" height="1.2" fill="#000"/>
<rect x="425.8" y="387.8" width="1.2" height="1.2" fill="#000"/>
<rect x="430.8" y="368.9" width="1.2" height="1.2" fill="#000"/>
<rect x="398.9" y="378.6" width="1.2" height="1.2" fill="#000"/>
<rect x="419.6" y="379.2" width="1.2" height="1.2" fill="#000"/>
<rect x="406.0" y="372.7" width="1.2" height="1.2" fill="#000"/>
<rect x="418.2" y="382.3" width="1.2" height="1.2" fill="#000"/>
<rect x="437.0" y="378.7" width="1.2" height="1.2" fill="#000"/>
<rect x="410.7" y="357.7" width="1.2" height="1.2" fill="#000"/>
<rect x="426.5" y="375.4" width="1.2" height="1.2" fill="#000"/>
<rect x="415.4" y="368.6" width="1.2" height="1.2" fill="#000"/>
<rect x="423.3" y="362.2" width="1.2" height="1.2" fill="#000"/>
<rect x="417.4" y="377.4" width="1.2" height="1.2" fill="#000"/>
<rect x="419.2" y="386.7" width="1.2" height="1.2" fill="#000"/>
<rect x="415.5" y="377.1" width="1.2" height="1.2" fill="#000"/>
<rect x="424.5" y="364.1" width="1.2" height="1.2" fill="#000"/>
<rect x="413.6" y="376.9" width="1.2" height="1.2" fill="#000"/>
<rect x="425.4" y="370.0" width="1.2" height="1.2" fill="#000"/>
<rect x="424.0" y="379.5" width="1.2" height="1.2" fill="#000"/>
<rect x="402.4" y="364.7" width="1.2" height="1.2" fill="#000"/>
<rect x="402.9" y="377.5" width="1.2" height="1.2" fill="#000"/>
<rect x="418.3" y="382.1" width="1.2" height="1.2" fill="#000"/>
<rect x="424.1" y="372.0" width="1.2" height="1.2" fill="#000"/>
<rect x="426.5" y="382.9" width="1.2" height="1.2" fill="#000"/>
<rect x="420.9" y="380.2" width="1.2" height="1.2" fill="#000"/>
<rect x="404.3" y="379.3" width="1.2" height="1.2" fill="#000"/>
<rect x="406.7" y="366.9" width="1.2" height="1.2" fill="#000"/>
<rect x="413.1" y="377.5" width="1.2" height="1.2" fill="#000"/>
<rect x="415.9" y="373.8" width="1.2" height="1.2" fill="#000"/>
<rect x="407.0" y="377.9" width="1.2" height="1.2" fill="#000"/>
<rect x="409.4" y="365.2" width="1.2" height="1.2" fill="#000"/>
<rect x="417.3" y="388.0" width="1.2" height="1.2" fill="#000"/>
<rect x="412.6" y="368.0" width="1.2" height="1.2" fill="#000"/>
<rect x="413.6" y="374.7" width="1.2" height="1.2" fill="#000"/>
<rect x="417.7" y="384.3" width="1.2" height="1.2" fill="#000"/>
<rect x="420.6" y="361.9" width="1.2" height="1.2" fill="#000"/>
<rect x="406.0" y="366.6" width="1.2" height="1.2" fill="#000"/>
<rect x="420.5" y="377.2" width="1.2" height="1.2" fill="#000"/>
<rect x="433.3" y="374.2" width="1.2" height="1.2" fill="#000"/>
<rect x="419.3" y="377.0" width="1.2" height="1.2" fill="#000"/>
<rect x="419.1" y="388.1" width="1.2" height="1.2" fill="#000"/>
<rect x="428.7" y="371.6" width="1.2" height="1.2" fill="#000"/>
<rect x="422.9" y="373.4" width="1.2" height="1.2" fill="#000"/>
<rect x="417.4" y="377.7" width="1.2" height="1.2" fill="#000"/>
<rect x="416.6" y="372.7" width="1.2" height="1.2" fill="#000"/>
<rect x="431.1" y="374.3" width="1.2" height="1.2" fill="#000"/>
<rect x="422.3" y="384.6" width="1.2" height="1.2" fill="#000"/>
<rect x="429.5" y="385.1" width="1.2" height="1.2" fill="#000"/>
<rect x="432.7" y="365.0" width="1.2" height="1.2" fill="#000"/>
<rect x="434.9" y="376.6" width="1.2" height="1.2" fill="#000"/>
<rect x="399.8" y="371.3" width="1.2" height="1.2" fill="#000"/>
<rect x="403.2" y="376.2" width="1.2" height="1.2" fill="#000"/>
<rect x="402.3" y="368.4" width="1.2" height="1.2" fill="#000"/>
<rect x="419.2" y="377.7" width="1.2" height="1.2" fill="#000"/>
<rect x="408.8" y="374.5" width="1.2" height="1.2" fill="#000"/>
<rect x="415.5" y="377.0" width="1.2" height="1.2" fill="#000"/>
<rect x="423.4" y="385.9" width="1.3" height="1.3" fill="#000"/>
<rect x="427.0" y="388.3" width="1.3" height="1.3" fill="#000"/>
<rect x="411.0" y="386.2" width="1.3" height="1.3" fill="#000"/>
<rect x="419.3" y="386.5" width="1.3" height="1.3" fill="#000"/>
<rect x="409.8" y="386.2" width="1.3" height="1.3" fill="#000"/>
<rect x="433.3" y="387.5" width="1.3" height="1.3" fill="#000"/>
<rect x="406.5" y="386.1" width="1.3" height="1.3" fill="#000"/>
<rect x="422.7" y="388.4" width="1.3" height="1.3" fill="#000"/>
<rect x="427.8" y="386.2" width="1.3" height="1.3" fill="#000"/>
<rect x="407.2" y="386.8" width="1.3" height="1.3" fill="#000"/>
<rect x="424.1" y="386.3" width="1.3" height="1.3" fill="#000"/>
<rect x="417.4" y="388.8" width="1.3" height="1.3" fill="#000"/>
<rect x="424.4" y="385.9" width="1.3" height="1.3" fill="#000"/>
<rect x="394.6" y="386.2" width="1.3" height="1.3" fill="#000"/>
<rect x="421.1" y="387.6" width="1.3" height="1.3" fill="#000"/>
<rect x="413.7" y="387.2" width="1.3" height="1.3" fill="#000"/>
<rect x="408.9" y="387.7" width="1.3" height="1.3" fill="#000"/>
<rect x="419.2" y="388.6" width="1.3" height="1.3" fill="#000"/>
<rect x="422.9" y="388.2" width="1.3" height="1.3" fill="#000"/>
<rect x="430.6" y="388.4" width="1.3" height="1.3" fill="#000"/>
<rect x="422.2" y="385.9" width="1.3" height="1.3" fill="#000"/>
<rect x="420.6" y="388.4" width="1.3" height="1.3" fill="#000"/>
<rect x="409.9" y="388.5" width="1.3" height="1.3" fill="#000"/>
<rect x="399.1" y="388.7" width="1.3" height="1.3" fill="#000"/>
<rect x="410.3" y="388.0" width="1.3" height="1.3" fill="#000"/>
<rect x="402.2" y="386.8" width="1.3" height="1.3" fill="#000"/>
<rect x="406.3" y="386.8" width="1.3" height="1.3" fill="#000"/>
<rect x="395.4" y="387.2" width="1.3" height="1.3" fill="#000"/>
<rect x="433.5" y="387.8" width="1.3" height="1.3" fill="#000"/>
<rect x="431.4" y="388.1" width="1.3" height="1.3" fill="#000"/>
<rect x="427.3" y="388.8" width="1.3" height="1.3" fill="#000"/>
<rect x="423.7" y="386.7" width="1.3" height="1.3" fill="#000"/>
<rect x="402.1" y="387.1" width="1.3" height="1.3" fill="#000"/>
<rect x="392.2" y="386.5" width="1.3" height="1.3" fill="#000"/>
<rect x="429.5" y="388.6" width="1.3" height="1.3" fill="#000"/>
<rect x="411.8" y="381.3" width="1.2" height="1.2" fill="#000"/>
<rect x="434.1" y="385.0" width="1.2" height="1.2" fill="#000"/>
<rect x="435.1" y="373.9" width="1.2" height="1.2" fill="#000"/>
<rect x="400.6" y="383.0" width="1.2" height="1.2" fill="#000"/>
<rect x="411.1" y="376.8" width="1.2" height="1.2" fill="#000"/>
<rect x="413.8" y="374.1" width="1.2" height="1.2" fill="#000"/>
<rect x="443.7" y="362.4" width="1.2" height="1.2" fill="#000"/>
<rect x="421.9" y="377.5" width="1.2" height="1.2" fill="#000"/>
<rect x="422.3" y="386.5" width="1.2" height="1.2" fill="#000"/>
<rect x="415.8" y="385.7" width="1.2" height="1.2" fill="#000"/>
<rect x="429.9" y="387.4" width="1.2" height="1.2" fill="#000"/>
<rect x="399.9" y="364.0" width="1.2" height="1.2" fill="#000"/>
<rect x="409.8" y="385.5" width="1.2" height="1.2" fill="#000"/>
<rect x="396.1" y="365.5" width="1.2" height="1.2" fill="#000"/>
<rect x="431.2" y="388.1" width="1.2" height="1.2" fill="#000"/>
<rect x="404.2" y="371.0" width="1.2" height="1.2" fill="#000"/>
<rect x="429.7" y="378.8" width="1.2" height="1.2" fill="#000"/>
<rect x="432.7" y="380.7" width="1.2" height="1.2" fill="#000"/>
<rect x="407.8" y="365.4" width="1.2" height="1.2" fill="#000"/>
<rect x="396.8" y="378.8" width="1.2" height="1.2" fill="#000"/>
<rect x="405.9" y="365.4" width="1.2" height="1.2" fill="#000"/>
<rect x="443.6" y="377.3" width="1.2" height="1.2" fill="#000"/>
<rect x="425.0" y="377.7" width="1.2" height="1.2" fill="#000"/>
<rect x="425.3" y="378.9" width="1.2" height="1.2" fill="#000"/>
<rect x="410.6" y="359.4" width="1.2" height="1.2" fill="#000"/>
<rect x="353.8" y="330.2" width="1.2" height="1.2" fill="#000"/>
<rect x="350.9" y="331.4" width="1.2" height="1.2" fill="#000"/>
<rect x="357.8" y="332.6" width="1.2" height="1.2" fill="#000"/>
<rect x="361.1" y="328.9" width="1.2" height="1.2" fill="#000"/>
<rect x="351.5" y="336.0" width="1.2" height="1.2" fill="#000"/>
<rect x="354.0" y="331.4" width="1.2" height="1.2" fill="#000"/>
<rect x="351.1" y="333.4" width="1.2" height="1.2" fill="#000"/>
<rect x="350.7" y="326.3" width="1.2" height="1.2" fill="#000"/>
<rect x="352.6" y="328.3" width="1.2" height="1.2" fill="#000"/>
<rect x="357.5" y="328.5" width="1.2" height="1.2" fill="#000"/>
<rect x="353.6" y="329.1" width="1.2" height="1.2" fill="#000"/>
<rect x="354.8" y="327.6" width="1.2" height="1.2" fill="#000"/>
<rect x="359.0" y="324.8" width="1.2" height="1.2" fill="#000"/>
<rect x="350.8" y="327.3" width="1.2" height="1.2" fill="#000"/>
<rect x="356.5" y="330.0" width="1.2" height="1.2" fill="#000"/>
<rect x="355.6" y="328.7" width="1.2" height="1.2" fill="#000"/>
<rect x="349.0" y="325.9" width="1.2" height="1.2" fill="#000"/>
<rect x="351.1" y="328.0" width="1.2" height="1.2" fill="#000"/>
<rect x="354.4" y="331.2" width="1.2" height="1.2" fill="#000"/>
<rect x="358.3" y="329.5" width="1.2" height="1.2" fill="#000"/>
<rect x="348.8" y="326.1" width="1.2" height="1.2" fill="#000"/>
<rect x="353.2" y="331.2" width="1.2" height="1.2" fill="#000"/>
<rect x="363.6" y="330.6" width="1.2" height="1.2" fill="#000"/>
<rect x="362.6" y="336.6" width="1.2" height="1.2" fill="#000"/>
<rect x="347.1" y="334.3" width="1.2" height="1.2" fill="#000"/>
<rect x="359.2" y="334.7" width="1.2" height="1.2" fill="#000"/>
<rect x="352.8" y="333.3" width="1.2" height="1.2" fill="#000"/>
<rect x="350.3" y="329.6" width="1.2" height="1.2" fill="#000"/>
<rect x="353.0" y="336.3" width="1.2" height="1.2" fill="#000"/>
<rect x="351.7" y="333.3" width="1.2" height="1.2" fill="#000"/>
<rect x="353.3" y="327.3" width="1.2" height="1.2" fill="#000"/>
<rect x="354.2" y="332.3" width="1.2" height="1.2" fill="#000"/>
<rect x="349.0" y="332.2" width="1.2" height="1.2" fill="#000"/>
<rect x="349.0" y="326.7" width="1.2" height="1.2" fill="#000"/>
<rect x="354.1" y="329.1" width="1.2" height="1.2" fill="#000"/>
<rect x="347.5" y="324.0" width="1.2" height="1.2" fill="#000"/>
<rect x="353.0" y="330.8" width="1.2" height="1.2" fill="#000"/>
<rect x="350.4" y="330.6" width="1.2" height="1.2" fill="#000"/>
<rect x="344.5" y="331.3" width="1.2" height="1.2" fill="#000"/>
<rect x="355.2" y="330.9" width="1.2" height="1.2" fill="#000"/>
<rect x="349.5" y="330.2" width="1.2" height="1.2" fill="#000"/>
<rect x="353.6" y="333.7" width="1.2" height="1.2" fill="#000"/>
<rect x="354.4" y="330.8" width="1.2" height="1.2" fill="#000"/>
<rect x="348.9" y="333.0" width="1.2" height="1.2" fill="#000"/>
<rect x="359.3" y="328.1" width="1.2" height="1.2" fill="#000"/>
<rect x="356.4" y="331.0" width="1.2" height="1.2" fill="#000"/>
<rect x="352.6" y="325.3" width="1.2" height="1.2" fill="#000"/>
<rect x="362.6" y="323.2" width="1.2" height="1.2" fill="#000"/>
<rect x="354.6" y="328.5" width="1.2" height="1.2" fill="#000"/>
<rect x="359.2" y="328.4" width="1.2" height="1.2" fill="#000"/>
<rect x="353.1" y="332.1" width="1.2" height="1.2" fill="#000"/>
<rect x="355.4" y="328.0" width="1.2" height="1.2" fill="#000"/>
<rect x="356.6" y="331.3" width="1.2" height="1.2" fill="#000"/>
<rect x="358.3" y="328.1" width="1.2" height="1.2" fill="#000"/>
<rect x="352.6" y="328.5" width="1.2" height="1.2" fill="#000"/>
<rect x="348.3" y="330.8" width="1.2" height="1.2" fill="#000"/>
<rect x="355.1" y="335.0" width="1.2" height="1.2" fill="#000"/>
<rect x="351.1" y="331.3" width="1.2" height="1.2" fill="#000"/>
<rect x="359.2" y="329.5" width="1.2" height="1.2" fill="#000"/>
<rect x="353.2" y="330.4" width="1.2" height="1.2" fill="#000"/>
<rect x="349.1" y="326.4" width="1.2" height="1.2" fill="#000"/>
<rect x="359.0" y="330.5" width="1.2" height="1.2" fill="#000"/>
<rect x="352.5" y="325.4" width="1.2" height="1.2" fill="#000"/>
<rect x="353.5" y="334.1" width="1.2" height="1.2" fill="#000"/>
<rect x="346.6" y="326.7" width="1.2" height="1.2" fill="#000"/>
<rect x="359.0" y="335.0" width="1.2" height="1.2" fill="#000"/>
<rect x="361.4" y="327.9" width="1.2" height="1.2" fill="#000"/>
<rect x="356.2" y="327.2" width="1.2" height="1.2" fill="#000"/>
<rect x="355.8" y="328.6" width="1.2" height="1.2" fill="#000"/>
<rect x="354.0" y="334.7" width="1.2" height="1.2" fill="#000"/>
<rect x="354.8" y="329.0" width="1.2" height="1.2" fill="#000"/>
<rect x="353.2" y="330.9" width="1.2" height="1.2" fill="#000"/>
<rect x="350.1" y="330.6" width="1.2" height="1.2" fill="#000"/>
<rect x="356.2" y="335.5" width="1.2" height="1.2" fill="#000"/>
<rect x="346.1" y="333.0" width="1.2" height="1.2" fill="#000"/>
<rect x="366.2" y="330.6" width="1.2" height="1.2" fill="#000"/>
<rect x="353.6" y="334.0" width="1.2" height="1.2" fill="#000"/>
<rect x="350.1" y="328.2" width="1.2" height="1.2" fill="#000"/>
<rect x="354.8" y="327.8" width="1.2" height="1.2" fill="#000"/>
<rect x="359.0" y="329.9" width="1.2" height="1.2" fill="#000"/>
<rect x="355.0" y="339.0" width="1.2" height="1.2" fill="#000"/>
<rect x="350.4" y="333.2" width="1.2" height="1.2" fill="#000"/>
<rect x="348.4" y="334.4" width="1.2" height="1.2" fill="#000"/>
<rect x="358.2" y="330.4" width="1.2" height="1.2" fill="#000"/>
<rect x="358.3" y="335.7" width="1.2" height="1.2" fill="#000"/>
<rect x="360.4" y="329.9" width="1.2" height="1.2" fill="#000"/>
<rect x="352.6" y="333.9" width="1.2" height="1.2" fill="#000"/>
<rect x="344.9" y="327.7" width="1.2" height="1.2" fill="#000"/>
<rect x="355.5" y="331.9" width="1.2" height="1.2" fill="#000"/>
<rect x="363.1" y="336.2" width="1.2" height="1.2" fill="#000"/>
<rect x="354.7" y="331.5" width="1.2" height="1.2" fill="#000"/>
<rect x="345.7" y="329.2" width="1.2" height="1.2" fill="#000"/>
<rect x="354.3" y="329.1" width="1.2" height="1.2" fill="#000"/>
<rect x="353.2" y="332.1" width="1.2" height="1.2" fill="#000"/>
<rect x="347.7" y="327.9" width="1.2" height="1.2" fill="#000"/>
<rect x="347.2" y="323.8" width="1.2" height="1.2" fill="#000"/>
<rect x="357.1" y="329.1" width="1.2" height="1.2" fill="#000"/>
<rect x="358.2" y="328.6" width="1.2" height="1.2" fill="#000"/>
<rect x="364.5" y="332.4" width="1.2" height="1.2" fill="#000"/>
<rect x="353.7" y="330.3" width="1.2" height="1.2" fill="#000"/>
<rect x="351.8" y="332.8" width="1.2" height="1.2" fill="#000"/>
<rect x="363.8" y="328.4" width="1.2" height="1.2" fill="#000"/>
<rect x="347.0" y="332.0" width="1.2" height="1.2" fill="#000"/>
<rect x="358.7" y="324.6" width="1.2" height="1.2" fill="#000"/>
<rect x="349.1" y="326.4" width="1.2" height="1.2" fill="#000"/>
<rect x="356.0" y="331.7" width="1.2" height="1.2" fill="#000"/>
<rect x="348.9" y="325.9" width="1.2" height="1.2" fill="#000"/>
<rect x="356.6" y="322.6" width="1.2" height="1.2" fill="#000"/>
<rect x="356.4" y="329.3" width="1.2" height="1.2" fill="#000"/>
<rect x="363.3" y="333.4" width="1.2" height="1.2" fill="#000"/>
<rect x="349.8" y="328.9" width="1.2" height="1.2" fill="#000"/>
<rect x="351.4" y="327.3" width="1.2" height="1.2" fill="#000"/>
<rect x="353.3" y="333.3" width="1.2" height="1.2" fill="#000"/>
<rect x="344.7" y="329.1" width="1.2" height="1.2" fill="#000"/>
<rect x="361.0" y="332.5" width="1.2" height="1.2" fill="#000"/>
<rect x="348.5" y="327.0" width="1.2" height="1.2" fill="#000"/>
<rect x="348.3" y="324.2" width="1.2" height="1.2" fill="#000"/>
<rect x="359.1" y="330.1" width="1.2" height="1.2" fill="#000"/>
<rect x="349.1" y="324.8" width="1.2" height="1.2" fill="#000"/>
<rect x="350.8" y="328.1" width="1.2" height="1.2" fill="#000"/>
<rect x="362.2" y="328.3" width="1.2" height="1.2" fill="#000"/>
<rect x="353.5" y="333.7" width="1.2" height="1.2" fill="#000"/>
<rect x="356.5" y="329.3" width="1.2" height="1.2" fill="#000"/>
<rect x="356.1" y="328.4" width="1.2" height="1.2" fill="#000"/>
<rect x="352.4" y="326.5" width="1.2" height="1.2" fill="#000"/>
<rect x="348.0" y="324.6" width="1.2" height="1.2" fill="#000"/>
<rect x="355.6" y="331.7" width="1.2" height="1.2" fill="#000"/>
<rect x="353.8" y="332.7" width="1.2" height="1.2" fill="#000"/>
<rect x="355.8" y="330.3" width="1.2" height="1.2" fill="#000"/>
<rect x="348.1" y="332.0" width="1.2" height="1.2" fill="#000"/>
<rect x="359.3" y="332.1" width="1.2" height="1.2" fill="#000"/>
<rect x="359.6" y="328.2" width="1.2" height="1.2" fill="#000"/>
<rect x="347.6" y="334.3" width="1.2" height="1.2" fill="#000"/>
<rect x="349.7" y="330.8" width="1.2" height="1.2" fill="#000"/>
<rect x="351.9" y="330.0" width="1.2" height="1.2" fill="#000"/>
<rect x="351.4" y="328.0" width="1.2" height="1.2" fill="#000"/>
<rect x="354.0" y="323.1" width="1.2" height="1.2" fill="#000"/>
<rect x="348.0" y="325.9" width="1.2" height="1.2" fill="#000"/>
<rect x="348.9" y="320.9" width="1.2" height="1.2" fill="#000"/>
<rect x="356.0" y="335.7" width="1.2" height="1.2" fill="#000"/>
<rect x="351.6" y="332.5" width="1.2" height="1.2" fill="#000"/>
<rect x="356.1" y="325.5" width="1.2" height="1.2" fill="#000"/>
<rect x="359.5" y="323.9" width="1.2" height="1.2" fill="#000"/>
<rect x="349.8" y="328.6" width="1.2" height="1.2" fill="#000"/>
<rect x="365.3" y="334.2" width="1.2" height="1.2" fill="#000"/>
<rect x="354.4" y="327.9" width="1.2" height="1.2" fill="#000"/>
<rect x="356.1" y="333.7" width="1.2" height="1.2" fill="#000"/>
<rect x="361.1" y="343.0" width="1.2" height="1.2" fill="#000"/>
<rect x="361.2" y="333.5" width="1.2" height="1.2" fill="#000"/>
<rect x="354.2" y="344.4" width="1.2" height="1.2" fill="#000"/>
<rect x="357.0" y="333.3" width="1.2" height="1.2" fill="#000"/>
<rect x="369.5" y="344.2" width="1.2" height="1.2" fill="#000"/>
<rect x="359.9" y="332.7" width="1.2" height="1.2" fill="#000"/>
<rect x="350.4" y="340.7" width="1.2" height="1.2" fill="#000"/>
<rect x="351.9" y="340.0" width="1.2" height="1.2" fill="#000"/>
<rect x="349.3" y="334.1" width="1.2" height="1.2" fill="#000"/>
<rect x="358.6" y="334.4" width="1.2" height="1.2" fill="#000"/>
<rect x="357.2" y="336.0" width="1.2" height="1.2" fill="#000"/>
<rect x="346.6" y="325.8" width="1.2" height="1.2" fill="#000"/>
<rect x="354.2" y="345.8" width="1.2" height="1.2" fill="#000"/>
<rect x="354.4" y="327.1" width="1.2" height="1.2" fill="#000"/>
<rect x="350.2" y="333.6" width="1.2" height="1.2" fill="#000"/>
<rect x="364.7" y="329.5" width="1.2" height="1.2" fill="#000"/>
<rect x="359.8" y="334.7" width="1.2" height="1.2" fill="#000"/>
<rect x="352.6" y="326.9" width="1.2" height="1.2" fill="#000"/>
<rect x="354.2" y="328.5" width="1.2" height="1.2" fill="#000"/>
<rect x="359.6" y="321.4" width="1.2" height="1.2" fill="#000"/>
<rect x="364.2" y="338.6" width="1.2" height="1.2" fill="#000"/>
<rect x="359.9" y="343.6" width="1.2" height="1.2" fill="#000"/>
<rect x="360.1" y="321.7" width="1.2" height="1.2" fill="#000"/>
<rect x="355.8" y="336.5" width="1.2" height="1.2" fill="#000"/>
<rect x="350.1" y="325.7" width="1.2" height="1.2" fill="#000"/>
<rect x="358.8" y="336.9" width="1.2" height="1.2" fill="#000"/>
<rect x="352.1" y="331.7" width="1.2" height="1.2" fill="#000"/>
<rect x="351.4" y="329.5" width="1.2" height="1.2" fill="#000"/>
<rect x="355.0" y="340.7" width="1.2" height="1.2" fill="#000"/>
<rect x="368.0" y="335.6" width="1.2" height="1.2" fill="#000"/>
<rect x="356.6" y="339.1" width="1.2" height="1.2" fill="#000"/>
<rect x="347.6" y="325.1" width="1.2" height="1.2" fill="#000"/>
<rect x="357.3" y="339.2" width="1.2" height="1.2" fill="#000"/>
<rect x="352.2" y="328.8" width="1.2" height="1.2" fill="#000"/>
<rect x="358.6" y="337.6" width="1.2" height="1.2" fill="#000"/>
<rect x="357.4" y="320.4" width="1.2" height="1.2" fill="#000"/>
<rect x="351.2" y="316.1" width="1.2" height="1.2" fill="#000"/>
<rect x="357.3" y="327.6" width="1.2" height="1.2" fill="#000"/>
<rect x="350.3" y="343.7" width="1.2" height="1.2" fill="#000"/>
<rect x="365.7" y="336.7" width="1.2" height="1.2" fill="#000"/>
<rect x="357.6" y="334.6" width="1.2" height="1.2" fill="#000"/>
<rect x="350.8" y="333.1" width="1.2" height="1.2" fill="#000"/>
<rect x="370.3" y="327.4" width="1.2" height="1.2" fill="#000"/>
<rect x="350.2" y="334.5" width="1.2" height="1.2" fill="#000"/>
<rect x="362.4" y="339.1" width="1.2" height="1.2" fill="#000"/>
<rect x="347.9" y="332.5" width="1.2" height="1.2" fill="#000"/>
<rect x="353.3" y="325.0" width="1.2" height="1.2" fill="#000"/>
<rect x="356.0" y="330.1" width="1.2" height="1.2" fill="#000"/>
<rect x="362.6" y="336.4" width="1.2" height="1.2" fill="#000"/>
<rect x="349.3" y="334.0" width="1.2" height="1.2" fill="#000"/>
<rect x="352.6" y="329.1" width="1.2" height="1.2" fill="#000"/>
<rect x="351.6" y="340.6" width="1.2" height="1.2" fill="#000"/>
<rect x="352.2" y="321.7" width="1.2" height="1.2" fill="#000"/>
<rect x="349.4" y="338.9" width="1.2" height="1.2" fill="#000"/>
<rect x="372.2" y="326.2" width="1.2" height="1.2" fill="#000"/>
<rect x="352.6" y="331.2" width="1.2" height="1.2" fill="#000"/>
<rect x="344.5" y="336.1" width="1.2" height="1.2" fill="#000"/>
<rect x="355.0" y="335.3" width="1.2" height="1.2" fill="#000"/>
<rect x="372.8" y="331.6" width="1.2" height="1.2" fill="#000"/>
<rect x="361.6" y="339.1" width="1.2" height="1.2" fill="#000"/>
<rect x="350.5" y="329.4" width="1.2" height="1.2" fill="#000"/>
<rect x="367.5" y="338.3" width="1.2" height="1.2" fill="#000"/>
<rect x="356.5" y="326.0" width="1.2" height="1.2" fill="#000"/>
<rect x="362.3" y="337.0" width="1.2" height="1.2" fill="#000"/>
<rect x="372.5" y="343.4" width="1.2" height="1.2" fill="#000"/>
<rect x="361.7" y="335.2" width="1.2" height="1.2" fill="#000"/>
<rect x="355.9" y="329.7" width="1.2" height="1.2" fill="#000"/>
<rect x="357.8" y="335.1" width="1.2" height="1.2" fill="#000"/>
<rect x="360.5" y="340.8" width="1.2" height="1.2" fill="#000"/>
<rect x="357.8" y="329.7" width="1.2" height="1.2" fill="#000"/>
<rect x="361.7" y="344.0" width="1.2" height="1.2" fill="#000"/>
<rect x="348.9" y="336.3" width="1.2" height="1.2" fill="#000"/>
<rect x="359.7" y="337.1" width="1.2" height="1.2" fill="#000"/>
<rect x="359.3" y="332.8" width="1.2" height="1.2" fill="#000"/>
<rect x="354.6" y="344.9" width="1.2" height="1.2" fill="#000"/>
<rect x="368.9" y="323.9" width="1.2" height="1.2" fill="#000"/>
<rect x="350.2" y="329.9" width="1.2" height="1.2" fill="#000"/>
<rect x="355.0" y="329.7" width="1.2" height="1.2" fill="#000"/>
<rect x="362.4" y="349.9" width="1.2" height="1.2" fill="#000"/>
<rect x="366.9" y="341.4" width="1.2" height="1.2" fill="#000"/>
<rect x="352.2" y="337.9" width="1.2" height="1.2" fill="#000"/>
<rect x="355.1" y="341.3" width="1.2" height="1.2" fill="#000"/>
<rect x="359.9" y="333.2" width="1.2" height="1.2" fill="#000"/>
<rect x="348.7" y="324.2" width="1.2" height="1.2" fill="#000"/>
<rect x="345.3" y="341.2" width="1.2" height="1.2" fill="#000"/>
<rect x="346.1" y="318.9" width="1.2" height="1.2" fill="#000"/>
<rect x="346.5" y="344.3" width="1.2" height="1.2" fill="#000"/>
<rect x="348.7" y="334.4" width="1.2" height="1.2" fill="#000"/>
<rect x="344.5" y="341.9" width="1.2" height="1.2" fill="#000"/>
<rect x="347.4" y="347.4" width="1.2" height="1.2" fill="#000"/>
<rect x="349.2" y="324.5" width="1.2" height="1.2" fill="#000"/>
<rect x="348.6" y="344.2" width="1.2" height="1.2" fill="#000"/>
<rect x="345.7" y="326.0" width="1.2" height="1.2" fill="#000"/>
<rect x="346.3" y="325.5" width="1.2" height="1.2" fill="#000"/>
<rect x="346.3" y="315.8" width="1.2" height="1.2" fill="#000"/>
<rect x="345.5" y="347.8" width="1.2" height="1.2" fill="#000"/>
<rect x="346.5" y="336.8" width="1.2" height="1.2" fill="#000"/>
<rect x="348.8" y="341.6" width="1.2" height="1.2" fill="#000"/>
<rect x="345.6" y="348.2" width="1.2" height="1.2" fill="#000"/>
<rect x="348.4" y="351.0" width="1.2" height="1.2" fill="#000"/>
<rect x="348.0" y="341.6" width="1.2" height="1.2" fill="#000"/>
<rect x="379.4" y="365.2" width="1.2" height="1.2" fill="#000"/>
<rect x="372.6" y="369.2" width="1.2" height="1.2" fill="#000"/>
<rect x="380.5" y="361.5" width="1.2" height="1.2" fill="#000"/>
<rect x="367.6" y="367.8" width="1.2" height="1.2" fill="#000"/>
<rect x="379.7" y="368.1" width="1.2" height="1.2" fill="#000"/>
<rect x="380.7" y="383.7" width="1.2" height="1.2" fill="#000"/>
<rect x="382.2" y="361.7" width="1.2" height="1.2" fill="#000"/>
<rect x="384.7" y="380.5" width="1.2" height="1.2" fill="#000"/>
<rect x="373.5" y="377.6" width="1.2" height="1.2" fill="#000"/>
<rect x="346.5" y="384.4" width="1.2" height="1.2" fill="#000"/>
<rect x="368.0" y="371.5" width="1.2" height="1.2" fill="#000"/>
<rect x="359.0" y="381.7" width="1.2" height="1.2" fill="#000"/>
<rect x="378.0" y="384.4" width="1.2" height="1.2" fill="#000"/>
<rect x="353.6" y="368.0" width="1.2" height="1.2" fill="#000"/>
<rect x="355.1" y="360.5" width="1.2" height="1.2" fill="#000"/>
<rect x="358.5" y="358.2" width="1.2" height="1.2" fill="#000"/>
<rect x="378.7" y="364.4" width="1.2" height="1.2" fill="#000"/>
<rect x="347.4" y="359.5" width="1.2" height="1.2" fill="#000"/>
<rect x="376.3" y="363.6" width="1.2" height="1.2" fill="#000"/>
<rect x="364.3" y="369.9" width="1.2" height="1.2" fill="#000"/>
<rect x="378.9" y="387.0" width="1.2" height="1.2" fill="#000"/>
<rect x="357.7" y="377.0" width="1.2" height="1.2" fill="#000"/>
<rect x="382.9" y="372.0" width="1.2" height="1.2" fill="#000"/>
<rect x="383.1" y="380.1" width="1.2" height="1.2" fill="#000"/>
<rect x="357.8" y="384.5" width="1.2" height="1.2" fill="#000"/>
<rect x="369.1" y="360.7" width="1.2" height="1.2" fill="#000"/>
<rect x="351.0" y="377.9" width="1.2" height="1.2" fill="#000"/>
<rect x="352.8" y="380.1" width="1.2" height="1.2" fill="#000"/>
<rect x="350.3" y="383.0" width="1.2" height="1.2" fill="#000"/>
<rect x="356.0" y="378.9" width="1.2" height="1.2" fill="#000"/>
<rect x="354.9" y="382.2" width="1.2" height="1.2" fill="#000"/>
<rect x="363.4" y="379.4" width="1.2" height="1.2" fill="#000"/>
<rect x="363.7" y="384.3" width="1.2" height="1.2" fill="#000"/>
<rect x="362.6" y="381.1" width="1.2" height="1.2" fill="#000"/>
<rect x="351.6" y="382.0" width="1.2" height="1.2" fill="#000"/>
<rect x="355.8" y="380.9" width="1.2" height="1.2" fill="#000"/>
<rect x="350.1" y="379.7" width="1.2" height="1.2" fill="#000"/>
<rect x="358.3" y="378.1" width="1.2" height="1.2" fill="#000"/>
<rect x="358.5" y="384.5" width="1.2" height="1.2" fill="#000"/>
<rect x="358.3" y="378.7" width="1.2" height="1.2" fill="#000"/>
<rect x="366.7" y="375.2" width="1.2" height="1.2" fill="#000"/>
<rect x="353.8" y="381.4" width="1.2" height="1.2" fill="#000"/>
<rect x="374.9" y="388.7" width="1.2" height="1.2" fill="#000"/>
<rect x="353.1" y="386.8" width="1.2" height="1.2" fill="#000"/>
<rect x="358.5" y="388.1" width="1.2" height="1.2" fill="#000"/>
<rect x="352.4" y="387.5" width="1.2" height="1.2" fill="#000"/>
<rect x="365.9" y="387.9" width="1.2" height="1.2" fill="#000"/>
<rect x="350.6" y="388.8" width="1.2" height="1.2" fill="#000"/>
<rect x="387.4" y="387.6" width="1.2" height="1.2" fill="#000"/>
<rect x="378.6" y="386.5" width="1.2" height="1.2" fill="#000"/>
<rect x="383.5" y="387.6" width="1.2" height="1.2" fill="#000"/>
<rect x="377.1" y="388.5" width="1.2" height="1.2" fill="#000"/>
<rect x="360.0" y="388.7" width="1.2" height="1.2" fill="#000"/>
<rect x="353.3" y="386.0" width="1.2" height="1.2" fill="#000"/>
<rect x="366.0" y="388.6" width="1.2" height="1.2" fill="#000"/>
<rect x="383.1" y="388.8" width="1.2" height="1.2" fill="#000"/>
<rect x="366.4" y="388.7" width="1.2" height="1.2" fill="#000"/>
<rect x="368.5" y="386.3" width="1.2" height="1.2" fill="#000"/>
<rect x="371.5" y="388.3" width="1.2" height="1.2" fill="#000"/>
<rect x="362.6" y="387.7" width="1.2" height="1.2" fill="#000"/>
<rect x="380.7" y="326.8" width="1.2" height="1.2" fill="#000"/>
<rect x="382.2" y="334.8" width="1.2" height="1.2" fill="#000"/>
<rect x="382.6" y="320.5" width="1.2" height="1.2" fill="#000"/>
<rect x="378.5" y="329.0" width="1.2" height="1.2" fill="#000"/>
<rect x="384.9" y="342.8" width="1.2" height="1.2" fill="#000"/>
<rect x="380.5" y="326.1" width="1.2" height="1.2" fill="#000"/>
<rect x="383.1" y="323.4" width="1.2" height="1.2" fill="#000"/>
<rect x="344.1" y="520.5" width="1.2" height="1.2" fill="#000"/>
<rect x="354.3" y="538.0" width="1.2" height="1.2" fill="#000"/>
<rect x="350.9" y="518.3" width="1.2" height="1.2" fill="#000"/>
<rect x="350.6" y="519.0" width="1.2" height="1.2" fill="#000"/>
<rect x="351.1" y="542.3" width="1.2" height="1.2" fill="#000"/>
<rect x="353.8" y="528.4" width="1.2" height="1.2" fill="#000"/>
<rect x="357.3" y="526.9" width="1.2" height="1.2" fill="#000"/>
<rect x="354.0" y="530.7" width="1.2" height="1.2" fill="#000"/>
<rect x="354.5" y="519.6" width="1.2" height="1.2" fill="#000"/>
<rect x="355.7" y="535.3" width="1.2" height="1.2" fill="#000"/>
<rect x="348.2" y="539.3" width="1.2" height="1.2" fill="#000"/>
<rect x="352.5" y="533.9" width="1.2" height="1.2" fill="#000"/>
<rect x="355.0" y="535.3" width="1.2" height="1.2" fill="#000"/>
<rect x="349.4" y="525.5" width="1.2" height="1.2" fill="#000"/>
<rect x="354.2" y="533.5" width="1.2" height="1.2" fill="#000"/>
<rect x="355.1" y="531.7" width="1.2" height="1.2" fill="#000"/>
<rect x="350.1" y="536.8" width="1.2" height="1.2" fill="#000"/>
<rect x="354.6" y="536.5" width="1.2" height="1.2" fill="#000"/>
<rect x="349.3" y="530.2" width="1.2" height="1.2" fill="#000"/>
<rect x="350.2" y="527.3" width="1.2" height="1.2" fill="#000"/>
<rect x="353.3" y="531.7" width="1.2" height="1.2" fill="#000"/>
<rect x="348.7" y="533.0" width="1.2" height="1.2" fill="#000"/>
<rect x="348.4" y="532.3" width="1.2" height="1.2" fill="#000"/>
<rect x="350.7" y="523.1" width="1.2" height="1.2" fill="#000"/>
<rect x="357.9" y="540.5" width="1.2" height="1.2" fill="#000"/>
<rect x="351.9" y="529.1" width="1.2" height="1.2" fill="#000"/>
<rect x="356.9" y="520.5" width="1.2" height="1.2" fill="#000"/>
<rect x="348.3" y="537.0" width="1.2" height="1.2" fill="#000"/>
<rect x="356.7" y="526.1" width="1.2" height="1.2" fill="#000"/>
<rect x="348.7" y="531.8" width="1.2" height="1.2" fill="#000"/>
<rect x="345.7" y="526.1" width="1.2" height="1.2" fill="#000"/>
<rect x="355.2" y="534.5" width="1.2" height="1.2" fill="#000"/>
<rect x="357.5" y="519.7" width="1.2" height="1.2" fill="#000"/>
<rect x="346.3" y="523.9" width="1.2" height="1.2" fill="#000"/>
<rect x="346.2" y="543.2" width="1.2" height="1.2" fill="#000"/>
<rect x="347.8" y="527.3" width="1.2" height="1.2" fill="#000"/>
<rect x="353.4" y="532.5" width="1.2" height="1.2" fill="#000"/>
<rect x="359.3" y="522.1" width="1.2" height="1.2" fill="#000"/>
<rect x="356.6" y="530.4" width="1.2" height="1.2" fill="#000"/>
<rect x="346.8" y="530.4" width="1.2" height="1.2" fill="#000"/>
<rect x="345.7" y="540.3" width="1.2" height="1.2" fill="#000"/>
<rect x="348.9" y="536.2" width="1.2" height="1.2" fill="#000"/>
<rect x="358.6" y="525.2" width="1.2" height="1.2" fill="#000"/>
<rect x="348.1" y="530.3" width="1.2" height="1.2" fill="#000"/>
<rect x="347.4" y="535.5" width="1.2" height="1.2" fill="#000"/>
<rect x="353.2" y="524.3" width="1.2" height="1.2" fill="#000"/>
<rect x="349.1" y="534.3" width="1.2" height="1.2" fill="#000"/>
<rect x="345.5" y="540.8" width="1.2" height="1.2" fill="#000"/>
<rect x="348.7" y="528.1" width="1.2" height="1.2" fill="#000"/>
<rect x="348.0" y="540.4" width="1.2" height="1.2" fill="#000"/>
<rect x="356.3" y="538.2" width="1.2" height="1.2" fill="#000"/>
<rect x="355.5" y="530.0" width="1.2" height="1.2" fill="#000"/>
<rect x="360.5" y="533.9" width="1.2" height="1.2" fill="#000"/>
<rect x="354.5" y="533.3" width="1.2" height="1.2" fill="#000"/>
<rect x="355.9" y="531.3" width="1.2" height="1.2" fill="#000"/>
<rect x="351.6" y="518.6" width="1.2" height="1.2" fill="#000"/>
<rect x="362.2" y="520.6" width="1.2" height="1.2" fill="#000"/>
<rect x="361.6" y="537.7" width="1.2" height="1.2" fill="#000"/>
<rect x="349.5" y="531.2" width="1.2" height="1.2" fill="#000"/>
<rect x="352.3" y="516.0" width="1.2" height="1.2" fill="#000"/>
<rect x="350.8" y="531.4" width="1.2" height="1.2" fill="#000"/>
<rect x="358.0" y="521.2" width="1.2" height="1.2" fill="#000"/>
<rect x="354.0" y="529.9" width="1.2" height="1.2" fill="#000"/>
<rect x="353.1" y="530.4" width="1.2" height="1.2" fill="#000"/>
<rect x="350.6" y="520.1" width="1.2" height="1.2" fill="#000"/>
<rect x="354.6" y="532.0" width="1.2" height="1.2" fill="#000"/>
<rect x="355.2" y="537.9" width="1.2" height="1.2" fill="#000"/>
<rect x="348.0" y="532.1" width="1.2" height="1.2" fill="#000"/>
<rect x="352.3" y="534.3" width="1.2" height="1.2" fill="#000"/>
<rect x="367.8" y="525.9" width="1.2" height="1.2" fill="#000"/>
<rect x="351.6" y="525.3" width="1.2" height="1.2" fill="#000"/>
<rect x="353.6" y="532.9" width="1.2" height="1.2" fill="#000"/>
<rect x="347.7" y="538.4" width="1.2" height="1.2" fill="#000"/>
<rect x="357.9" y="532.4" width="1.2" height="1.2" fill="#000"/>
<rect x="351.9" y="527.8" width="1.2" height="1.2" fill="#000"/>
<rect x="344.5" y="533.9" width="1.2" height="1.2" fill="#000"/>
<rect x="347.7" y="526.0" width="1.2" height="1.2" fill="#000"/>
<rect x="357.2" y="523.1" width="1.2" height="1.2" fill="#000"/>
<rect x="349.9" y="535.2" width="1.2" height="1.2" fill="#000"/>
<rect x="361.3" y="524.7" width="1.2" height="1.2" fill="#000"/>
<rect x="357.7" y="525.0" width="1.2" height="1.2" fill="#000"/>
<rect x="354.3" y="532.7" width="1.2" height="1.2" fill="#000"/>
<rect x="346.9" y="536.4" width="1.2" height="1.2" fill="#000"/>
<rect x="361.0" y="529.8" width="1.2" height="1.2" fill="#000"/>
<rect x="353.7" y="521.4" width="1.2" height="1.2" fill="#000"/>
<rect x="361.0" y="529.8" width="1.2" height="1.2" fill="#000"/>
<rect x="346.3" y="534.6" width="1.2" height="1.2" fill="#000"/>
<rect x="345.4" y="524.7" width="1.2" height="1.2" fill="#000"/>
<rect x="363.0" y="525.1" width="1.2" height="1.2" fill="#000"/>
<rect x="349.3" y="525.5" width="1.2" height="1.2" fill="#000"/>
<rect x="349.7" y="533.2" width="1.2" height="1.2" fill="#000"/>
<rect x="359.4" y="522.5" width="1.2" height="1.2" fill="#000"/>
<rect x="354.5" y="517.1" width="1.2" height="1.2" fill="#000"/>
<rect x="359.7" y="528.8" width="1.2" height="1.2" fill="#000"/>
<rect x="349.0" y="539.8" width="1.2" height="1.2" fill="#000"/>
<rect x="351.9" y="538.7" width="1.2" height="1.2" fill="#000"/>
<rect x="357.6" y="540.7" width="1.2" height="1.2" fill="#000"/>
<rect x="348.6" y="529.8" width="1.2" height="1.2" fill="#000"/>
<rect x="354.2" y="528.1" width="1.2" height="1.2" fill="#000"/>
<rect x="359.7" y="524.5" width="1.2" height="1.2" fill="#000"/>
<rect x="357.2" y="538.7" width="1.2" height="1.2" fill="#000"/>
<rect x="348.1" y="525.7" width="1.2" height="1.2" fill="#000"/>
<rect x="354.3" y="528.2" width="1.2" height="1.2" fill="#000"/>
<rect x="352.8" y="526.3" width="1.2" height="1.2" fill="#000"/>
<rect x="352.0" y="532.7" width="1.2" height="1.2" fill="#000"/>
<rect x="356.0" y="524.1" width="1.2" height="1.2" fill="#000"/>
<rect x="351.9" y="524.2" width="1.2" height="1.2" fill="#000"/>
<rect x="351.5" y="519.6" width="1.2" height="1.2" fill="#000"/>
<rect x="357.0" y="534.0" width="1.2" height="1.2" fill="#000"/>
<rect x="351.8" y="524.7" width="1.2" height="1.2" fill="#000"/>
<rect x="350.2" y="524.9" width="1.2" height="1.2" fill="#000"/>
<rect x="345.0" y="540.5" width="1.2" height="1.2" fill="#000"/>
<rect x="368.2" y="521.0" width="1.2" height="1.2" fill="#000"/>
<rect x="346.8" y="533.3" width="1.2" height="1.2" fill="#000"/>
<rect x="359.9" y="524.0" width="1.2" height="1.2" fill="#000"/>
<rect x="351.7" y="538.1" width="1.2" height="1.2" fill="#000"/>
<rect x="355.4" y="532.6" width="1.2" height="1.2" fill="#000"/>
<rect x="354.3" y="534.9" width="1.2" height="1.2" fill="#000"/>
<rect x="364.7" y="536.6" width="1.2" height="1.2" fill="#000"/>
<rect x="355.2" y="532.9" width="1.2" height="1.2" fill="#000"/>
<rect x="350.6" y="531.1" width="1.2" height="1.2" fill="#000"/>
<rect x="355.5" y="553.0" width="1.2" height="1.2" fill="#000"/>
<rect x="363.8" y="539.4" width="1.2" height="1.2" fill="#000"/>
<rect x="367.9" y="546.0" width="1.2" height="1.2" fill="#000"/>
<rect x="357.0" y="536.0" width="1.2" height="1.2" fill="#000"/>
<rect x="347.2" y="539.5" width="1.2" height="1.2" fill="#000"/>
<rect x="353.0" y="523.9" width="1.2" height="1.2" fill="#000"/>
<rect x="345.8" y="553.9" width="1.2" height="1.2" fill="#000"/>
<rect x="357.0" y="541.6" width="1.2" height="1.2" fill="#000"/>
<rect x="356.9" y="533.5" width="1.2" height="1.2" fill="#000"/>
<rect x="358.9" y="546.6" width="1.2" height="1.2" fill="#000"/>
<rect x="353.1" y="541.8" width="1.2" height="1.2" fill="#000"/>
<rect x="363.1" y="533.3" width="1.2" height="1.2" fill="#000"/>
<rect x="356.7" y="531.1" width="1.2" height="1.2" fill="#000"/>
<rect x="359.9" y="534.3" width="1.2" height="1.2" fill="#000"/>
<rect x="364.0" y="530.9" width="1.2" height="1.2" fill="#000"/>
<rect x="368.1" y="534.8" width="1.2" height="1.2" fill="#000"/>
<rect x="349.1" y="529.7" width="1.2" height="1.2" fill="#000"/>
<rect x="360.4" y="530.1" width="1.2" height="1.2" fill="#000"/>
<rect x="368.9" y="548.3" width="1.2" height="1.2" fill="#000"/>
<rect x="359.3" y="525.3" width="1.2" height="1.2" fill="#000"/>
<rect x="355.2" y="531.2" width="1.2" height="1.2" fill="#000"/>
<rect x="371.9" y="532.8" width="1.2" height="1.2" fill="#000"/>
<rect x="361.5" y="548.3" width="1.2" height="1.2" fill="#000"/>
<rect x="348.2" y="534.5" width="1.2" height="1.2" fill="#000"/>
<rect x="357.4" y="541.4" width="1.2" height="1.2" fill="#000"/>
<rect x="346.8" y="539.2" width="1.2" height="1.2" fill="#000"/>
<rect x="354.6" y="545.5" width="1.2" height="1.2" fill="#000"/>
<rect x="351.6" y="534.7" width="1.2" height="1.2" fill="#000"/>
<rect x="360.8" y="532.1" width="1.2" height="1.2" fill="#000"/>
<rect x="375.9" y="531.4" width="1.2" height="1.2" fill="#000"/>
<rect x="361.7" y="546.1" width="1.2" height="1.2" fill="#000"/>
<rect x="362.6" y="535.7" width="1.2" height="1.2" fill="#000"/>
<rect x="349.2" y="535.2" width="1.2" height="1.2" fill="#000"/>
<rect x="360.4" y="538.4" width="1.2" height="1.2" fill="#000"/>
<rect x="359.8" y="542.3" width="1.2" height="1.2" fill="#000"/>
<rect x="348.8" y="529.5" width="1.2" height="1.2" fill="#000"/>
<rect x="366.2" y="533.3" width="1.2" height="1.2" fill="#000"/>
<rect x="349.1" y="529.5" width="1.2" height="1.2" fill="#000"/>
<rect x="362.7" y="527.8" width="1.2" height="1.2" fill="#000"/>
<rect x="348.9" y="546.3" width="1.2" height="1.2" fill="#000"/>
<rect x="356.4" y="537.9" width="1.2" height="1.2" fill="#000"/>
<rect x="350.6" y="535.5" width="1.2" height="1.2" fill="#000"/>
<rect x="351.6" y="537.2" width="1.2" height="1.2" fill="#000"/>
<rect x="361.2" y="526.6" width="1.2" height="1.2" fill="#000"/>
<rect x="348.5" y="519.6" width="1.2" height="1.2" fill="#000"/>
<rect x="366.7" y="536.8" width="1.2" height="1.2" fill="#000"/>
<rect x="355.3" y="536.9" width="1.2" height="1.2" fill="#000"/>
<rect x="362.9" y="540.1" width="1.2" height="1.2" fill="#000"/>
<rect x="361.8" y="536.0" width="1.2" height="1.2" fill="#000"/>
<rect x="354.5" y="536.9" width="1.2" height="1.2" fill="#000"/>
<rect x="360.4" y="537.9" width="1.2" height="1.2" fill="#000"/>
<rect x="361.5" y="551.9" width="1.2" height="1.2" fill="#000"/>
<rect x="369.4" y="549.2" width="1.2" height="1.2" fill="#000"/>
<rect x="348.8" y="536.7" width="1.2" height="1.2" fill="#000"/>
<rect x="362.9" y="535.6" width="1.2" height="1.2" fill="#000"/>
<rect x="354.5" y="534.4" width="1.2" height="1.2" fill="#000"/>
<rect x="365.6" y="516.4" width="1.2" height="1.2" fill="#000"/>
<rect x="364.9" y="546.4" width="1.2" height="1.2" fill="#000"/>
<rect x="354.9" y="542.2" width="1.2" height="1.2" fill="#000"/>
<rect x="348.1" y="546.8" width="1.2" height="1.2" fill="#000"/>
<rect x="378.4" y="529.6" width="1.2" height="1.2" fill="#000"/>
<rect x="365.9" y="536.9" width="1.2" height="1.2" fill="#000"/>
<rect x="352.9" y="533.3" width="1.2" height="1.2" fill="#000"/>
<rect x="354.0" y="526.8" width="1.2" height="1.2" fill="#000"/>
<rect x="345.2" y="551.5" width="1.2" height="1.2" fill="#000"/>
<rect x="355.3" y="542.1" width="1.2" height="1.2" fill="#000"/>
<rect x="357.7" y="541.5" width="1.2" height="1.2" fill="#000"/>
<rect x="360.1" y="545.9" width="1.2" height="1.2" fill="#000"/>
<rect x="346.8" y="532.5" width="1.2" height="1.2" fill="#000"/>
<rect x="347.4" y="543.0" width="1.2" height="1.2" fill="#000"/>
<rect x="358.0" y="537.7" width="1.2" height="1.2" fill="#000"/>
<rect x="350.5" y="540.3" width="1.2" height="1.2" fill="#000"/>
<rect x="355.6" y="531.1" width="1.2" height="1.2" fill="#000"/>
<rect x="357.9" y="531.8" width="1.2" height="1.2" fill="#000"/>
<rect x="362.5" y="542.7" width="1.2" height="1.2" fill="#000"/>
<rect x="350.2" y="542.4" width="1.2" height="1.2" fill="#000"/>
<rect x="355.9" y="531.4" width="1.2" height="1.2" fill="#000"/>
<rect x="345.9" y="547.2" width="1.3" height="1.3" fill="#000"/>
<rect x="345.3" y="535.0" width="1.3" height="1.3" fill="#000"/>
<rect x="346.6" y="538.7" width="1.3" height="1.3" fill="#000"/>
<rect x="344.5" y="518.9" width="1.3" height="1.3" fill="#000"/>
<rect x="344.2" y="528.6" width="1.3" height="1.3" fill="#000"/>
<rect x="344.2" y="540.4" width="1.3" height="1.3" fill="#000"/>
<rect x="345.2" y="527.8" width="1.3" height="1.3" fill="#000"/>
<rect x="345.4" y="551.0" width="1.3" height="1.3" fill="#000"/>
<rect x="344.7" y="522.1" width="1.3" height="1.3" fill="#000"/>
<rect x="344.8" y="528.3" width="1.3" height="1.3" fill="#000"/>
<rect x="346.6" y="542.5" width="1.3" height="1.3" fill="#000"/>
<rect x="345.2" y="522.5" width="1.3" height="1.3" fill="#000"/>
<rect x="344.1" y="520.9" width="1.3" height="1.3" fill="#000"/>
<rect x="346.4" y="540.3" width="1.3" height="1.3" fill="#000"/>
<rect x="344.4" y="539.5" width="1.3" height="1.3" fill="#000"/>
<rect x="344.1" y="535.1" width="1.3" height="1.3" fill="#000"/>
<rect x="344.9" y="520.1" width="1.3" height="1.3" fill="#000"/>
<rect x="346.1" y="542.9" width="1.3" height="1.3" fill="#000"/>
<rect x="345.4" y="522.6" width="1.3" height="1.3" fill="#000"/>
<rect x="345.9" y="532.4" width="1.3" height="1.3" fill="#000"/>
<rect x="345.9" y="519.7" width="1.3" height="1.3" fill="#000"/>
<rect x="346.6" y="516.5" width="1.3" height="1.3" fill="#000"/>
<rect x="344.6" y="531.1" width="1.3" height="1.3" fill="#000"/>
<rect x="344.5" y="519.6" width="1.3" height="1.3" fill="#000"/>
<rect x="345.9" y="553.1" width="1.3" height="1.3" fill="#000"/>
<rect x="352.1" y="552.1" width="1.2" height="1.2" fill="#000"/>
<rect x="358.8" y="552.0" width="1.2" height="1.2" fill="#000"/>
<rect x="353.4" y="553.1" width="1.2" height="1.2" fill="#000"/>
<rect x="354.0" y="551.8" width="1.2" height="1.2" fill="#000"/>
<rect x="346.8" y="552.8" width="1.2" height="1.2" fill="#000"/>
<rect x="365.2" y="553.7" width="1.2" height="1.2" fill="#000"/>
<rect x="347.4" y="552.7" width="1.2" height="1.2" fill="#000"/>
<rect x="355.2" y="551.9" width="1.2" height="1.2" fill="#000"/>
<rect x="358.8" y="552.6" width="1.2" height="1.2" fill="#000"/>
<rect x="361.6" y="552.1" width="1.2" height="1.2" fill="#000"/>
<rect x="364.1" y="553.4" width="1.2" height="1.2" fill="#000"/>
<rect x="354.9" y="551.8" width="1.2" height="1.2" fill="#000"/>
<rect x="353.7" y="493.3" width="1.4" height="1.4" fill="#000"/>
</svg></body></html>
